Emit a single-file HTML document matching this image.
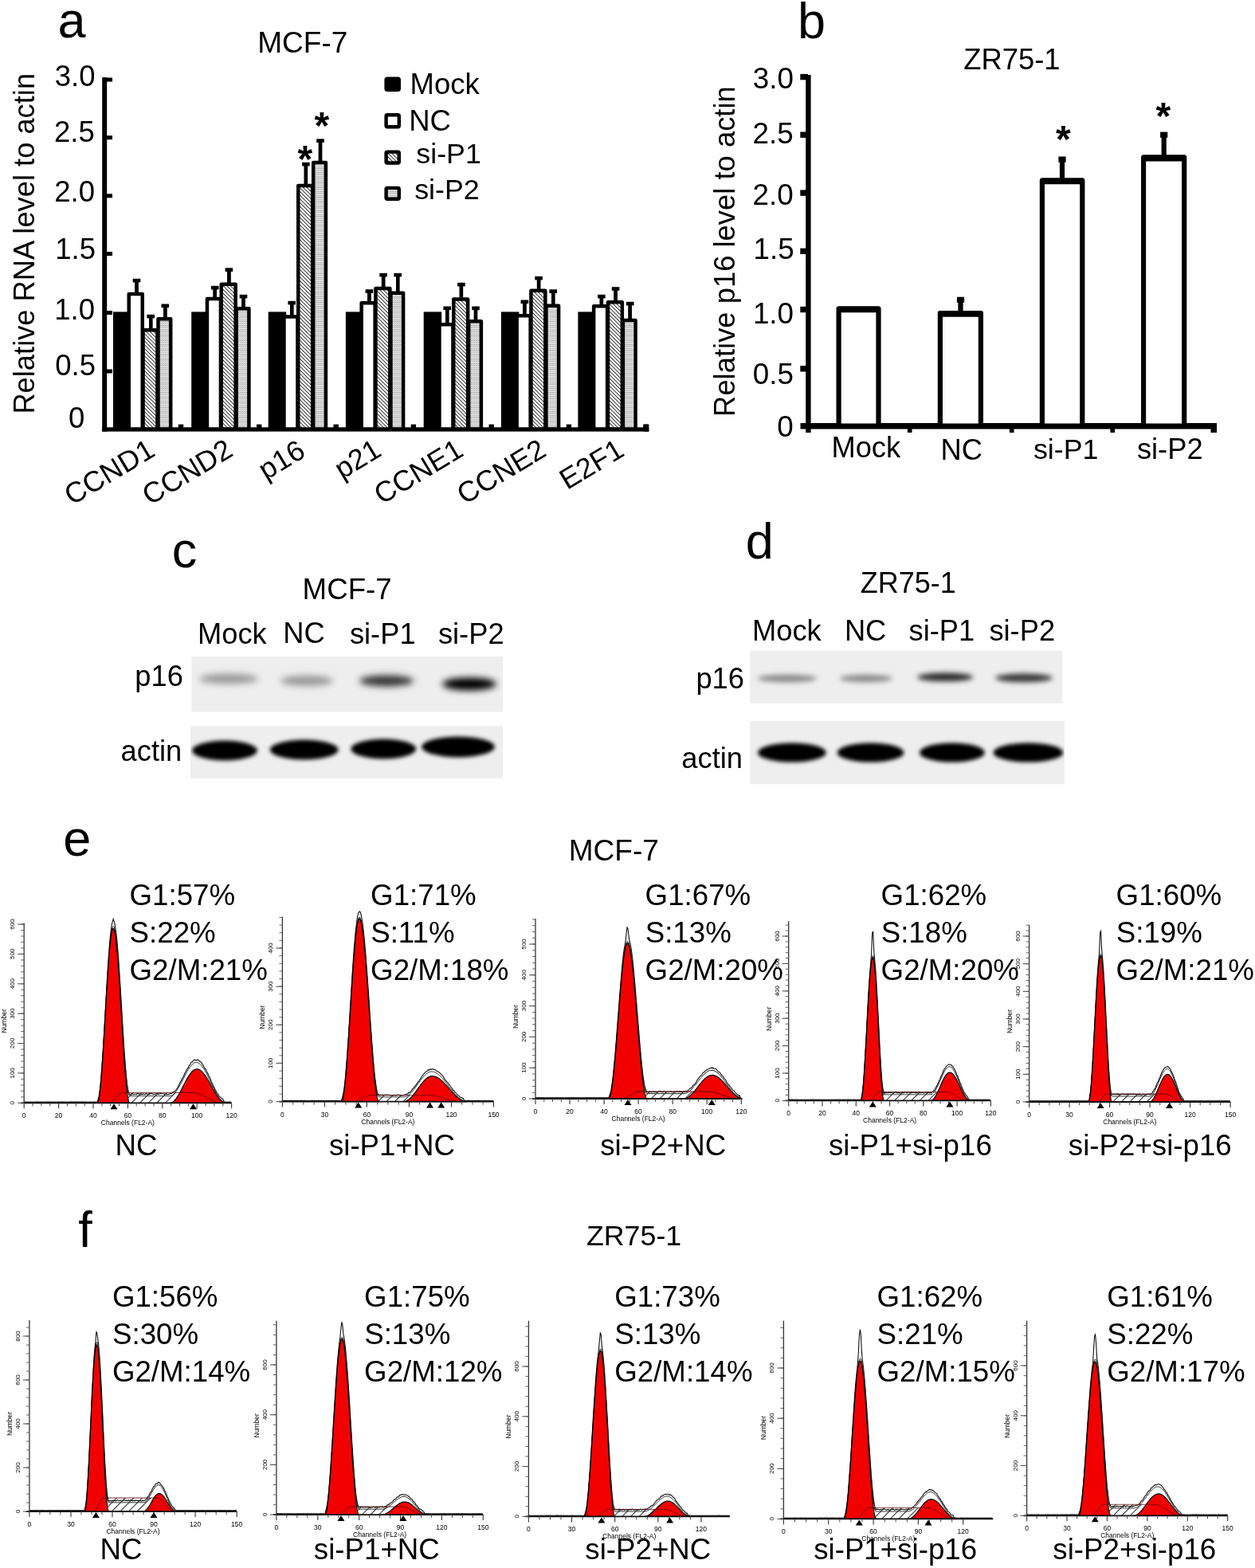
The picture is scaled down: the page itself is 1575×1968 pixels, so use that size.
<!DOCTYPE html>
<html><head><meta charset="utf-8"><title>Figure</title>
<style>
html,body{margin:0;padding:0;background:#fff;}
svg{display:block;}
text{font-family:'Liberation Sans', Arial, sans-serif;fill:#000;}
</style></head>
<body>
<svg width="1575" height="1968" viewBox="0 0 1575 1968">
<rect width="1575" height="1968" fill="#fff"/>
<defs>
<pattern id="hatch" patternUnits="userSpaceOnUse" width="3.3" height="3.3" patternTransform="rotate(-45)"><rect width="3.3" height="3.3" fill="#fff"/><rect width="0.9" height="3.3" fill="#222"/></pattern>
<pattern id="dots" patternUnits="userSpaceOnUse" width="3" height="2.4"><rect width="3" height="2.4" fill="#ececec"/><rect width="2" height="0.9" fill="#9a9a9a"/><rect x="2" y="0.4" width="1" height="0.9" fill="#b4b4b4"/></pattern>
<pattern id="shatch" patternUnits="userSpaceOnUse" width="7.5" height="7.5" patternTransform="rotate(45)"><rect width="7.5" height="7.5" fill="#fff"/><rect width="1.0" height="7.5" fill="#222"/></pattern>
<pattern id="rhatch" patternUnits="userSpaceOnUse" width="7" height="7" patternTransform="rotate(-45)"><rect width="7" height="7" fill="#f00"/><rect width="1.1" height="7" fill="#a00"/></pattern>
<filter id="bl0" x="-30%" y="-80%" width="160%" height="260%"><feGaussianBlur stdDeviation="3.2"/></filter>
<filter id="bl1" x="-30%" y="-80%" width="160%" height="260%"><feGaussianBlur stdDeviation="4.5"/></filter>
<filter id="bl2" x="-30%" y="-80%" width="160%" height="260%"><feGaussianBlur stdDeviation="2.8"/></filter>
</defs>
<rect x="128.20" y="97.00" width="6.00" height="444.60" fill="#000"/>
<rect x="128.20" y="536.30" width="686.10" height="5.30" fill="#000"/>
<rect x="133.00" y="97.50" width="8.00" height="5.00" fill="#000"/>
<rect x="133.00" y="170.20" width="8.00" height="5.00" fill="#000"/>
<rect x="133.00" y="243.30" width="8.00" height="5.00" fill="#000"/>
<rect x="133.00" y="316.00" width="8.00" height="5.00" fill="#000"/>
<rect x="133.00" y="390.00" width="8.00" height="5.00" fill="#000"/>
<rect x="133.00" y="463.50" width="8.00" height="5.00" fill="#000"/>
<text x="68.7" y="107.6" font-size="36.5">3.0</text>
<text x="68.0" y="178.0" font-size="36.5">2.5</text>
<text x="68.2" y="253.4" font-size="36.5">2.0</text>
<text x="69.2" y="324.6" font-size="36.5">1.5</text>
<text x="68.2" y="400.7" font-size="36.5">1.0</text>
<text x="69.2" y="470.6" font-size="36.5">0.5</text>
<text x="86.1" y="537.2" font-size="36.5">0</text>
<text transform="translate(42.8,519.6) rotate(-90)" font-size="36.3">Relative RNA level to actin</text>
<text x="323.3" y="66.2" font-size="37">MCF-7</text>
<rect x="169.30" y="352.00" width="4.40" height="17.70" fill="#000"/>
<rect x="166.70" y="349.80" width="9.60" height="4.60" fill="#000"/>
<rect x="187.00" y="397.00" width="4.40" height="18.00" fill="#000"/>
<rect x="184.40" y="394.80" width="9.60" height="4.60" fill="#000"/>
<rect x="205.10" y="383.70" width="4.40" height="17.30" fill="#000"/>
<rect x="202.50" y="381.50" width="9.60" height="4.60" fill="#000"/>
<rect x="142.00" y="391.40" width="22.50" height="147.10" fill="#000"/>
<rect x="161.75" y="368.95" width="17" height="169.55" fill="#fff" stroke="#000" stroke-width="4.5" stroke-linejoin="round"/>
<rect x="179.55" y="414.25" width="17.9" height="124.25" fill="url(#hatch)" stroke="#000" stroke-width="4.5" stroke-linejoin="round"/>
<rect x="198.50" y="400.25" width="15.7" height="138.25" fill="url(#dots)" stroke="#000" stroke-width="4.5" stroke-linejoin="round"/>
<rect x="169.30" y="352.00" width="4.40" height="16.70" fill="#000"/>
<rect x="187.00" y="397.00" width="4.40" height="17.00" fill="#000"/>
<rect x="205.10" y="383.70" width="4.40" height="16.30" fill="#000"/>
<rect x="223.80" y="532.60" width="6.40" height="4.40" fill="#000"/>
<rect x="267.50" y="361.00" width="4.40" height="14.80" fill="#000"/>
<rect x="264.90" y="358.80" width="9.60" height="4.60" fill="#000"/>
<rect x="285.20" y="338.50" width="4.40" height="19.10" fill="#000"/>
<rect x="282.60" y="336.30" width="9.60" height="4.60" fill="#000"/>
<rect x="303.30" y="372.00" width="4.40" height="16.00" fill="#000"/>
<rect x="300.70" y="369.80" width="9.60" height="4.60" fill="#000"/>
<rect x="240.20" y="391.40" width="22.50" height="147.10" fill="#000"/>
<rect x="259.95" y="375.05" width="17" height="163.45" fill="#fff" stroke="#000" stroke-width="4.5" stroke-linejoin="round"/>
<rect x="277.75" y="356.85" width="17.9" height="181.65" fill="url(#hatch)" stroke="#000" stroke-width="4.5" stroke-linejoin="round"/>
<rect x="296.70" y="387.25" width="15.7" height="151.25" fill="url(#dots)" stroke="#000" stroke-width="4.5" stroke-linejoin="round"/>
<rect x="267.50" y="361.00" width="4.40" height="13.80" fill="#000"/>
<rect x="285.20" y="338.50" width="4.40" height="18.10" fill="#000"/>
<rect x="303.30" y="372.00" width="4.40" height="15.00" fill="#000"/>
<rect x="322.00" y="532.60" width="6.40" height="4.40" fill="#000"/>
<rect x="364.00" y="380.00" width="4.40" height="18.20" fill="#000"/>
<rect x="361.40" y="377.80" width="9.60" height="4.60" fill="#000"/>
<rect x="381.70" y="206.00" width="4.40" height="27.80" fill="#000"/>
<rect x="379.10" y="203.80" width="9.60" height="4.60" fill="#000"/>
<rect x="399.80" y="176.50" width="4.40" height="28.30" fill="#000"/>
<rect x="397.20" y="174.30" width="9.60" height="4.60" fill="#000"/>
<rect x="336.70" y="391.40" width="22.50" height="147.10" fill="#000"/>
<rect x="356.45" y="397.45" width="17" height="141.05" fill="#fff" stroke="#000" stroke-width="4.5" stroke-linejoin="round"/>
<rect x="374.25" y="233.05" width="17.9" height="305.45" fill="url(#hatch)" stroke="#000" stroke-width="4.5" stroke-linejoin="round"/>
<rect x="393.20" y="204.05" width="15.7" height="334.45" fill="url(#dots)" stroke="#000" stroke-width="4.5" stroke-linejoin="round"/>
<rect x="364.00" y="380.00" width="4.40" height="17.20" fill="#000"/>
<rect x="381.70" y="206.00" width="4.40" height="26.80" fill="#000"/>
<rect x="399.80" y="176.50" width="4.40" height="27.30" fill="#000"/>
<rect x="418.50" y="532.60" width="6.40" height="4.40" fill="#000"/>
<rect x="461.20" y="365.40" width="4.40" height="15.60" fill="#000"/>
<rect x="458.60" y="363.20" width="9.60" height="4.60" fill="#000"/>
<rect x="478.90" y="345.00" width="4.40" height="17.80" fill="#000"/>
<rect x="476.30" y="342.80" width="9.60" height="4.60" fill="#000"/>
<rect x="497.00" y="345.00" width="4.40" height="23.60" fill="#000"/>
<rect x="494.40" y="342.80" width="9.60" height="4.60" fill="#000"/>
<rect x="433.90" y="391.40" width="22.50" height="147.10" fill="#000"/>
<rect x="453.65" y="380.25" width="17" height="158.25" fill="#fff" stroke="#000" stroke-width="4.5" stroke-linejoin="round"/>
<rect x="471.45" y="362.05" width="17.9" height="176.45" fill="url(#hatch)" stroke="#000" stroke-width="4.5" stroke-linejoin="round"/>
<rect x="490.40" y="367.85" width="15.7" height="170.65" fill="url(#dots)" stroke="#000" stroke-width="4.5" stroke-linejoin="round"/>
<rect x="461.20" y="365.40" width="4.40" height="14.60" fill="#000"/>
<rect x="478.90" y="345.00" width="4.40" height="16.80" fill="#000"/>
<rect x="497.00" y="345.00" width="4.40" height="22.60" fill="#000"/>
<rect x="515.70" y="532.60" width="6.40" height="4.40" fill="#000"/>
<rect x="559.00" y="386.70" width="4.40" height="21.20" fill="#000"/>
<rect x="556.40" y="384.50" width="9.60" height="4.60" fill="#000"/>
<rect x="576.70" y="357.00" width="4.40" height="19.20" fill="#000"/>
<rect x="574.10" y="354.80" width="9.60" height="4.60" fill="#000"/>
<rect x="594.80" y="386.70" width="4.40" height="17.30" fill="#000"/>
<rect x="592.20" y="384.50" width="9.60" height="4.60" fill="#000"/>
<rect x="531.70" y="391.40" width="22.50" height="147.10" fill="#000"/>
<rect x="551.45" y="407.15" width="17" height="131.35" fill="#fff" stroke="#000" stroke-width="4.5" stroke-linejoin="round"/>
<rect x="569.25" y="375.45" width="17.9" height="163.05" fill="url(#hatch)" stroke="#000" stroke-width="4.5" stroke-linejoin="round"/>
<rect x="588.20" y="403.25" width="15.7" height="135.25" fill="url(#dots)" stroke="#000" stroke-width="4.5" stroke-linejoin="round"/>
<rect x="559.00" y="386.70" width="4.40" height="20.20" fill="#000"/>
<rect x="576.70" y="357.00" width="4.40" height="18.20" fill="#000"/>
<rect x="594.80" y="386.70" width="4.40" height="16.30" fill="#000"/>
<rect x="613.50" y="532.60" width="6.40" height="4.40" fill="#000"/>
<rect x="656.20" y="378.70" width="4.40" height="18.40" fill="#000"/>
<rect x="653.60" y="376.50" width="9.60" height="4.60" fill="#000"/>
<rect x="673.90" y="349.00" width="4.40" height="16.40" fill="#000"/>
<rect x="671.30" y="346.80" width="9.60" height="4.60" fill="#000"/>
<rect x="692.00" y="365.50" width="4.40" height="18.90" fill="#000"/>
<rect x="689.40" y="363.30" width="9.60" height="4.60" fill="#000"/>
<rect x="628.90" y="391.40" width="22.50" height="147.10" fill="#000"/>
<rect x="648.65" y="396.35" width="17" height="142.15" fill="#fff" stroke="#000" stroke-width="4.5" stroke-linejoin="round"/>
<rect x="666.45" y="364.65" width="17.9" height="173.85" fill="url(#hatch)" stroke="#000" stroke-width="4.5" stroke-linejoin="round"/>
<rect x="685.40" y="383.65" width="15.7" height="154.85" fill="url(#dots)" stroke="#000" stroke-width="4.5" stroke-linejoin="round"/>
<rect x="656.20" y="378.70" width="4.40" height="17.40" fill="#000"/>
<rect x="673.90" y="349.00" width="4.40" height="15.40" fill="#000"/>
<rect x="692.00" y="365.50" width="4.40" height="17.90" fill="#000"/>
<rect x="710.70" y="532.60" width="6.40" height="4.40" fill="#000"/>
<rect x="752.70" y="372.00" width="4.40" height="13.00" fill="#000"/>
<rect x="750.10" y="369.80" width="9.60" height="4.60" fill="#000"/>
<rect x="770.40" y="362.40" width="4.40" height="17.60" fill="#000"/>
<rect x="767.80" y="360.20" width="9.60" height="4.60" fill="#000"/>
<rect x="788.50" y="381.00" width="4.40" height="21.80" fill="#000"/>
<rect x="785.90" y="378.80" width="9.60" height="4.60" fill="#000"/>
<rect x="725.40" y="391.40" width="22.50" height="147.10" fill="#000"/>
<rect x="745.15" y="384.25" width="17" height="154.25" fill="#fff" stroke="#000" stroke-width="4.5" stroke-linejoin="round"/>
<rect x="762.95" y="379.25" width="17.9" height="159.25" fill="url(#hatch)" stroke="#000" stroke-width="4.5" stroke-linejoin="round"/>
<rect x="781.90" y="402.05" width="15.7" height="136.45" fill="url(#dots)" stroke="#000" stroke-width="4.5" stroke-linejoin="round"/>
<rect x="752.70" y="372.00" width="4.40" height="12.00" fill="#000"/>
<rect x="770.40" y="362.40" width="4.40" height="16.60" fill="#000"/>
<rect x="788.50" y="381.00" width="4.40" height="20.80" fill="#000"/>
<rect x="807.20" y="532.60" width="6.40" height="4.40" fill="#000"/>
<rect x="808.00" y="532.60" width="6.30" height="9.00" fill="#000"/>
<text x="394.5" y="174.3" font-size="48" font-weight="bold">*</text>
<text x="373.6" y="216.3" font-size="48" font-weight="bold">*</text>
<rect x="484.6" y="98.8" width="16.2" height="14.0" rx="1.5" fill="#000" stroke="#000" stroke-width="4.4"/>
<rect x="484.6" y="144.2" width="16.2" height="15.0" rx="1.5" fill="#fff" stroke="#000" stroke-width="4.4"/>
<rect x="484.6" y="190.6" width="16.2" height="13.9" rx="1.5" fill="url(#hatch)" stroke="#000" stroke-width="4.4"/>
<rect x="484.6" y="235.9" width="16.2" height="13.9" rx="1.5" fill="url(#dots)" stroke="#000" stroke-width="4.4"/>
<text x="514.5" y="117.7" font-size="36.5">Mock</text>
<text x="513.2" y="163.5" font-size="36.5">NC</text>
<text x="522.3" y="205.2" font-size="35.8">si-P1</text>
<text x="520.2" y="249.5" font-size="35.8">si-P2</text>
<text transform="translate(196.6,571.0) rotate(-31)" font-size="36" text-anchor="end">CCND1</text>
<text transform="translate(294.4,571.0) rotate(-31)" font-size="36" text-anchor="end">CCND2</text>
<text transform="translate(385.3,572.0) rotate(-31)" font-size="36" text-anchor="end">p16</text>
<text transform="translate(480.7,571.0) rotate(-31)" font-size="36" text-anchor="end">p21</text>
<text transform="translate(583.6,571.0) rotate(-31)" font-size="36" text-anchor="end">CCNE1</text>
<text transform="translate(687.7,571.0) rotate(-31)" font-size="36" text-anchor="end">CCNE2</text>
<text transform="translate(785.5,571.0) rotate(-31)" font-size="36" text-anchor="end">E2F1</text>
<text x="72.6" y="46.5" font-size="63">a</text>
<rect x="1011.20" y="94.00" width="6.40" height="449.00" fill="#000"/>
<rect x="1004.50" y="531.00" width="522.50" height="7.50" fill="#000"/>
<rect x="1004.30" y="92.90" width="9.70" height="7.40" fill="#000"/>
<rect x="1004.30" y="165.50" width="9.70" height="7.40" fill="#000"/>
<rect x="1004.30" y="238.40" width="9.70" height="7.40" fill="#000"/>
<rect x="1004.30" y="311.60" width="9.70" height="7.40" fill="#000"/>
<rect x="1004.30" y="384.80" width="9.70" height="7.40" fill="#000"/>
<rect x="1004.30" y="459.10" width="9.70" height="7.40" fill="#000"/>
<rect x="1138.90" y="536.00" width="5.60" height="7.00" fill="#000"/>
<rect x="1266.90" y="536.00" width="5.60" height="7.00" fill="#000"/>
<rect x="1393.40" y="536.00" width="5.60" height="7.00" fill="#000"/>
<rect x="1519.50" y="531.00" width="7.50" height="12.00" fill="#000"/>
<text x="944.8" y="111.1" font-size="36.8">3.0</text>
<text x="944.5" y="179.5" font-size="36.8">2.5</text>
<text x="944.6" y="256.6" font-size="36.8">2.0</text>
<text x="945.5" y="324.8" font-size="36.8">1.5</text>
<text x="944.9" y="406.2" font-size="36.8">1.0</text>
<text x="944.7" y="482.0" font-size="36.8">0.5</text>
<text x="975.2" y="547.8" font-size="36.8">0</text>
<text transform="translate(921.9,522.9) rotate(-90)" font-size="36.4">Relative p16 level to actin</text>
<text x="1209.2" y="86.8" font-size="36.4">ZR75-1</text>
<text x="1000.9" y="48.4" font-size="63">b</text>
<rect x="1052.60" y="387.60" width="49.90" height="147.10" fill="#fff" stroke="#000" stroke-width="6.2" stroke-linejoin="round"/>
<rect x="1050.50" y="384.50" width="54.10" height="7.8" rx="1.5" fill="#000"/>
<rect x="1202.40" y="375.70" width="6.20" height="17.30" fill="#000"/>
<rect x="1200.90" y="372.70" width="9.20" height="7.20" fill="#000"/>
<rect x="1179.90" y="393.10" width="51.00" height="141.60" fill="#fff" stroke="#000" stroke-width="6.2" stroke-linejoin="round"/>
<rect x="1177.80" y="390.00" width="55.20" height="7.8" rx="1.5" fill="#000"/>
<rect x="1329.90" y="199.50" width="6.20" height="27.00" fill="#000"/>
<rect x="1328.40" y="196.50" width="9.20" height="7.20" fill="#000"/>
<rect x="1307.90" y="226.60" width="50.40" height="308.10" fill="#fff" stroke="#000" stroke-width="6.2" stroke-linejoin="round"/>
<rect x="1305.80" y="223.50" width="54.60" height="7.8" rx="1.5" fill="#000"/>
<rect x="1457.60" y="168.60" width="6.20" height="29.00" fill="#000"/>
<rect x="1456.10" y="165.60" width="9.20" height="7.20" fill="#000"/>
<rect x="1435.10" y="197.70" width="51.10" height="337.00" fill="#fff" stroke="#000" stroke-width="6.2" stroke-linejoin="round"/>
<rect x="1433.00" y="194.60" width="55.30" height="7.8" rx="1.5" fill="#000"/>
<text x="1325.0" y="191.2" font-size="48" font-weight="bold">*</text>
<text x="1450.4" y="162.2" font-size="48" font-weight="bold">*</text>
<text x="1043.4" y="574.0" font-size="36.3">Mock</text>
<text x="1180.6" y="576.5" font-size="36.3">NC</text>
<text x="1296.9" y="576.3" font-size="35.8">si-P1</text>
<text x="1426.9" y="576.3" font-size="36.3">si-P2</text>
<text x="215.7" y="711.5" font-size="63">c</text>
<text x="379.6" y="751.7" font-size="36.7">MCF-7</text>
<text x="248.0" y="807.7" font-size="36.3">Mock</text>
<text x="355.2" y="807.3" font-size="36.3">NC</text>
<text x="438.9" y="807.5" font-size="36.3">si-P1</text>
<text x="549.9" y="807.5" font-size="36.3">si-P2</text>
<text x="169.3" y="860.6" font-size="36.3">p16</text>
<text x="151.6" y="955.2" font-size="36.3">actin</text>
<rect x="240.4" y="824.1" width="390.6" height="69.5" fill="#eeeeee"/>
<svg x="240.4" y="824.1" width="390.6" height="69.5" overflow="hidden">
<ellipse cx="46.8" cy="27.9" rx="37" ry="6.5" fill="#999" filter="url(#bl1)"/>
<ellipse cx="144.6" cy="30.4" rx="33" ry="6.5" fill="#979797" filter="url(#bl1)"/>
<ellipse cx="244.6" cy="30.4" rx="34" ry="7" fill="#353535" filter="url(#bl1)"/>
<ellipse cx="348.6" cy="34.4" rx="34" ry="8" fill="#000" filter="url(#bl1)"/>
</svg>
<rect x="239.0" y="911.3" width="392.0" height="65.70000000000005" fill="#eeeeee"/>
<svg x="239.0" y="911.3" width="392.0" height="65.70000000000005" overflow="hidden">
<ellipse cx="43.0" cy="30.7" rx="41" ry="12.5" fill="#000" filter="url(#bl2)"/>
<ellipse cx="142.7" cy="29.7" rx="43" ry="12.5" fill="#000" filter="url(#bl2)"/>
<ellipse cx="242.3" cy="28.7" rx="41" ry="12.5" fill="#000" filter="url(#bl2)"/>
<ellipse cx="336.0" cy="26.1" rx="46" ry="13" fill="#000" filter="url(#bl2)"/>
</svg>
<text x="935.8" y="701.3" font-size="63">d</text>
<text x="1079.8" y="743.7" font-size="36">ZR75-1</text>
<text x="944.0" y="804.1" font-size="36.3">Mock</text>
<text x="1059.9" y="803.6" font-size="36.3">NC</text>
<text x="1140.5" y="803.8" font-size="36.3">si-P1</text>
<text x="1241.4" y="803.8" font-size="36.3">si-P2</text>
<text x="873.4" y="864.1" font-size="36.3">p16</text>
<text x="855.3" y="964.3" font-size="36.3">actin</text>
<rect x="941.0" y="816.9" width="392.20000000000005" height="65.80000000000007" fill="#eeeeee"/>
<svg x="941.0" y="816.9" width="392.20000000000005" height="65.80000000000007" overflow="hidden">
<ellipse cx="47.0" cy="34.6" rx="37" ry="5.0" fill="#8c8c8c" filter="url(#bl0)"/>
<ellipse cx="145.8" cy="34.6" rx="33" ry="5.0" fill="#8e8e8e" filter="url(#bl0)"/>
<ellipse cx="245.3" cy="32.9" rx="35" ry="5.5" fill="#2e2e2e" filter="url(#bl0)"/>
<ellipse cx="344.0" cy="33.9" rx="36" ry="5.5" fill="#3a3a3a" filter="url(#bl0)"/>
</svg>
<rect x="941.0" y="905.0" width="394.79999999999995" height="79.20000000000005" fill="#eeeeee"/>
<svg x="941.0" y="905.0" width="394.79999999999995" height="79.20000000000005" overflow="hidden">
<ellipse cx="52.9" cy="39.6" rx="43" ry="12" fill="#000" filter="url(#bl2)"/>
<ellipse cx="151.6" cy="39.6" rx="42" ry="12" fill="#000" filter="url(#bl2)"/>
<ellipse cx="253.9" cy="39.6" rx="41" ry="12" fill="#000" filter="url(#bl2)"/>
<ellipse cx="349.4" cy="39.6" rx="44" ry="12" fill="#000" filter="url(#bl2)"/>
</svg>
<text x="79.2" y="1074.0" font-size="63">e</text>
<text x="713.8" y="1079.9" font-size="37">MCF-7</text>
<text x="98.3" y="1565.0" font-size="63">f</text>
<text x="735.9" y="1563.0" font-size="35.8">ZR75-1</text>
<polygon points="137.1,1384.3 137.2,1384.3 138.2,1384.1 139.2,1383.7 140.2,1383.0 141.2,1382.2 142.2,1381.3 143.2,1380.2 144.2,1379.0 145.2,1377.8 146.2,1376.7 147.2,1375.5 148.2,1374.4 149.2,1373.5 150.2,1372.6 151.2,1372.0 152.2,1371.5 153.2,1371.3 154.2,1371.3 155.2,1371.3 156.2,1371.3 157.2,1371.3 158.2,1371.3 159.2,1371.3 160.2,1371.3 161.2,1371.3 162.2,1371.3 163.2,1371.3 164.2,1371.3 165.2,1371.3 166.2,1371.3 167.2,1371.3 168.2,1371.3 169.2,1371.3 170.2,1371.3 171.2,1371.3 172.2,1371.3 173.2,1371.3 174.2,1371.3 175.2,1371.3 176.2,1371.3 177.2,1371.3 178.2,1371.3 179.2,1371.3 180.2,1371.3 181.2,1371.3 182.2,1371.3 183.2,1371.3 184.2,1371.3 185.2,1371.3 186.2,1371.3 187.2,1371.3 188.2,1371.3 189.2,1371.3 190.2,1371.3 191.2,1371.3 192.2,1371.3 193.2,1371.3 194.2,1371.3 195.2,1371.3 196.2,1371.3 197.2,1371.3 198.2,1371.3 199.2,1371.3 200.2,1371.3 201.2,1371.3 202.2,1371.3 203.2,1371.3 204.2,1371.3 205.2,1371.3 206.2,1371.3 207.2,1371.3 208.2,1371.3 209.2,1371.3 210.2,1371.3 211.2,1371.3 212.2,1371.3 213.2,1371.3 214.2,1371.3 215.2,1371.3 216.2,1371.3 217.2,1371.3 218.2,1371.3 219.2,1371.3 220.2,1371.3 221.2,1371.3 222.2,1371.3 223.2,1371.3 224.2,1371.3 225.2,1371.3 226.2,1371.3 227.2,1371.3 228.2,1371.3 229.2,1371.3 230.2,1371.3 231.2,1371.3 232.2,1371.3 233.2,1371.3 234.2,1371.3 235.2,1371.3 236.2,1371.3 237.2,1371.3 238.2,1371.3 239.2,1371.3 240.2,1371.3 241.2,1371.3 242.2,1371.3 243.2,1371.3 244.2,1371.5 245.2,1371.6 246.2,1371.8 247.2,1372.1 248.2,1372.4 249.2,1372.7 250.2,1373.1 251.2,1373.5 252.2,1373.9 253.2,1374.3 254.2,1374.8 255.2,1375.3 256.2,1375.8 257.2,1376.4 258.2,1376.9 259.2,1377.4 260.2,1378.0 261.2,1378.5 262.2,1379.0 263.2,1379.6 264.2,1380.1 265.2,1380.6 266.2,1381.1 267.2,1381.5 268.2,1382.0 269.2,1382.4 270.2,1382.8 271.2,1383.1 272.2,1383.4 273.2,1383.7 274.2,1383.9 275.2,1384.1 276.2,1384.2 277.2,1384.3 277.9,1384.3" fill="url(#shatch)"/>
<polyline points="30.2,1383.2 31.2,1383.2 32.2,1383.1 33.2,1383.3 34.2,1383.1 35.2,1383.2 36.2,1383.3 37.2,1383.1 38.2,1383.3 39.2,1383.2 40.2,1383.3 41.2,1383.3 42.2,1383.2 43.2,1383.1 44.2,1383.2 45.2,1383.2 46.2,1383.1 47.2,1383.0 48.2,1383.1 49.2,1383.2 50.2,1383.0 51.2,1383.3 52.2,1383.1 53.2,1383.2 54.2,1383.2 55.2,1383.2 56.2,1383.2 57.2,1383.1 58.2,1383.2 59.2,1383.1 60.2,1383.1 61.2,1383.2 62.2,1383.1 63.2,1383.3 64.2,1383.3 65.2,1383.2 66.2,1383.1 67.2,1383.2 68.2,1383.2 69.2,1383.1 70.2,1383.2 71.2,1383.2 72.2,1383.1 73.2,1383.1 74.2,1383.2 75.2,1383.1 76.2,1383.1 77.2,1383.1 78.2,1383.1 79.2,1383.2 80.2,1383.0 81.2,1383.2 82.2,1383.2 83.2,1383.1 84.2,1383.2 85.2,1383.2 86.2,1383.3 87.2,1383.1 88.2,1383.1 89.2,1383.1 90.2,1383.1 91.2,1383.2 92.2,1383.1 93.2,1383.1 94.2,1383.1 95.2,1383.2 96.2,1383.1 97.2,1383.0 98.2,1383.2 99.2,1383.1 100.2,1383.3 101.2,1383.1 102.2,1383.1 103.2,1383.0 104.2,1383.1 105.2,1383.2 106.2,1383.2 107.2,1383.1 108.2,1383.3 109.2,1383.2 110.2,1383.2 111.2,1383.2 112.2,1383.3 113.2,1383.1 114.2,1383.2 115.2,1383.2 116.2,1383.2 117.2,1383.1 118.2,1383.3 119.2,1383.2 120.2,1383.1 121.2,1383.1 122.2,1383.1 123.2,1379.2 124.2,1375.8 125.2,1368.7 126.2,1359.5 127.2,1347.2 128.2,1333.6 129.2,1319.4 130.2,1302.9 131.2,1285.6 132.2,1267.9 133.2,1249.9 134.2,1232.7 135.2,1216.8 136.2,1202.3 137.2,1188.5 138.2,1177.3 139.2,1167.9 140.2,1160.7 141.2,1156.9 142.2,1153.5 143.2,1156.7 144.2,1160.2 145.2,1167.0 146.2,1174.1 147.2,1184.6 148.2,1196.6 149.2,1210.5 150.2,1226.0 151.2,1241.9 152.2,1258.8 153.2,1274.8 154.2,1292.1 155.2,1308.0 156.2,1322.6 157.2,1336.1 158.2,1347.6 159.2,1357.7 160.2,1365.4 161.2,1370.4 162.2,1373.2 163.2,1373.3 164.2,1373.7 165.2,1372.6 166.2,1372.9 167.2,1373.5 168.2,1373.4 169.2,1373.3 170.2,1373.3 171.2,1373.6 172.2,1372.6 173.2,1372.4 174.2,1373.1 175.2,1373.1 176.2,1373.6 177.2,1373.6 178.2,1373.3 179.2,1373.4 180.2,1372.6 181.2,1373.5 182.2,1373.7 183.2,1372.5 184.2,1373.0 185.2,1373.5 186.2,1373.0 187.2,1373.7 188.2,1373.0 189.2,1372.5 190.2,1372.6 191.2,1372.8 192.2,1373.4 193.2,1373.2 194.2,1373.5 195.2,1372.7 196.2,1373.0 197.2,1372.7 198.2,1373.3 199.2,1373.4 200.2,1372.7 201.2,1372.4 202.2,1372.6 203.2,1372.7 204.2,1372.7 205.2,1372.8 206.2,1373.4 207.2,1373.1 208.2,1373.3 209.2,1373.7 210.2,1373.7 211.2,1373.4 212.2,1373.4 213.2,1372.8 214.2,1372.3 215.2,1372.7 216.2,1371.6 217.2,1370.8 218.2,1370.0 219.2,1369.8 220.2,1368.8 221.2,1367.5 222.2,1366.1 223.2,1364.5 224.2,1362.3 225.2,1360.2 226.2,1358.4 227.2,1356.9 228.2,1354.8 229.2,1352.6 230.2,1351.5 231.2,1348.8 232.2,1346.5 233.2,1344.7 234.2,1342.9 235.2,1341.4 236.2,1340.1 237.2,1337.6 238.2,1336.7 239.2,1334.7 240.2,1333.2 241.2,1332.9 242.2,1331.9 243.2,1330.5 244.2,1330.2 245.2,1330.6 246.2,1330.6 247.2,1330.6 248.2,1330.0 249.2,1330.6 250.2,1332.1 251.2,1332.0 252.2,1332.8 253.2,1334.4 254.2,1336.1 255.2,1337.3 256.2,1339.5 257.2,1341.3 258.2,1341.9 259.2,1344.3 260.2,1346.4 261.2,1348.0 262.2,1350.7 263.2,1352.3 264.2,1354.5 265.2,1357.5 266.2,1359.6 267.2,1361.7 268.2,1363.9 269.2,1365.5 270.2,1367.9 271.2,1369.5 272.2,1371.7 273.2,1372.3 274.2,1374.6 275.2,1375.8 276.2,1376.9 277.2,1377.5 278.2,1379.0 279.2,1379.1 280.2,1380.2 281.2,1382.8 282.2,1383.0 283.2,1383.3 284.2,1383.2 285.2,1383.2 286.2,1383.3 287.2,1383.1 288.2,1383.2 289.2,1383.2 290.2,1383.1" fill="none" stroke="#111" stroke-width="1.1"/>
<polyline points="30.2,1383.3 31.2,1383.3 32.2,1383.3 33.2,1383.3 34.2,1383.3 35.2,1383.3 36.2,1383.3 37.2,1383.3 38.2,1383.3 39.2,1383.3 40.2,1383.3 41.2,1383.3 42.2,1383.3 43.2,1383.3 44.2,1383.3 45.2,1383.3 46.2,1383.3 47.2,1383.3 48.2,1383.3 49.2,1383.3 50.2,1383.3 51.2,1383.3 52.2,1383.3 53.2,1383.3 54.2,1383.3 55.2,1383.3 56.2,1383.3 57.2,1383.3 58.2,1383.3 59.2,1383.3 60.2,1383.3 61.2,1383.3 62.2,1383.3 63.2,1383.3 64.2,1383.3 65.2,1383.3 66.2,1383.3 67.2,1383.3 68.2,1383.3 69.2,1383.3 70.2,1383.3 71.2,1383.3 72.2,1383.3 73.2,1383.3 74.2,1383.3 75.2,1383.3 76.2,1383.3 77.2,1383.3 78.2,1383.3 79.2,1383.3 80.2,1383.3 81.2,1383.3 82.2,1383.3 83.2,1383.3 84.2,1383.3 85.2,1383.3 86.2,1383.3 87.2,1383.3 88.2,1383.3 89.2,1383.3 90.2,1383.3 91.2,1383.3 92.2,1383.3 93.2,1383.3 94.2,1383.3 95.2,1383.3 96.2,1383.3 97.2,1383.3 98.2,1383.3 99.2,1383.3 100.2,1383.3 101.2,1383.3 102.2,1383.3 103.2,1383.3 104.2,1383.3 105.2,1383.3 106.2,1383.3 107.2,1383.3 108.2,1383.3 109.2,1383.3 110.2,1383.3 111.2,1383.3 112.2,1383.3 113.2,1383.3 114.2,1383.3 115.2,1383.3 116.2,1383.3 117.2,1383.3 118.2,1383.3 119.2,1383.3 120.2,1383.3 121.2,1383.3 122.2,1383.3 123.2,1381.9 124.2,1377.8 125.2,1371.1 126.2,1362.0 127.2,1350.6 128.2,1337.3 129.2,1322.4 130.2,1306.3 131.2,1289.4 132.2,1272.0 133.2,1254.8 134.2,1237.9 135.2,1222.0 136.2,1207.4 137.2,1194.5 138.2,1183.4 139.2,1174.5 140.2,1167.9 141.2,1163.8 142.2,1162.4 143.2,1163.5 144.2,1167.0 145.2,1172.9 146.2,1181.0 147.2,1191.1 148.2,1203.0 149.2,1216.5 150.2,1231.2 151.2,1246.8 152.2,1263.0 153.2,1279.4 154.2,1295.6 155.2,1311.1 156.2,1325.7 157.2,1338.8 158.2,1350.3 159.2,1359.9 160.2,1367.3 161.2,1372.4 162.2,1375.1 163.2,1375.5 164.2,1375.5 165.2,1375.5 166.2,1375.5 167.2,1375.5 168.2,1375.5 169.2,1375.5 170.2,1375.5 171.2,1375.5 172.2,1375.5 173.2,1375.5 174.2,1375.5 175.2,1375.5 176.2,1375.5 177.2,1375.5 178.2,1375.5 179.2,1375.5 180.2,1375.5 181.2,1375.5 182.2,1375.5 183.2,1375.5 184.2,1375.5 185.2,1375.5 186.2,1375.5 187.2,1375.5 188.2,1375.5 189.2,1375.5 190.2,1375.5 191.2,1375.5 192.2,1375.5 193.2,1375.5 194.2,1375.5 195.2,1375.5 196.2,1375.5 197.2,1375.5 198.2,1375.5 199.2,1375.5 200.2,1375.5 201.2,1375.5 202.2,1375.5 203.2,1375.5 204.2,1375.5 205.2,1375.5 206.2,1375.5 207.2,1375.5 208.2,1375.5 209.2,1375.5 210.2,1375.5 211.2,1375.5 212.2,1375.5 213.2,1375.5 214.2,1375.4 215.2,1375.1 216.2,1374.6 217.2,1373.9 218.2,1373.1 219.2,1372.1 220.2,1370.9 221.2,1369.7 222.2,1368.3 223.2,1366.7 224.2,1365.1 225.2,1363.3 226.2,1361.5 227.2,1359.7 228.2,1357.7 229.2,1355.8 230.2,1353.8 231.2,1351.9 232.2,1349.9 233.2,1348.0 234.2,1346.2 235.2,1344.4 236.2,1342.7 237.2,1341.1 238.2,1339.6 239.2,1338.3 240.2,1337.1 241.2,1336.0 242.2,1335.1 243.2,1334.3 244.2,1333.8 245.2,1333.5 246.2,1333.4 247.2,1333.5 248.2,1333.7 249.2,1334.2 250.2,1334.9 251.2,1335.7 252.2,1336.7 253.2,1337.8 254.2,1339.1 255.2,1340.5 256.2,1342.1 257.2,1343.8 258.2,1345.6 259.2,1347.4 260.2,1349.4 261.2,1351.4 262.2,1353.5 263.2,1355.6 264.2,1357.8 265.2,1359.9 266.2,1362.0 267.2,1364.1 268.2,1366.2 269.2,1368.2 270.2,1370.1 271.2,1371.9 272.2,1373.7 273.2,1375.3 274.2,1376.8 275.2,1378.1 276.2,1379.3 277.2,1380.4 278.2,1381.2 279.2,1382.0 280.2,1382.5 281.2,1382.9 282.2,1383.2 283.2,1383.3 284.2,1383.3 285.2,1383.3 286.2,1383.3 287.2,1383.3 288.2,1383.3 289.2,1383.3 290.2,1383.3" fill="none" stroke="#222" stroke-width="1.0"/>
<polygon points="122.2,1384.3 122.7,1384.0 123.2,1382.9 123.7,1381.2 124.2,1378.8 124.7,1375.8 125.2,1372.1 125.7,1367.8 126.2,1363.0 126.7,1357.5 127.2,1351.6 127.7,1345.2 128.2,1338.3 128.7,1331.0 129.2,1323.4 129.7,1315.4 130.2,1307.3 130.7,1298.9 131.2,1290.3 131.7,1281.7 132.2,1273.0 132.7,1264.3 133.2,1255.7 133.7,1247.2 134.2,1238.9 134.7,1230.8 135.2,1223.0 135.7,1215.5 136.2,1208.4 136.7,1201.7 137.2,1195.4 137.7,1189.7 138.2,1184.5 138.7,1179.8 139.2,1175.8 139.7,1172.4 140.2,1169.6 140.7,1167.5 141.2,1166.1 141.7,1165.3 142.2,1165.3 142.7,1165.8 143.2,1167.0 143.7,1168.8 144.2,1171.2 144.7,1174.2 145.2,1177.8 145.7,1181.9 146.2,1186.6 146.7,1191.8 147.2,1197.4 147.7,1203.5 148.2,1210.0 148.7,1216.8 149.2,1224.0 149.7,1231.5 150.2,1239.2 150.7,1247.2 151.2,1255.2 151.7,1263.4 152.2,1271.7 152.7,1280.0 153.2,1288.2 153.7,1296.4 154.2,1304.5 154.7,1312.3 155.2,1320.0 155.7,1327.4 156.2,1334.5 156.7,1341.3 157.2,1347.7 157.7,1353.6 158.2,1359.1 158.7,1364.2 159.2,1368.7 159.7,1372.7 160.2,1376.1 160.7,1379.0 161.2,1381.2 161.7,1382.9 162.2,1383.9 162.7,1384.3 162.7,1384.3 122.2,1384.3" fill="#f20000" stroke="#000" stroke-width="1.2" stroke-linejoin="round"/>
<polygon points="213.0,1384.3 214.0,1384.2 215.0,1383.9 216.0,1383.5 217.0,1382.9 218.0,1382.1 219.0,1381.1 220.0,1380.0 221.0,1378.8 222.0,1377.4 223.0,1375.9 224.0,1374.2 225.0,1372.5 226.0,1370.7 227.0,1368.9 228.0,1367.0 229.0,1365.0 230.0,1363.1 231.0,1361.1 232.0,1359.2 233.0,1357.3 234.0,1355.4 235.0,1353.6 236.0,1351.9 237.0,1350.3 238.0,1348.8 239.0,1347.4 240.0,1346.1 241.0,1345.0 242.0,1344.0 243.0,1343.2 244.0,1342.6 245.0,1342.2 246.0,1341.9 247.0,1341.8 248.0,1341.9 249.0,1342.1 250.0,1342.5 251.0,1343.0 252.0,1343.7 253.0,1344.6 254.0,1345.6 255.0,1346.7 256.0,1347.9 257.0,1349.2 258.0,1350.7 259.0,1352.2 260.0,1353.8 261.0,1355.5 262.0,1357.3 263.0,1359.1 264.0,1360.9 265.0,1362.7 266.0,1364.5 267.0,1366.4 268.0,1368.2 269.0,1369.9 270.0,1371.6 271.0,1373.3 272.0,1374.9 273.0,1376.3 274.0,1377.7 275.0,1379.0 276.0,1380.2 277.0,1381.2 278.0,1382.1 279.0,1382.8 280.0,1383.4 281.0,1383.9 282.0,1384.2 283.0,1384.3 283.0,1384.3 213.0,1384.3" fill="#f20000" stroke="#000" stroke-width="1.2" stroke-linejoin="round"/>
<polyline points="137.2,1384.3 138.2,1384.1 139.2,1383.7 140.2,1383.0 141.2,1382.2 142.2,1381.3 143.2,1380.2 144.2,1379.0 145.2,1377.8 146.2,1376.7 147.2,1375.5 148.2,1374.4 149.2,1373.5 150.2,1372.6 151.2,1372.0 152.2,1371.5 153.2,1371.3 154.2,1371.3 155.2,1371.3 156.2,1371.3 157.2,1371.3 158.2,1371.3 159.2,1371.3 160.2,1371.3 161.2,1371.3 162.2,1371.3 163.2,1371.3 164.2,1371.3 165.2,1371.3 166.2,1371.3 167.2,1371.3 168.2,1371.3 169.2,1371.3 170.2,1371.3 171.2,1371.3 172.2,1371.3 173.2,1371.3 174.2,1371.3 175.2,1371.3 176.2,1371.3 177.2,1371.3 178.2,1371.3 179.2,1371.3 180.2,1371.3 181.2,1371.3 182.2,1371.3 183.2,1371.3 184.2,1371.3 185.2,1371.3 186.2,1371.3 187.2,1371.3 188.2,1371.3 189.2,1371.3 190.2,1371.3 191.2,1371.3 192.2,1371.3 193.2,1371.3 194.2,1371.3 195.2,1371.3 196.2,1371.3 197.2,1371.3 198.2,1371.3 199.2,1371.3 200.2,1371.3 201.2,1371.3 202.2,1371.3 203.2,1371.3 204.2,1371.3 205.2,1371.3 206.2,1371.3 207.2,1371.3 208.2,1371.3 209.2,1371.3 210.2,1371.3 211.2,1371.3 212.2,1371.3 213.2,1371.3 214.2,1371.3 215.2,1371.3 216.2,1371.3 217.2,1371.3 218.2,1371.3 219.2,1371.3 220.2,1371.3 221.2,1371.3 222.2,1371.3 223.2,1371.3 224.2,1371.3 225.2,1371.3 226.2,1371.3 227.2,1371.3 228.2,1371.3 229.2,1371.3 230.2,1371.3 231.2,1371.3 232.2,1371.3 233.2,1371.3 234.2,1371.3 235.2,1371.3 236.2,1371.3 237.2,1371.3 238.2,1371.3 239.2,1371.3 240.2,1371.3 241.2,1371.3 242.2,1371.3 243.2,1371.3 244.2,1371.5 245.2,1371.6 246.2,1371.8 247.2,1372.1 248.2,1372.4 249.2,1372.7 250.2,1373.1 251.2,1373.5 252.2,1373.9 253.2,1374.3 254.2,1374.8 255.2,1375.3 256.2,1375.8 257.2,1376.4 258.2,1376.9 259.2,1377.4 260.2,1378.0 261.2,1378.5 262.2,1379.0 263.2,1379.6 264.2,1380.1 265.2,1380.6 266.2,1381.1 267.2,1381.5 268.2,1382.0 269.2,1382.4 270.2,1382.8 271.2,1383.1 272.2,1383.4 273.2,1383.7 274.2,1383.9 275.2,1384.1 276.2,1384.2 277.2,1384.3" fill="none" stroke="#500" stroke-width="1.0" opacity="0.85"/>
<line x1="30.2" y1="1158.5" x2="30.2" y2="1384.3" stroke="#333" stroke-width="1.3"/>
<line x1="26.2" y1="1384.3" x2="290.6" y2="1384.3" stroke="#111" stroke-width="1.8"/>
<line x1="30.2" y1="1384.3" x2="30.2" y2="1391.3" stroke="#333" stroke-width="1.1"/>
<text x="30.2" y="1403.3" font-size="8.5" fill="#999" text-anchor="middle">0</text>
<line x1="41.0" y1="1384.3" x2="41.0" y2="1388.3" stroke="#444" stroke-width="1"/>
<line x1="51.9" y1="1384.3" x2="51.9" y2="1388.3" stroke="#444" stroke-width="1"/>
<line x1="62.8" y1="1384.3" x2="62.8" y2="1388.3" stroke="#444" stroke-width="1"/>
<line x1="73.6" y1="1384.3" x2="73.6" y2="1391.3" stroke="#333" stroke-width="1.1"/>
<text x="73.6" y="1403.3" font-size="8.5" fill="#999" text-anchor="middle">20</text>
<line x1="84.5" y1="1384.3" x2="84.5" y2="1388.3" stroke="#444" stroke-width="1"/>
<line x1="95.3" y1="1384.3" x2="95.3" y2="1388.3" stroke="#444" stroke-width="1"/>
<line x1="106.2" y1="1384.3" x2="106.2" y2="1388.3" stroke="#444" stroke-width="1"/>
<line x1="117.0" y1="1384.3" x2="117.0" y2="1391.3" stroke="#333" stroke-width="1.1"/>
<text x="117.0" y="1403.3" font-size="8.5" fill="#999" text-anchor="middle">40</text>
<line x1="127.9" y1="1384.3" x2="127.9" y2="1388.3" stroke="#444" stroke-width="1"/>
<line x1="138.7" y1="1384.3" x2="138.7" y2="1388.3" stroke="#444" stroke-width="1"/>
<line x1="149.6" y1="1384.3" x2="149.6" y2="1388.3" stroke="#444" stroke-width="1"/>
<line x1="160.4" y1="1384.3" x2="160.4" y2="1391.3" stroke="#333" stroke-width="1.1"/>
<text x="160.4" y="1403.3" font-size="8.5" fill="#999" text-anchor="middle">60</text>
<line x1="171.2" y1="1384.3" x2="171.2" y2="1388.3" stroke="#444" stroke-width="1"/>
<line x1="182.1" y1="1384.3" x2="182.1" y2="1388.3" stroke="#444" stroke-width="1"/>
<line x1="193.0" y1="1384.3" x2="193.0" y2="1388.3" stroke="#444" stroke-width="1"/>
<line x1="203.8" y1="1384.3" x2="203.8" y2="1391.3" stroke="#333" stroke-width="1.1"/>
<text x="203.8" y="1403.3" font-size="8.5" fill="#999" text-anchor="middle">80</text>
<line x1="214.7" y1="1384.3" x2="214.7" y2="1388.3" stroke="#444" stroke-width="1"/>
<line x1="225.5" y1="1384.3" x2="225.5" y2="1388.3" stroke="#444" stroke-width="1"/>
<line x1="236.4" y1="1384.3" x2="236.4" y2="1388.3" stroke="#444" stroke-width="1"/>
<line x1="247.2" y1="1384.3" x2="247.2" y2="1391.3" stroke="#333" stroke-width="1.1"/>
<text x="247.2" y="1403.3" font-size="8.5" fill="#999" text-anchor="middle">100</text>
<line x1="258.1" y1="1384.3" x2="258.1" y2="1388.3" stroke="#444" stroke-width="1"/>
<line x1="268.9" y1="1384.3" x2="268.9" y2="1388.3" stroke="#444" stroke-width="1"/>
<line x1="279.8" y1="1384.3" x2="279.8" y2="1388.3" stroke="#444" stroke-width="1"/>
<line x1="290.6" y1="1384.3" x2="290.6" y2="1391.3" stroke="#333" stroke-width="1.1"/>
<text x="290.6" y="1403.3" font-size="8.5" fill="#999" text-anchor="middle">120</text>
<text x="160.4" y="1412.3" font-size="8.5" fill="#999" text-anchor="middle">Channels (FL2-A)</text>
<line x1="22.2" y1="1384.3" x2="30.2" y2="1384.3" stroke="#444" stroke-width="1"/>
<text transform="translate(18.2,1384.3) rotate(-90)" font-size="8" fill="#999" text-anchor="middle">0</text>
<line x1="22.2" y1="1346.9" x2="30.2" y2="1346.9" stroke="#444" stroke-width="1"/>
<text transform="translate(18.2,1346.9) rotate(-90)" font-size="8" fill="#999" text-anchor="middle">100</text>
<line x1="22.2" y1="1309.5" x2="30.2" y2="1309.5" stroke="#444" stroke-width="1"/>
<text transform="translate(18.2,1309.5) rotate(-90)" font-size="8" fill="#999" text-anchor="middle">200</text>
<line x1="22.2" y1="1272.2" x2="30.2" y2="1272.2" stroke="#444" stroke-width="1"/>
<text transform="translate(18.2,1272.2) rotate(-90)" font-size="8" fill="#999" text-anchor="middle">300</text>
<line x1="22.2" y1="1234.8" x2="30.2" y2="1234.8" stroke="#444" stroke-width="1"/>
<text transform="translate(18.2,1234.8) rotate(-90)" font-size="8" fill="#999" text-anchor="middle">400</text>
<line x1="22.2" y1="1197.4" x2="30.2" y2="1197.4" stroke="#444" stroke-width="1"/>
<text transform="translate(18.2,1197.4) rotate(-90)" font-size="8" fill="#999" text-anchor="middle">500</text>
<line x1="22.2" y1="1160.0" x2="30.2" y2="1160.0" stroke="#444" stroke-width="1"/>
<text transform="translate(18.2,1160.0) rotate(-90)" font-size="8" fill="#999" text-anchor="middle">600</text>
<line x1="26.2" y1="1384.3" x2="30.2" y2="1384.3" stroke="#555" stroke-width="0.9"/>
<line x1="26.2" y1="1376.8" x2="30.2" y2="1376.8" stroke="#555" stroke-width="0.9"/>
<line x1="26.2" y1="1369.3" x2="30.2" y2="1369.3" stroke="#555" stroke-width="0.9"/>
<line x1="26.2" y1="1361.9" x2="30.2" y2="1361.9" stroke="#555" stroke-width="0.9"/>
<line x1="26.2" y1="1354.4" x2="30.2" y2="1354.4" stroke="#555" stroke-width="0.9"/>
<line x1="26.2" y1="1346.9" x2="30.2" y2="1346.9" stroke="#555" stroke-width="0.9"/>
<line x1="26.2" y1="1339.4" x2="30.2" y2="1339.4" stroke="#555" stroke-width="0.9"/>
<line x1="26.2" y1="1332.0" x2="30.2" y2="1332.0" stroke="#555" stroke-width="0.9"/>
<line x1="26.2" y1="1324.5" x2="30.2" y2="1324.5" stroke="#555" stroke-width="0.9"/>
<line x1="26.2" y1="1317.0" x2="30.2" y2="1317.0" stroke="#555" stroke-width="0.9"/>
<line x1="26.2" y1="1309.5" x2="30.2" y2="1309.5" stroke="#555" stroke-width="0.9"/>
<line x1="26.2" y1="1302.1" x2="30.2" y2="1302.1" stroke="#555" stroke-width="0.9"/>
<line x1="26.2" y1="1294.6" x2="30.2" y2="1294.6" stroke="#555" stroke-width="0.9"/>
<line x1="26.2" y1="1287.1" x2="30.2" y2="1287.1" stroke="#555" stroke-width="0.9"/>
<line x1="26.2" y1="1279.6" x2="30.2" y2="1279.6" stroke="#555" stroke-width="0.9"/>
<line x1="26.2" y1="1272.1" x2="30.2" y2="1272.1" stroke="#555" stroke-width="0.9"/>
<line x1="26.2" y1="1264.7" x2="30.2" y2="1264.7" stroke="#555" stroke-width="0.9"/>
<line x1="26.2" y1="1257.2" x2="30.2" y2="1257.2" stroke="#555" stroke-width="0.9"/>
<line x1="26.2" y1="1249.7" x2="30.2" y2="1249.7" stroke="#555" stroke-width="0.9"/>
<line x1="26.2" y1="1242.2" x2="30.2" y2="1242.2" stroke="#555" stroke-width="0.9"/>
<line x1="26.2" y1="1234.8" x2="30.2" y2="1234.8" stroke="#555" stroke-width="0.9"/>
<line x1="26.2" y1="1227.3" x2="30.2" y2="1227.3" stroke="#555" stroke-width="0.9"/>
<line x1="26.2" y1="1219.8" x2="30.2" y2="1219.8" stroke="#555" stroke-width="0.9"/>
<line x1="26.2" y1="1212.3" x2="30.2" y2="1212.3" stroke="#555" stroke-width="0.9"/>
<line x1="26.2" y1="1204.9" x2="30.2" y2="1204.9" stroke="#555" stroke-width="0.9"/>
<line x1="26.2" y1="1197.4" x2="30.2" y2="1197.4" stroke="#555" stroke-width="0.9"/>
<line x1="26.2" y1="1189.9" x2="30.2" y2="1189.9" stroke="#555" stroke-width="0.9"/>
<line x1="26.2" y1="1182.4" x2="30.2" y2="1182.4" stroke="#555" stroke-width="0.9"/>
<line x1="26.2" y1="1175.0" x2="30.2" y2="1175.0" stroke="#555" stroke-width="0.9"/>
<line x1="26.2" y1="1167.5" x2="30.2" y2="1167.5" stroke="#555" stroke-width="0.9"/>
<line x1="26.2" y1="1160.0" x2="30.2" y2="1160.0" stroke="#555" stroke-width="0.9"/>
<text transform="translate(8.2,1281.4) rotate(-90)" font-size="8.5" fill="#888" text-anchor="middle">Number</text>
<polygon points="138.5,1392.3 147.5,1392.3 143.0,1385.3" fill="#000"/>
<polygon points="238.0,1392.3 247.0,1392.3 242.5,1385.3" fill="#000"/>
<polygon points="445.3,1382.6 445.4,1382.6 446.4,1382.5 447.4,1382.3 448.4,1382.0 449.4,1381.7 450.4,1381.2 451.4,1380.7 452.4,1380.1 453.4,1379.5 454.4,1378.9 455.4,1378.3 456.4,1377.6 457.4,1377.0 458.4,1376.5 459.4,1376.0 460.4,1375.5 461.4,1375.1 462.4,1374.9 463.4,1374.7 464.4,1374.6 465.4,1374.6 466.4,1374.6 467.4,1374.6 468.4,1374.6 469.4,1374.6 470.4,1374.6 471.4,1374.6 472.4,1374.6 473.4,1374.6 474.4,1374.6 475.4,1374.6 476.4,1374.6 477.4,1374.6 478.4,1374.6 479.4,1374.6 480.4,1374.6 481.4,1374.6 482.4,1374.6 483.4,1374.6 484.4,1374.6 485.4,1374.6 486.4,1374.6 487.4,1374.6 488.4,1374.6 489.4,1374.6 490.4,1374.6 491.4,1374.6 492.4,1374.6 493.4,1374.6 494.4,1374.6 495.4,1374.6 496.4,1374.6 497.4,1374.6 498.4,1374.6 499.4,1374.6 500.4,1374.6 501.4,1374.6 502.4,1374.6 503.4,1374.6 504.4,1374.6 505.4,1374.6 506.4,1374.6 507.4,1374.6 508.4,1374.6 509.4,1374.6 510.4,1374.6 511.4,1374.6 512.4,1374.6 513.4,1374.6 514.4,1374.6 515.4,1374.6 516.4,1374.6 517.4,1374.6 518.4,1374.6 519.4,1374.6 520.4,1374.6 521.4,1374.6 522.4,1374.6 523.4,1374.6 524.4,1374.6 525.4,1374.6 526.4,1374.6 527.4,1374.6 528.4,1374.6 529.4,1374.6 530.4,1374.6 531.4,1374.6 532.4,1374.6 533.4,1374.6 534.4,1374.6 535.4,1374.6 536.4,1374.6 537.4,1374.6 538.4,1374.6 539.4,1374.7 540.4,1374.8 541.4,1374.9 542.4,1375.0 543.4,1375.1 544.4,1375.3 545.4,1375.4 546.4,1375.6 547.4,1375.8 548.4,1376.1 549.4,1376.3 550.4,1376.5 551.4,1376.8 552.4,1377.1 553.4,1377.3 554.4,1377.6 555.4,1377.9 556.4,1378.2 557.4,1378.4 558.4,1378.7 559.4,1379.0 560.4,1379.3 561.4,1379.6 562.4,1379.9 563.4,1380.1 564.4,1380.4 565.4,1380.6 566.4,1380.9 567.4,1381.1 568.4,1381.3 569.4,1381.5 570.4,1381.7 571.4,1381.9 572.4,1382.1 573.4,1382.2 574.4,1382.3 575.4,1382.4 576.4,1382.5 577.4,1382.6 578.4,1382.6 579.0,1382.6" fill="url(#shatch)"/>
<polyline points="354.4,1381.4 355.4,1381.5 356.4,1381.4 357.4,1381.4 358.4,1381.4 359.4,1381.6 360.4,1381.4 361.4,1381.5 362.4,1381.5 363.4,1381.4 364.4,1381.4 365.4,1381.4 366.4,1381.4 367.4,1381.3 368.4,1381.5 369.4,1381.4 370.4,1381.4 371.4,1381.4 372.4,1381.4 373.4,1381.5 374.4,1381.4 375.4,1381.5 376.4,1381.3 377.4,1381.4 378.4,1381.4 379.4,1381.3 380.4,1381.5 381.4,1381.4 382.4,1381.3 383.4,1381.4 384.4,1381.5 385.4,1381.5 386.4,1381.5 387.4,1381.6 388.4,1381.5 389.4,1381.6 390.4,1381.4 391.4,1381.4 392.4,1381.3 393.4,1381.5 394.4,1381.4 395.4,1381.4 396.4,1381.5 397.4,1381.4 398.4,1381.3 399.4,1381.5 400.4,1381.3 401.4,1381.5 402.4,1381.5 403.4,1381.3 404.4,1381.4 405.4,1381.5 406.4,1381.5 407.4,1381.4 408.4,1381.5 409.4,1381.5 410.4,1381.5 411.4,1381.4 412.4,1381.6 413.4,1381.4 414.4,1381.5 415.4,1381.6 416.4,1381.5 417.4,1381.4 418.4,1381.4 419.4,1381.6 420.4,1381.3 421.4,1381.4 422.4,1381.3 423.4,1381.6 424.4,1381.5 425.4,1381.6 426.4,1381.4 427.4,1381.5 428.4,1381.5 429.4,1378.4 430.4,1374.5 431.4,1369.1 432.4,1362.3 433.4,1352.9 434.4,1340.5 435.4,1328.1 436.4,1313.8 437.4,1299.5 438.4,1283.6 439.4,1266.5 440.4,1250.5 441.4,1234.8 442.4,1218.1 443.4,1203.7 444.4,1189.9 445.4,1178.6 446.4,1167.0 447.4,1159.2 448.4,1151.3 449.4,1147.1 450.4,1144.7 451.4,1144.0 452.4,1145.1 453.4,1149.4 454.4,1154.8 455.4,1161.2 456.4,1170.1 457.4,1180.2 458.4,1191.5 459.4,1204.1 460.4,1217.2 461.4,1231.2 462.4,1245.8 463.4,1260.0 464.4,1275.5 465.4,1289.8 466.4,1304.3 467.4,1317.4 468.4,1330.1 469.4,1341.0 470.4,1351.1 471.4,1358.4 472.4,1365.3 473.4,1370.7 474.4,1373.3 475.4,1373.9 476.4,1374.9 477.4,1374.0 478.4,1374.5 479.4,1374.4 480.4,1374.0 481.4,1374.6 482.4,1374.4 483.4,1374.2 484.4,1373.8 485.4,1374.6 486.4,1374.0 487.4,1374.2 488.4,1374.3 489.4,1374.6 490.4,1374.6 491.4,1375.0 492.4,1374.9 493.4,1375.0 494.4,1374.1 495.4,1374.8 496.4,1374.9 497.4,1375.0 498.4,1374.0 499.4,1374.0 500.4,1374.2 501.4,1374.7 502.4,1374.8 503.4,1374.7 504.4,1374.5 505.4,1374.9 506.4,1374.5 507.4,1374.7 508.4,1373.6 509.4,1373.2 510.4,1373.3 511.4,1373.2 512.4,1371.6 513.4,1371.6 514.4,1370.7 515.4,1370.2 516.4,1368.6 517.4,1367.4 518.4,1366.1 519.4,1365.3 520.4,1363.5 521.4,1362.8 522.4,1361.1 523.4,1359.9 524.4,1358.1 525.4,1357.1 526.4,1355.8 527.4,1354.0 528.4,1352.7 529.4,1351.0 530.4,1349.8 531.4,1348.3 532.4,1347.3 533.4,1346.2 534.4,1345.0 535.4,1344.8 536.4,1344.1 537.4,1342.6 538.4,1343.2 539.4,1342.1 540.4,1341.9 541.4,1342.6 542.4,1341.6 543.4,1341.7 544.4,1342.2 545.4,1342.4 546.4,1342.7 547.4,1344.1 548.4,1344.2 549.4,1345.0 550.4,1345.3 551.4,1346.2 552.4,1347.1 553.4,1348.4 554.4,1349.1 555.4,1350.4 556.4,1351.6 557.4,1353.4 558.4,1354.9 559.4,1356.1 560.4,1357.1 561.4,1358.7 562.4,1359.1 563.4,1360.9 564.4,1362.1 565.4,1363.5 566.4,1364.7 567.4,1366.3 568.4,1368.2 569.4,1368.4 570.4,1369.6 571.4,1371.1 572.4,1372.1 573.4,1373.0 574.4,1374.7 575.4,1374.7 576.4,1376.2 577.4,1377.1 578.4,1377.5 579.4,1377.5 580.4,1378.6 581.4,1378.3 582.4,1380.9 583.4,1381.3 584.4,1381.4 585.4,1381.5 586.4,1381.4 587.4,1381.4 588.4,1381.4 589.4,1381.4 590.4,1381.6 591.4,1381.5 592.4,1381.5 593.4,1381.4 594.4,1381.5 595.4,1381.4 596.4,1381.6 597.4,1381.6 598.4,1381.5 599.4,1381.4 600.4,1381.4 601.4,1381.4 602.4,1381.5 603.4,1381.4 604.4,1381.5 605.4,1381.5 606.4,1381.5 607.4,1381.3 608.4,1381.5 609.4,1381.3 610.4,1381.3 611.4,1381.6 612.4,1381.5 613.4,1381.4 614.4,1381.3 615.4,1381.5 616.4,1381.5 617.4,1381.5 618.4,1381.3 619.4,1381.5" fill="none" stroke="#111" stroke-width="1.1"/>
<polyline points="354.4,1381.6 355.4,1381.6 356.4,1381.6 357.4,1381.6 358.4,1381.6 359.4,1381.6 360.4,1381.6 361.4,1381.6 362.4,1381.6 363.4,1381.6 364.4,1381.6 365.4,1381.6 366.4,1381.6 367.4,1381.6 368.4,1381.6 369.4,1381.6 370.4,1381.6 371.4,1381.6 372.4,1381.6 373.4,1381.6 374.4,1381.6 375.4,1381.6 376.4,1381.6 377.4,1381.6 378.4,1381.6 379.4,1381.6 380.4,1381.6 381.4,1381.6 382.4,1381.6 383.4,1381.6 384.4,1381.6 385.4,1381.6 386.4,1381.6 387.4,1381.6 388.4,1381.6 389.4,1381.6 390.4,1381.6 391.4,1381.6 392.4,1381.6 393.4,1381.6 394.4,1381.6 395.4,1381.6 396.4,1381.6 397.4,1381.6 398.4,1381.6 399.4,1381.6 400.4,1381.6 401.4,1381.6 402.4,1381.6 403.4,1381.6 404.4,1381.6 405.4,1381.6 406.4,1381.6 407.4,1381.6 408.4,1381.6 409.4,1381.6 410.4,1381.6 411.4,1381.6 412.4,1381.6 413.4,1381.6 414.4,1381.6 415.4,1381.6 416.4,1381.6 417.4,1381.6 418.4,1381.6 419.4,1381.6 420.4,1381.6 421.4,1381.6 422.4,1381.6 423.4,1381.6 424.4,1381.6 425.4,1381.6 426.4,1381.6 427.4,1381.6 428.4,1381.6 429.4,1380.6 430.4,1377.4 431.4,1372.0 432.4,1364.6 433.4,1355.2 434.4,1344.1 435.4,1331.5 436.4,1317.6 437.4,1302.8 438.4,1287.2 439.4,1271.2 440.4,1255.2 441.4,1239.3 442.4,1224.1 443.4,1209.6 444.4,1196.3 445.4,1184.3 446.4,1173.9 447.4,1165.2 448.4,1158.5 449.4,1153.9 450.4,1151.3 451.4,1151.0 452.4,1152.5 453.4,1155.8 454.4,1161.0 455.4,1167.7 456.4,1176.1 457.4,1185.9 458.4,1197.0 459.4,1209.2 460.4,1222.3 461.4,1236.1 462.4,1250.4 463.4,1264.9 464.4,1279.5 465.4,1293.8 466.4,1307.6 467.4,1320.7 468.4,1332.8 469.4,1343.7 470.4,1353.3 471.4,1361.4 472.4,1367.9 473.4,1372.7 474.4,1375.7 475.4,1376.8 476.4,1376.8 477.4,1376.8 478.4,1376.8 479.4,1376.8 480.4,1376.8 481.4,1376.8 482.4,1376.8 483.4,1376.8 484.4,1376.8 485.4,1376.8 486.4,1376.8 487.4,1376.8 488.4,1376.8 489.4,1376.8 490.4,1376.8 491.4,1376.8 492.4,1376.8 493.4,1376.8 494.4,1376.8 495.4,1376.8 496.4,1376.8 497.4,1376.8 498.4,1376.8 499.4,1376.8 500.4,1376.8 501.4,1376.8 502.4,1376.8 503.4,1376.8 504.4,1376.8 505.4,1376.8 506.4,1376.8 507.4,1376.7 508.4,1376.5 509.4,1376.2 510.4,1375.8 511.4,1375.2 512.4,1374.6 513.4,1373.8 514.4,1373.0 515.4,1372.0 516.4,1371.0 517.4,1369.9 518.4,1368.7 519.4,1367.4 520.4,1366.1 521.4,1364.8 522.4,1363.4 523.4,1362.0 524.4,1360.6 525.4,1359.3 526.4,1357.9 527.4,1356.5 528.4,1355.2 529.4,1353.9 530.4,1352.7 531.4,1351.5 532.4,1350.4 533.4,1349.4 534.4,1348.5 535.4,1347.6 536.4,1346.9 537.4,1346.2 538.4,1345.7 539.4,1345.4 540.4,1345.1 541.4,1345.0 542.4,1345.0 543.4,1345.2 544.4,1345.4 545.4,1345.7 546.4,1346.1 547.4,1346.6 548.4,1347.2 549.4,1347.9 550.4,1348.7 551.4,1349.5 552.4,1350.4 553.4,1351.4 554.4,1352.4 555.4,1353.5 556.4,1354.7 557.4,1355.8 558.4,1357.1 559.4,1358.3 560.4,1359.6 561.4,1360.9 562.4,1362.2 563.4,1363.6 564.4,1364.9 565.4,1366.2 566.4,1367.5 567.4,1368.8 568.4,1370.0 569.4,1371.2 570.4,1372.4 571.4,1373.5 572.4,1374.6 573.4,1375.6 574.4,1376.5 575.4,1377.4 576.4,1378.2 577.4,1378.9 578.4,1379.5 579.4,1380.1 580.4,1380.5 581.4,1380.9 582.4,1381.2 583.4,1381.4 584.4,1381.6 585.4,1381.6 586.4,1381.6 587.4,1381.6 588.4,1381.6 589.4,1381.6 590.4,1381.6 591.4,1381.6 592.4,1381.6 593.4,1381.6 594.4,1381.6 595.4,1381.6 596.4,1381.6 597.4,1381.6 598.4,1381.6 599.4,1381.6 600.4,1381.6 601.4,1381.6 602.4,1381.6 603.4,1381.6 604.4,1381.6 605.4,1381.6 606.4,1381.6 607.4,1381.6 608.4,1381.6 609.4,1381.6 610.4,1381.6 611.4,1381.6 612.4,1381.6 613.4,1381.6 614.4,1381.6 615.4,1381.6 616.4,1381.6 617.4,1381.6 618.4,1381.6 619.4,1381.6" fill="none" stroke="#222" stroke-width="1.0"/>
<polygon points="428.5,1382.6 429.0,1382.3 429.5,1381.5 430.0,1380.1 430.5,1378.1 431.0,1375.6 431.5,1372.6 432.0,1369.1 432.5,1365.1 433.0,1360.6 433.5,1355.6 434.0,1350.2 434.5,1344.4 435.0,1338.2 435.5,1331.7 436.0,1324.9 436.5,1317.8 437.0,1310.4 437.5,1302.9 438.0,1295.2 438.5,1287.3 439.0,1279.3 439.5,1271.3 440.0,1263.3 440.5,1255.3 441.0,1247.3 441.5,1239.4 442.0,1231.7 442.5,1224.2 443.0,1216.9 443.5,1209.8 444.0,1203.0 444.5,1196.5 445.0,1190.4 445.5,1184.6 446.0,1179.3 446.5,1174.4 447.0,1169.9 447.5,1166.0 448.0,1162.5 448.5,1159.5 449.0,1157.1 449.5,1155.2 450.0,1153.9 450.5,1153.1 451.0,1152.9 451.5,1153.2 452.0,1153.9 452.5,1155.2 453.0,1156.8 453.5,1159.0 454.0,1161.5 454.5,1164.6 455.0,1168.0 455.5,1171.8 456.0,1176.0 456.5,1180.6 457.0,1185.6 457.5,1190.9 458.0,1196.5 458.5,1202.4 459.0,1208.5 459.5,1214.9 460.0,1221.6 460.5,1228.4 461.0,1235.3 461.5,1242.4 462.0,1249.6 462.5,1256.9 463.0,1264.2 463.5,1271.5 464.0,1278.9 464.5,1286.1 465.0,1293.3 465.5,1300.4 466.0,1307.4 466.5,1314.2 467.0,1320.8 467.5,1327.2 468.0,1333.3 468.5,1339.2 469.0,1344.8 469.5,1350.1 470.0,1355.0 470.5,1359.6 471.0,1363.8 471.5,1367.6 472.0,1371.1 472.5,1374.1 473.0,1376.6 473.5,1378.7 474.0,1380.4 474.5,1381.6 475.0,1382.3 475.5,1382.6 475.5,1382.6 428.5,1382.6" fill="#f20000" stroke="#000" stroke-width="1.2" stroke-linejoin="round"/>
<polygon points="506.3,1382.6 507.3,1382.5 508.3,1382.4 509.3,1382.1 510.3,1381.6 511.3,1381.1 512.3,1380.5 513.3,1379.7 514.3,1378.9 515.3,1377.9 516.3,1376.9 517.3,1375.8 518.3,1374.6 519.3,1373.4 520.3,1372.1 521.3,1370.7 522.3,1369.4 523.3,1368.0 524.3,1366.6 525.3,1365.2 526.3,1363.8 527.3,1362.5 528.3,1361.1 529.3,1359.9 530.3,1358.6 531.3,1357.4 532.3,1356.3 533.3,1355.3 534.3,1354.4 535.3,1353.5 536.3,1352.8 537.3,1352.1 538.3,1351.6 539.3,1351.2 540.3,1350.8 541.3,1350.7 542.3,1350.6 543.3,1350.6 544.3,1350.8 545.3,1351.0 546.3,1351.3 547.3,1351.6 548.3,1352.1 549.3,1352.6 550.3,1353.2 551.3,1353.9 552.3,1354.6 553.3,1355.4 554.3,1356.3 555.3,1357.2 556.3,1358.2 557.3,1359.2 558.3,1360.3 559.3,1361.3 560.3,1362.5 561.3,1363.6 562.3,1364.7 563.3,1365.9 564.3,1367.1 565.3,1368.2 566.3,1369.4 567.3,1370.5 568.3,1371.6 569.3,1372.7 570.3,1373.8 571.3,1374.8 572.3,1375.8 573.3,1376.7 574.3,1377.6 575.3,1378.4 576.3,1379.2 577.3,1379.9 578.3,1380.5 579.3,1381.0 580.3,1381.5 581.3,1381.9 582.3,1382.2 583.3,1382.4 584.3,1382.5 585.3,1382.6 585.3,1382.6 506.3,1382.6" fill="#f20000" stroke="#000" stroke-width="1.2" stroke-linejoin="round"/>
<polyline points="445.4,1382.6 446.4,1382.5 447.4,1382.3 448.4,1382.0 449.4,1381.7 450.4,1381.2 451.4,1380.7 452.4,1380.1 453.4,1379.5 454.4,1378.9 455.4,1378.3 456.4,1377.6 457.4,1377.0 458.4,1376.5 459.4,1376.0 460.4,1375.5 461.4,1375.1 462.4,1374.9 463.4,1374.7 464.4,1374.6 465.4,1374.6 466.4,1374.6 467.4,1374.6 468.4,1374.6 469.4,1374.6 470.4,1374.6 471.4,1374.6 472.4,1374.6 473.4,1374.6 474.4,1374.6 475.4,1374.6 476.4,1374.6 477.4,1374.6 478.4,1374.6 479.4,1374.6 480.4,1374.6 481.4,1374.6 482.4,1374.6 483.4,1374.6 484.4,1374.6 485.4,1374.6 486.4,1374.6 487.4,1374.6 488.4,1374.6 489.4,1374.6 490.4,1374.6 491.4,1374.6 492.4,1374.6 493.4,1374.6 494.4,1374.6 495.4,1374.6 496.4,1374.6 497.4,1374.6 498.4,1374.6 499.4,1374.6 500.4,1374.6 501.4,1374.6 502.4,1374.6 503.4,1374.6 504.4,1374.6 505.4,1374.6 506.4,1374.6 507.4,1374.6 508.4,1374.6 509.4,1374.6 510.4,1374.6 511.4,1374.6 512.4,1374.6 513.4,1374.6 514.4,1374.6 515.4,1374.6 516.4,1374.6 517.4,1374.6 518.4,1374.6 519.4,1374.6 520.4,1374.6 521.4,1374.6 522.4,1374.6 523.4,1374.6 524.4,1374.6 525.4,1374.6 526.4,1374.6 527.4,1374.6 528.4,1374.6 529.4,1374.6 530.4,1374.6 531.4,1374.6 532.4,1374.6 533.4,1374.6 534.4,1374.6 535.4,1374.6 536.4,1374.6 537.4,1374.6 538.4,1374.6 539.4,1374.7 540.4,1374.8 541.4,1374.9 542.4,1375.0 543.4,1375.1 544.4,1375.3 545.4,1375.4 546.4,1375.6 547.4,1375.8 548.4,1376.1 549.4,1376.3 550.4,1376.5 551.4,1376.8 552.4,1377.1 553.4,1377.3 554.4,1377.6 555.4,1377.9 556.4,1378.2 557.4,1378.4 558.4,1378.7 559.4,1379.0 560.4,1379.3 561.4,1379.6 562.4,1379.9 563.4,1380.1 564.4,1380.4 565.4,1380.6 566.4,1380.9 567.4,1381.1 568.4,1381.3 569.4,1381.5 570.4,1381.7 571.4,1381.9 572.4,1382.1 573.4,1382.2 574.4,1382.3 575.4,1382.4 576.4,1382.5 577.4,1382.6 578.4,1382.6" fill="none" stroke="#500" stroke-width="1.0" opacity="0.85"/>
<line x1="354.4" y1="1150.6" x2="354.4" y2="1382.6" stroke="#333" stroke-width="1.3"/>
<line x1="350.4" y1="1382.6" x2="619.5" y2="1382.6" stroke="#111" stroke-width="1.8"/>
<line x1="354.4" y1="1382.6" x2="354.4" y2="1389.6" stroke="#333" stroke-width="1.1"/>
<text x="354.4" y="1401.6" font-size="8.5" fill="#999" text-anchor="middle">0</text>
<line x1="367.7" y1="1382.6" x2="367.7" y2="1386.6" stroke="#444" stroke-width="1"/>
<line x1="380.9" y1="1382.6" x2="380.9" y2="1386.6" stroke="#444" stroke-width="1"/>
<line x1="394.2" y1="1382.6" x2="394.2" y2="1386.6" stroke="#444" stroke-width="1"/>
<line x1="407.4" y1="1382.6" x2="407.4" y2="1389.6" stroke="#333" stroke-width="1.1"/>
<text x="407.4" y="1401.6" font-size="8.5" fill="#999" text-anchor="middle">30</text>
<line x1="420.7" y1="1382.6" x2="420.7" y2="1386.6" stroke="#444" stroke-width="1"/>
<line x1="433.9" y1="1382.6" x2="433.9" y2="1386.6" stroke="#444" stroke-width="1"/>
<line x1="447.2" y1="1382.6" x2="447.2" y2="1386.6" stroke="#444" stroke-width="1"/>
<line x1="460.4" y1="1382.6" x2="460.4" y2="1389.6" stroke="#333" stroke-width="1.1"/>
<text x="460.4" y="1401.6" font-size="8.5" fill="#999" text-anchor="middle">60</text>
<line x1="473.7" y1="1382.6" x2="473.7" y2="1386.6" stroke="#444" stroke-width="1"/>
<line x1="486.9" y1="1382.6" x2="486.9" y2="1386.6" stroke="#444" stroke-width="1"/>
<line x1="500.2" y1="1382.6" x2="500.2" y2="1386.6" stroke="#444" stroke-width="1"/>
<line x1="513.5" y1="1382.6" x2="513.5" y2="1389.6" stroke="#333" stroke-width="1.1"/>
<text x="513.5" y="1401.6" font-size="8.5" fill="#999" text-anchor="middle">90</text>
<line x1="526.7" y1="1382.6" x2="526.7" y2="1386.6" stroke="#444" stroke-width="1"/>
<line x1="540.0" y1="1382.6" x2="540.0" y2="1386.6" stroke="#444" stroke-width="1"/>
<line x1="553.2" y1="1382.6" x2="553.2" y2="1386.6" stroke="#444" stroke-width="1"/>
<line x1="566.5" y1="1382.6" x2="566.5" y2="1389.6" stroke="#333" stroke-width="1.1"/>
<text x="566.5" y="1401.6" font-size="8.5" fill="#999" text-anchor="middle">120</text>
<line x1="579.7" y1="1382.6" x2="579.7" y2="1386.6" stroke="#444" stroke-width="1"/>
<line x1="593.0" y1="1382.6" x2="593.0" y2="1386.6" stroke="#444" stroke-width="1"/>
<line x1="606.2" y1="1382.6" x2="606.2" y2="1386.6" stroke="#444" stroke-width="1"/>
<line x1="619.5" y1="1382.6" x2="619.5" y2="1389.6" stroke="#333" stroke-width="1.1"/>
<text x="619.5" y="1401.6" font-size="8.5" fill="#999" text-anchor="middle">150</text>
<text x="486.9" y="1410.6" font-size="8.5" fill="#999" text-anchor="middle">Channels (FL2-A)</text>
<line x1="346.4" y1="1382.6" x2="354.4" y2="1382.6" stroke="#444" stroke-width="1"/>
<text transform="translate(342.4,1382.6) rotate(-90)" font-size="8" fill="#999" text-anchor="middle">0</text>
<line x1="346.4" y1="1334.4" x2="354.4" y2="1334.4" stroke="#444" stroke-width="1"/>
<text transform="translate(342.4,1334.4) rotate(-90)" font-size="8" fill="#999" text-anchor="middle">100</text>
<line x1="346.4" y1="1286.3" x2="354.4" y2="1286.3" stroke="#444" stroke-width="1"/>
<text transform="translate(342.4,1286.3) rotate(-90)" font-size="8" fill="#999" text-anchor="middle">200</text>
<line x1="346.4" y1="1238.2" x2="354.4" y2="1238.2" stroke="#444" stroke-width="1"/>
<text transform="translate(342.4,1238.2) rotate(-90)" font-size="8" fill="#999" text-anchor="middle">300</text>
<line x1="346.4" y1="1190.0" x2="354.4" y2="1190.0" stroke="#444" stroke-width="1"/>
<text transform="translate(342.4,1190.0) rotate(-90)" font-size="8" fill="#999" text-anchor="middle">400</text>
<line x1="350.4" y1="1382.6" x2="354.4" y2="1382.6" stroke="#555" stroke-width="0.9"/>
<line x1="350.4" y1="1373.0" x2="354.4" y2="1373.0" stroke="#555" stroke-width="0.9"/>
<line x1="350.4" y1="1363.3" x2="354.4" y2="1363.3" stroke="#555" stroke-width="0.9"/>
<line x1="350.4" y1="1353.7" x2="354.4" y2="1353.7" stroke="#555" stroke-width="0.9"/>
<line x1="350.4" y1="1344.1" x2="354.4" y2="1344.1" stroke="#555" stroke-width="0.9"/>
<line x1="350.4" y1="1334.4" x2="354.4" y2="1334.4" stroke="#555" stroke-width="0.9"/>
<line x1="350.4" y1="1324.8" x2="354.4" y2="1324.8" stroke="#555" stroke-width="0.9"/>
<line x1="350.4" y1="1315.2" x2="354.4" y2="1315.2" stroke="#555" stroke-width="0.9"/>
<line x1="350.4" y1="1305.6" x2="354.4" y2="1305.6" stroke="#555" stroke-width="0.9"/>
<line x1="350.4" y1="1295.9" x2="354.4" y2="1295.9" stroke="#555" stroke-width="0.9"/>
<line x1="350.4" y1="1286.3" x2="354.4" y2="1286.3" stroke="#555" stroke-width="0.9"/>
<line x1="350.4" y1="1276.7" x2="354.4" y2="1276.7" stroke="#555" stroke-width="0.9"/>
<line x1="350.4" y1="1267.0" x2="354.4" y2="1267.0" stroke="#555" stroke-width="0.9"/>
<line x1="350.4" y1="1257.4" x2="354.4" y2="1257.4" stroke="#555" stroke-width="0.9"/>
<line x1="350.4" y1="1247.8" x2="354.4" y2="1247.8" stroke="#555" stroke-width="0.9"/>
<line x1="350.4" y1="1238.1" x2="354.4" y2="1238.1" stroke="#555" stroke-width="0.9"/>
<line x1="350.4" y1="1228.5" x2="354.4" y2="1228.5" stroke="#555" stroke-width="0.9"/>
<line x1="350.4" y1="1218.9" x2="354.4" y2="1218.9" stroke="#555" stroke-width="0.9"/>
<line x1="350.4" y1="1209.3" x2="354.4" y2="1209.3" stroke="#555" stroke-width="0.9"/>
<line x1="350.4" y1="1199.6" x2="354.4" y2="1199.6" stroke="#555" stroke-width="0.9"/>
<line x1="350.4" y1="1190.0" x2="354.4" y2="1190.0" stroke="#555" stroke-width="0.9"/>
<line x1="350.4" y1="1180.4" x2="354.4" y2="1180.4" stroke="#555" stroke-width="0.9"/>
<line x1="350.4" y1="1170.7" x2="354.4" y2="1170.7" stroke="#555" stroke-width="0.9"/>
<line x1="350.4" y1="1161.1" x2="354.4" y2="1161.1" stroke="#555" stroke-width="0.9"/>
<line x1="350.4" y1="1151.5" x2="354.4" y2="1151.5" stroke="#555" stroke-width="0.9"/>
<text transform="translate(332.4,1276.6) rotate(-90)" font-size="8.5" fill="#888" text-anchor="middle">Number</text>
<polygon points="445.2,1390.6 454.2,1390.6 449.7,1383.6" fill="#000"/>
<polygon points="535.0,1390.6 544.0,1390.6 539.5,1383.6" fill="#000"/>
<polygon points="549.2,1390.6 558.2,1390.6 553.7,1383.6" fill="#000"/>
<polygon points="781.5,1379.0 782.0,1379.0 783.0,1378.9 784.0,1378.6 785.0,1378.2 786.0,1377.8 787.0,1377.3 788.0,1376.7 789.0,1376.0 790.0,1375.4 791.0,1374.7 792.0,1374.0 793.0,1373.3 794.0,1372.6 795.0,1372.0 796.0,1371.5 797.0,1371.0 798.0,1370.6 799.0,1370.3 800.0,1370.1 801.0,1370.0 802.0,1370.0 803.0,1370.0 804.0,1370.0 805.0,1370.0 806.0,1370.0 807.0,1370.0 808.0,1370.0 809.0,1370.0 810.0,1370.0 811.0,1370.0 812.0,1370.0 813.0,1370.0 814.0,1370.0 815.0,1370.0 816.0,1370.0 817.0,1370.0 818.0,1370.0 819.0,1370.0 820.0,1370.0 821.0,1370.0 822.0,1370.0 823.0,1370.0 824.0,1370.0 825.0,1370.0 826.0,1370.0 827.0,1370.0 828.0,1370.0 829.0,1370.0 830.0,1370.0 831.0,1370.0 832.0,1370.0 833.0,1370.0 834.0,1370.0 835.0,1370.0 836.0,1370.0 837.0,1370.0 838.0,1370.0 839.0,1370.0 840.0,1370.0 841.0,1370.0 842.0,1370.0 843.0,1370.0 844.0,1370.0 845.0,1370.0 846.0,1370.0 847.0,1370.0 848.0,1370.0 849.0,1370.0 850.0,1370.0 851.0,1370.0 852.0,1370.0 853.0,1370.0 854.0,1370.0 855.0,1370.0 856.0,1370.0 857.0,1370.0 858.0,1370.0 859.0,1370.0 860.0,1370.0 861.0,1370.0 862.0,1370.0 863.0,1370.0 864.0,1370.0 865.0,1370.0 866.0,1370.0 867.0,1370.0 868.0,1370.0 869.0,1370.0 870.0,1370.0 871.0,1370.0 872.0,1370.0 873.0,1370.0 874.0,1370.0 875.0,1370.0 876.0,1370.0 877.0,1370.0 878.0,1370.0 879.0,1370.0 880.0,1370.0 881.0,1370.0 882.0,1370.0 883.0,1370.0 884.0,1370.0 885.0,1370.0 886.0,1370.0 887.0,1370.0 888.0,1370.0 889.0,1370.0 890.0,1370.1 891.0,1370.1 892.0,1370.2 893.0,1370.4 894.0,1370.5 895.0,1370.7 896.0,1371.0 897.0,1371.2 898.0,1371.5 899.0,1371.7 900.0,1372.0 901.0,1372.3 902.0,1372.7 903.0,1373.0 904.0,1373.3 905.0,1373.7 906.0,1374.0 907.0,1374.4 908.0,1374.7 909.0,1375.1 910.0,1375.4 911.0,1375.8 912.0,1376.1 913.0,1376.5 914.0,1376.8 915.0,1377.1 916.0,1377.4 917.0,1377.6 918.0,1377.9 919.0,1378.1 920.0,1378.3 921.0,1378.5 922.0,1378.7 923.0,1378.8 924.0,1378.9 925.0,1379.0 926.0,1379.0 926.4,1379.0" fill="url(#shatch)"/>
<polyline points="672.0,1377.8 673.0,1377.9 674.0,1377.8 675.0,1377.7 676.0,1377.9 677.0,1377.8 678.0,1377.8 679.0,1377.7 680.0,1377.8 681.0,1377.9 682.0,1377.7 683.0,1377.9 684.0,1378.0 685.0,1378.0 686.0,1377.9 687.0,1377.9 688.0,1377.9 689.0,1377.9 690.0,1377.9 691.0,1377.9 692.0,1377.8 693.0,1378.0 694.0,1377.8 695.0,1377.8 696.0,1377.9 697.0,1377.7 698.0,1377.8 699.0,1377.7 700.0,1377.9 701.0,1377.9 702.0,1377.9 703.0,1377.7 704.0,1377.8 705.0,1377.9 706.0,1377.9 707.0,1377.9 708.0,1378.0 709.0,1378.0 710.0,1377.8 711.0,1377.9 712.0,1377.7 713.0,1377.9 714.0,1377.9 715.0,1377.8 716.0,1377.9 717.0,1377.9 718.0,1377.7 719.0,1377.8 720.0,1377.8 721.0,1377.8 722.0,1377.7 723.0,1377.7 724.0,1377.8 725.0,1377.8 726.0,1378.0 727.0,1377.8 728.0,1377.9 729.0,1377.8 730.0,1377.8 731.0,1377.9 732.0,1378.0 733.0,1377.7 734.0,1377.9 735.0,1377.9 736.0,1377.9 737.0,1377.9 738.0,1377.8 739.0,1377.7 740.0,1377.9 741.0,1377.8 742.0,1377.9 743.0,1377.8 744.0,1377.9 745.0,1377.9 746.0,1377.9 747.0,1377.9 748.0,1377.7 749.0,1377.9 750.0,1377.9 751.0,1377.7 752.0,1377.7 753.0,1377.9 754.0,1377.9 755.0,1377.9 756.0,1378.0 757.0,1377.9 758.0,1378.0 759.0,1377.9 760.0,1377.9 761.0,1377.8 762.0,1377.7 763.0,1377.8 764.0,1377.9 765.0,1374.7 766.0,1371.7 767.0,1367.4 768.0,1361.2 769.0,1353.9 770.0,1344.6 771.0,1333.4 772.0,1323.2 773.0,1310.5 774.0,1297.6 775.0,1284.2 776.0,1271.7 777.0,1258.4 778.0,1245.6 779.0,1233.0 780.0,1221.4 781.0,1210.2 782.0,1200.9 783.0,1192.7 784.0,1187.0 785.0,1181.7 786.0,1172.4 787.0,1163.8 788.0,1165.1 789.0,1174.2 790.0,1180.3 791.0,1184.3 792.0,1189.5 793.0,1196.8 794.0,1205.3 795.0,1214.7 796.0,1226.1 797.0,1237.6 798.0,1249.5 799.0,1261.3 800.0,1273.6 801.0,1285.8 802.0,1298.5 803.0,1310.5 804.0,1321.6 805.0,1332.4 806.0,1341.7 807.0,1350.6 808.0,1356.6 809.0,1362.9 810.0,1366.2 811.0,1369.1 812.0,1370.5 813.0,1370.7 814.0,1370.5 815.0,1370.0 816.0,1370.0 817.0,1370.7 818.0,1370.8 819.0,1370.2 820.0,1370.1 821.0,1370.4 822.0,1370.6 823.0,1370.1 824.0,1370.9 825.0,1370.5 826.0,1370.3 827.0,1369.6 828.0,1370.0 829.0,1369.7 830.0,1370.3 831.0,1370.6 832.0,1370.6 833.0,1369.6 834.0,1370.0 835.0,1370.5 836.0,1370.8 837.0,1370.2 838.0,1370.0 839.0,1370.3 840.0,1370.5 841.0,1370.0 842.0,1369.7 843.0,1370.6 844.0,1370.8 845.0,1370.4 846.0,1370.3 847.0,1370.0 848.0,1370.6 849.0,1369.8 850.0,1369.9 851.0,1370.2 852.0,1370.6 853.0,1369.6 854.0,1370.5 855.0,1369.8 856.0,1370.6 857.0,1370.6 858.0,1369.9 859.0,1370.4 860.0,1369.3 861.0,1369.6 862.0,1369.6 863.0,1369.0 864.0,1368.1 865.0,1367.0 866.0,1365.8 867.0,1366.0 868.0,1364.7 869.0,1363.8 870.0,1361.7 871.0,1361.6 872.0,1360.5 873.0,1359.2 874.0,1357.5 875.0,1355.5 876.0,1354.2 877.0,1353.1 878.0,1351.5 879.0,1350.3 880.0,1349.8 881.0,1348.8 882.0,1346.7 883.0,1345.8 884.0,1345.7 885.0,1344.0 886.0,1343.5 887.0,1342.7 888.0,1342.1 889.0,1341.7 890.0,1341.5 891.0,1340.8 892.0,1340.5 893.0,1339.7 894.0,1340.9 895.0,1340.0 896.0,1341.3 897.0,1341.5 898.0,1341.4 899.0,1342.1 900.0,1343.3 901.0,1344.7 902.0,1345.0 903.0,1346.2 904.0,1346.6 905.0,1348.7 906.0,1349.7 907.0,1350.3 908.0,1352.7 909.0,1353.6 910.0,1354.5 911.0,1356.0 912.0,1358.3 913.0,1359.8 914.0,1361.2 915.0,1361.5 916.0,1363.7 917.0,1364.4 918.0,1365.5 919.0,1367.5 920.0,1368.8 921.0,1369.0 922.0,1370.5 923.0,1371.9 924.0,1372.2 925.0,1373.5 926.0,1374.2 927.0,1375.1 928.0,1374.5 929.0,1377.3 930.0,1377.6" fill="none" stroke="#111" stroke-width="1.1"/>
<polyline points="672.0,1378.0 673.0,1378.0 674.0,1378.0 675.0,1378.0 676.0,1378.0 677.0,1378.0 678.0,1378.0 679.0,1378.0 680.0,1378.0 681.0,1378.0 682.0,1378.0 683.0,1378.0 684.0,1378.0 685.0,1378.0 686.0,1378.0 687.0,1378.0 688.0,1378.0 689.0,1378.0 690.0,1378.0 691.0,1378.0 692.0,1378.0 693.0,1378.0 694.0,1378.0 695.0,1378.0 696.0,1378.0 697.0,1378.0 698.0,1378.0 699.0,1378.0 700.0,1378.0 701.0,1378.0 702.0,1378.0 703.0,1378.0 704.0,1378.0 705.0,1378.0 706.0,1378.0 707.0,1378.0 708.0,1378.0 709.0,1378.0 710.0,1378.0 711.0,1378.0 712.0,1378.0 713.0,1378.0 714.0,1378.0 715.0,1378.0 716.0,1378.0 717.0,1378.0 718.0,1378.0 719.0,1378.0 720.0,1378.0 721.0,1378.0 722.0,1378.0 723.0,1378.0 724.0,1378.0 725.0,1378.0 726.0,1378.0 727.0,1378.0 728.0,1378.0 729.0,1378.0 730.0,1378.0 731.0,1378.0 732.0,1378.0 733.0,1378.0 734.0,1378.0 735.0,1378.0 736.0,1378.0 737.0,1378.0 738.0,1378.0 739.0,1378.0 740.0,1378.0 741.0,1378.0 742.0,1378.0 743.0,1378.0 744.0,1378.0 745.0,1378.0 746.0,1378.0 747.0,1378.0 748.0,1378.0 749.0,1378.0 750.0,1378.0 751.0,1378.0 752.0,1378.0 753.0,1378.0 754.0,1378.0 755.0,1378.0 756.0,1378.0 757.0,1378.0 758.0,1378.0 759.0,1378.0 760.0,1378.0 761.0,1378.0 762.0,1378.0 763.0,1378.0 764.0,1378.0 765.0,1376.9 766.0,1374.1 767.0,1369.6 768.0,1363.6 769.0,1356.0 770.0,1347.2 771.0,1337.1 772.0,1326.0 773.0,1314.1 774.0,1301.6 775.0,1288.7 776.0,1275.7 777.0,1262.7 778.0,1250.1 779.0,1238.0 780.0,1226.6 781.0,1216.3 782.0,1207.0 783.0,1199.0 784.0,1192.4 785.0,1187.2 786.0,1183.7 787.0,1181.8 788.0,1181.6 789.0,1182.9 790.0,1185.8 791.0,1190.2 792.0,1195.9 793.0,1203.0 794.0,1211.3 795.0,1220.7 796.0,1231.0 797.0,1242.1 798.0,1253.8 799.0,1265.8 800.0,1278.1 801.0,1290.4 802.0,1302.5 803.0,1314.2 804.0,1325.2 805.0,1335.4 806.0,1344.7 807.0,1352.8 808.0,1359.6 809.0,1365.1 810.0,1369.1 811.0,1371.7 812.0,1372.6 813.0,1372.6 814.0,1372.6 815.0,1372.6 816.0,1372.6 817.0,1372.6 818.0,1372.6 819.0,1372.6 820.0,1372.6 821.0,1372.6 822.0,1372.6 823.0,1372.6 824.0,1372.6 825.0,1372.6 826.0,1372.6 827.0,1372.6 828.0,1372.6 829.0,1372.6 830.0,1372.6 831.0,1372.6 832.0,1372.6 833.0,1372.6 834.0,1372.6 835.0,1372.6 836.0,1372.6 837.0,1372.6 838.0,1372.6 839.0,1372.6 840.0,1372.6 841.0,1372.6 842.0,1372.6 843.0,1372.6 844.0,1372.6 845.0,1372.6 846.0,1372.6 847.0,1372.6 848.0,1372.6 849.0,1372.6 850.0,1372.6 851.0,1372.6 852.0,1372.6 853.0,1372.6 854.0,1372.6 855.0,1372.6 856.0,1372.6 857.0,1372.6 858.0,1372.6 859.0,1372.5 860.0,1372.3 861.0,1372.0 862.0,1371.6 863.0,1371.0 864.0,1370.4 865.0,1369.7 866.0,1368.9 867.0,1368.0 868.0,1367.0 869.0,1366.0 870.0,1364.9 871.0,1363.7 872.0,1362.5 873.0,1361.2 874.0,1360.0 875.0,1358.7 876.0,1357.4 877.0,1356.1 878.0,1354.8 879.0,1353.6 880.0,1352.4 881.0,1351.2 882.0,1350.1 883.0,1349.0 884.0,1348.0 885.0,1347.1 886.0,1346.2 887.0,1345.5 888.0,1344.8 889.0,1344.2 890.0,1343.8 891.0,1343.5 892.0,1343.3 893.0,1343.3 894.0,1343.3 895.0,1343.5 896.0,1343.8 897.0,1344.3 898.0,1344.8 899.0,1345.4 900.0,1346.1 901.0,1347.0 902.0,1347.9 903.0,1348.9 904.0,1349.9 905.0,1351.1 906.0,1352.3 907.0,1353.5 908.0,1354.9 909.0,1356.2 910.0,1357.6 911.0,1359.0 912.0,1360.4 913.0,1361.8 914.0,1363.2 915.0,1364.6 916.0,1365.9 917.0,1367.2 918.0,1368.5 919.0,1369.7 920.0,1370.9 921.0,1372.0 922.0,1373.0 923.0,1373.9 924.0,1374.8 925.0,1375.5 926.0,1376.2 927.0,1376.7 928.0,1377.2 929.0,1377.5 930.0,1377.8" fill="none" stroke="#222" stroke-width="1.0"/>
<polygon points="763.9,1379.0 764.4,1378.8 764.9,1378.1 765.4,1377.0 765.9,1375.5 766.4,1373.6 766.9,1371.3 767.4,1368.5 767.9,1365.4 768.4,1361.9 768.9,1358.0 769.4,1353.8 769.9,1349.3 770.4,1344.5 770.9,1339.3 771.4,1334.0 771.9,1328.4 772.4,1322.5 772.9,1316.5 773.4,1310.4 773.9,1304.1 774.4,1297.7 774.9,1291.2 775.4,1284.7 775.9,1278.2 776.4,1271.7 776.9,1265.3 777.4,1258.9 777.9,1252.6 778.4,1246.4 778.9,1240.4 779.4,1234.6 779.9,1229.0 780.4,1223.6 780.9,1218.4 781.4,1213.6 781.9,1209.1 782.4,1204.8 782.9,1201.0 783.4,1197.4 783.9,1194.3 784.4,1191.5 784.9,1189.2 785.4,1187.2 785.9,1185.7 786.4,1184.6 786.9,1183.9 787.4,1183.7 787.9,1183.9 788.4,1184.5 788.9,1185.4 789.4,1186.8 789.9,1188.5 790.4,1190.6 790.9,1193.1 791.4,1196.0 791.9,1199.1 792.4,1202.6 792.9,1206.5 793.4,1210.6 793.9,1215.0 794.4,1219.7 794.9,1224.7 795.4,1229.8 795.9,1235.2 796.4,1240.8 796.9,1246.5 797.4,1252.4 797.9,1258.4 798.4,1264.4 798.9,1270.6 799.4,1276.8 799.9,1283.0 800.4,1289.2 800.9,1295.4 801.4,1301.5 801.9,1307.5 802.4,1313.4 802.9,1319.2 803.4,1324.9 803.9,1330.3 804.4,1335.6 804.9,1340.7 805.4,1345.5 805.9,1350.0 806.4,1354.3 806.9,1358.3 807.4,1361.9 807.9,1365.3 808.4,1368.3 808.9,1370.9 809.4,1373.2 809.9,1375.1 810.4,1376.7 810.9,1377.8 811.4,1378.6 811.9,1379.0 811.9,1379.0 763.9,1379.0" fill="#f20000" stroke="#000" stroke-width="1.2" stroke-linejoin="round"/>
<polygon points="857.7,1379.0 858.7,1378.9 859.7,1378.8 860.7,1378.5 861.7,1378.1 862.7,1377.6 863.7,1377.0 864.7,1376.3 865.7,1375.5 866.7,1374.7 867.7,1373.7 868.7,1372.7 869.7,1371.6 870.7,1370.5 871.7,1369.3 872.7,1368.0 873.7,1366.8 874.7,1365.5 875.7,1364.2 876.7,1362.9 877.7,1361.6 878.7,1360.4 879.7,1359.1 880.7,1358.0 881.7,1356.8 882.7,1355.7 883.7,1354.7 884.7,1353.7 885.7,1352.9 886.7,1352.1 887.7,1351.4 888.7,1350.8 889.7,1350.3 890.7,1349.9 891.7,1349.6 892.7,1349.5 893.7,1349.4 894.7,1349.4 895.7,1349.6 896.7,1349.8 897.7,1350.2 898.7,1350.6 899.7,1351.1 900.7,1351.7 901.7,1352.4 902.7,1353.2 903.7,1354.1 904.7,1355.0 905.7,1356.0 906.7,1357.0 907.7,1358.1 908.7,1359.2 909.7,1360.3 910.7,1361.5 911.7,1362.7 912.7,1363.9 913.7,1365.1 914.7,1366.3 915.7,1367.5 916.7,1368.7 917.7,1369.8 918.7,1370.9 919.7,1372.0 920.7,1373.0 921.7,1373.9 922.7,1374.8 923.7,1375.6 924.7,1376.3 925.7,1377.0 926.7,1377.6 927.7,1378.0 928.7,1378.4 929.7,1378.7 930.7,1378.9 931.7,1379.0 931.7,1379.0 857.7,1379.0" fill="#f20000" stroke="#000" stroke-width="1.2" stroke-linejoin="round"/>
<polyline points="782.0,1379.0 783.0,1378.9 784.0,1378.6 785.0,1378.2 786.0,1377.8 787.0,1377.3 788.0,1376.7 789.0,1376.0 790.0,1375.4 791.0,1374.7 792.0,1374.0 793.0,1373.3 794.0,1372.6 795.0,1372.0 796.0,1371.5 797.0,1371.0 798.0,1370.6 799.0,1370.3 800.0,1370.1 801.0,1370.0 802.0,1370.0 803.0,1370.0 804.0,1370.0 805.0,1370.0 806.0,1370.0 807.0,1370.0 808.0,1370.0 809.0,1370.0 810.0,1370.0 811.0,1370.0 812.0,1370.0 813.0,1370.0 814.0,1370.0 815.0,1370.0 816.0,1370.0 817.0,1370.0 818.0,1370.0 819.0,1370.0 820.0,1370.0 821.0,1370.0 822.0,1370.0 823.0,1370.0 824.0,1370.0 825.0,1370.0 826.0,1370.0 827.0,1370.0 828.0,1370.0 829.0,1370.0 830.0,1370.0 831.0,1370.0 832.0,1370.0 833.0,1370.0 834.0,1370.0 835.0,1370.0 836.0,1370.0 837.0,1370.0 838.0,1370.0 839.0,1370.0 840.0,1370.0 841.0,1370.0 842.0,1370.0 843.0,1370.0 844.0,1370.0 845.0,1370.0 846.0,1370.0 847.0,1370.0 848.0,1370.0 849.0,1370.0 850.0,1370.0 851.0,1370.0 852.0,1370.0 853.0,1370.0 854.0,1370.0 855.0,1370.0 856.0,1370.0 857.0,1370.0 858.0,1370.0 859.0,1370.0 860.0,1370.0 861.0,1370.0 862.0,1370.0 863.0,1370.0 864.0,1370.0 865.0,1370.0 866.0,1370.0 867.0,1370.0 868.0,1370.0 869.0,1370.0 870.0,1370.0 871.0,1370.0 872.0,1370.0 873.0,1370.0 874.0,1370.0 875.0,1370.0 876.0,1370.0 877.0,1370.0 878.0,1370.0 879.0,1370.0 880.0,1370.0 881.0,1370.0 882.0,1370.0 883.0,1370.0 884.0,1370.0 885.0,1370.0 886.0,1370.0 887.0,1370.0 888.0,1370.0 889.0,1370.0 890.0,1370.1 891.0,1370.1 892.0,1370.2 893.0,1370.4 894.0,1370.5 895.0,1370.7 896.0,1371.0 897.0,1371.2 898.0,1371.5 899.0,1371.7 900.0,1372.0 901.0,1372.3 902.0,1372.7 903.0,1373.0 904.0,1373.3 905.0,1373.7 906.0,1374.0 907.0,1374.4 908.0,1374.7 909.0,1375.1 910.0,1375.4 911.0,1375.8 912.0,1376.1 913.0,1376.5 914.0,1376.8 915.0,1377.1 916.0,1377.4 917.0,1377.6 918.0,1377.9 919.0,1378.1 920.0,1378.3 921.0,1378.5 922.0,1378.7 923.0,1378.8 924.0,1378.9 925.0,1379.0 926.0,1379.0" fill="none" stroke="#500" stroke-width="1.0" opacity="0.85"/>
<line x1="672.0" y1="1152.9" x2="672.0" y2="1379.0" stroke="#333" stroke-width="1.3"/>
<line x1="668.0" y1="1379.0" x2="930.3" y2="1379.0" stroke="#111" stroke-width="1.8"/>
<line x1="672.0" y1="1379.0" x2="672.0" y2="1386.0" stroke="#333" stroke-width="1.1"/>
<text x="672.0" y="1398.0" font-size="8.5" fill="#999" text-anchor="middle">0</text>
<line x1="682.8" y1="1379.0" x2="682.8" y2="1383.0" stroke="#444" stroke-width="1"/>
<line x1="693.5" y1="1379.0" x2="693.5" y2="1383.0" stroke="#444" stroke-width="1"/>
<line x1="704.3" y1="1379.0" x2="704.3" y2="1383.0" stroke="#444" stroke-width="1"/>
<line x1="715.0" y1="1379.0" x2="715.0" y2="1386.0" stroke="#333" stroke-width="1.1"/>
<text x="715.0" y="1398.0" font-size="8.5" fill="#999" text-anchor="middle">20</text>
<line x1="725.8" y1="1379.0" x2="725.8" y2="1383.0" stroke="#444" stroke-width="1"/>
<line x1="736.6" y1="1379.0" x2="736.6" y2="1383.0" stroke="#444" stroke-width="1"/>
<line x1="747.3" y1="1379.0" x2="747.3" y2="1383.0" stroke="#444" stroke-width="1"/>
<line x1="758.1" y1="1379.0" x2="758.1" y2="1386.0" stroke="#333" stroke-width="1.1"/>
<text x="758.1" y="1398.0" font-size="8.5" fill="#999" text-anchor="middle">40</text>
<line x1="768.9" y1="1379.0" x2="768.9" y2="1383.0" stroke="#444" stroke-width="1"/>
<line x1="779.6" y1="1379.0" x2="779.6" y2="1383.0" stroke="#444" stroke-width="1"/>
<line x1="790.4" y1="1379.0" x2="790.4" y2="1383.0" stroke="#444" stroke-width="1"/>
<line x1="801.1" y1="1379.0" x2="801.1" y2="1386.0" stroke="#333" stroke-width="1.1"/>
<text x="801.1" y="1398.0" font-size="8.5" fill="#999" text-anchor="middle">60</text>
<line x1="811.9" y1="1379.0" x2="811.9" y2="1383.0" stroke="#444" stroke-width="1"/>
<line x1="822.7" y1="1379.0" x2="822.7" y2="1383.0" stroke="#444" stroke-width="1"/>
<line x1="833.4" y1="1379.0" x2="833.4" y2="1383.0" stroke="#444" stroke-width="1"/>
<line x1="844.2" y1="1379.0" x2="844.2" y2="1386.0" stroke="#333" stroke-width="1.1"/>
<text x="844.2" y="1398.0" font-size="8.5" fill="#999" text-anchor="middle">80</text>
<line x1="855.0" y1="1379.0" x2="855.0" y2="1383.0" stroke="#444" stroke-width="1"/>
<line x1="865.7" y1="1379.0" x2="865.7" y2="1383.0" stroke="#444" stroke-width="1"/>
<line x1="876.5" y1="1379.0" x2="876.5" y2="1383.0" stroke="#444" stroke-width="1"/>
<line x1="887.2" y1="1379.0" x2="887.2" y2="1386.0" stroke="#333" stroke-width="1.1"/>
<text x="887.2" y="1398.0" font-size="8.5" fill="#999" text-anchor="middle">100</text>
<line x1="898.0" y1="1379.0" x2="898.0" y2="1383.0" stroke="#444" stroke-width="1"/>
<line x1="908.8" y1="1379.0" x2="908.8" y2="1383.0" stroke="#444" stroke-width="1"/>
<line x1="919.5" y1="1379.0" x2="919.5" y2="1383.0" stroke="#444" stroke-width="1"/>
<line x1="930.3" y1="1379.0" x2="930.3" y2="1386.0" stroke="#333" stroke-width="1.1"/>
<text x="930.3" y="1398.0" font-size="8.5" fill="#999" text-anchor="middle">120</text>
<text x="801.1" y="1407.0" font-size="8.5" fill="#999" text-anchor="middle">Channels (FL2-A)</text>
<line x1="664.0" y1="1379.0" x2="672.0" y2="1379.0" stroke="#444" stroke-width="1"/>
<text transform="translate(660.0,1379.0) rotate(-90)" font-size="8" fill="#999" text-anchor="middle">0</text>
<line x1="664.0" y1="1340.2" x2="672.0" y2="1340.2" stroke="#444" stroke-width="1"/>
<text transform="translate(660.0,1340.2) rotate(-90)" font-size="8" fill="#999" text-anchor="middle">100</text>
<line x1="664.0" y1="1301.4" x2="672.0" y2="1301.4" stroke="#444" stroke-width="1"/>
<text transform="translate(660.0,1301.4) rotate(-90)" font-size="8" fill="#999" text-anchor="middle">200</text>
<line x1="664.0" y1="1262.6" x2="672.0" y2="1262.6" stroke="#444" stroke-width="1"/>
<text transform="translate(660.0,1262.6) rotate(-90)" font-size="8" fill="#999" text-anchor="middle">300</text>
<line x1="664.0" y1="1223.8" x2="672.0" y2="1223.8" stroke="#444" stroke-width="1"/>
<text transform="translate(660.0,1223.8) rotate(-90)" font-size="8" fill="#999" text-anchor="middle">400</text>
<line x1="664.0" y1="1185.0" x2="672.0" y2="1185.0" stroke="#444" stroke-width="1"/>
<text transform="translate(660.0,1185.0) rotate(-90)" font-size="8" fill="#999" text-anchor="middle">500</text>
<line x1="668.0" y1="1379.0" x2="672.0" y2="1379.0" stroke="#555" stroke-width="0.9"/>
<line x1="668.0" y1="1371.2" x2="672.0" y2="1371.2" stroke="#555" stroke-width="0.9"/>
<line x1="668.0" y1="1363.5" x2="672.0" y2="1363.5" stroke="#555" stroke-width="0.9"/>
<line x1="668.0" y1="1355.7" x2="672.0" y2="1355.7" stroke="#555" stroke-width="0.9"/>
<line x1="668.0" y1="1348.0" x2="672.0" y2="1348.0" stroke="#555" stroke-width="0.9"/>
<line x1="668.0" y1="1340.2" x2="672.0" y2="1340.2" stroke="#555" stroke-width="0.9"/>
<line x1="668.0" y1="1332.4" x2="672.0" y2="1332.4" stroke="#555" stroke-width="0.9"/>
<line x1="668.0" y1="1324.7" x2="672.0" y2="1324.7" stroke="#555" stroke-width="0.9"/>
<line x1="668.0" y1="1316.9" x2="672.0" y2="1316.9" stroke="#555" stroke-width="0.9"/>
<line x1="668.0" y1="1309.2" x2="672.0" y2="1309.2" stroke="#555" stroke-width="0.9"/>
<line x1="668.0" y1="1301.4" x2="672.0" y2="1301.4" stroke="#555" stroke-width="0.9"/>
<line x1="668.0" y1="1293.6" x2="672.0" y2="1293.6" stroke="#555" stroke-width="0.9"/>
<line x1="668.0" y1="1285.9" x2="672.0" y2="1285.9" stroke="#555" stroke-width="0.9"/>
<line x1="668.0" y1="1278.1" x2="672.0" y2="1278.1" stroke="#555" stroke-width="0.9"/>
<line x1="668.0" y1="1270.4" x2="672.0" y2="1270.4" stroke="#555" stroke-width="0.9"/>
<line x1="668.0" y1="1262.6" x2="672.0" y2="1262.6" stroke="#555" stroke-width="0.9"/>
<line x1="668.0" y1="1254.8" x2="672.0" y2="1254.8" stroke="#555" stroke-width="0.9"/>
<line x1="668.0" y1="1247.1" x2="672.0" y2="1247.1" stroke="#555" stroke-width="0.9"/>
<line x1="668.0" y1="1239.3" x2="672.0" y2="1239.3" stroke="#555" stroke-width="0.9"/>
<line x1="668.0" y1="1231.6" x2="672.0" y2="1231.6" stroke="#555" stroke-width="0.9"/>
<line x1="668.0" y1="1223.8" x2="672.0" y2="1223.8" stroke="#555" stroke-width="0.9"/>
<line x1="668.0" y1="1216.0" x2="672.0" y2="1216.0" stroke="#555" stroke-width="0.9"/>
<line x1="668.0" y1="1208.3" x2="672.0" y2="1208.3" stroke="#555" stroke-width="0.9"/>
<line x1="668.0" y1="1200.5" x2="672.0" y2="1200.5" stroke="#555" stroke-width="0.9"/>
<line x1="668.0" y1="1192.8" x2="672.0" y2="1192.8" stroke="#555" stroke-width="0.9"/>
<line x1="668.0" y1="1185.0" x2="672.0" y2="1185.0" stroke="#555" stroke-width="0.9"/>
<line x1="668.0" y1="1177.2" x2="672.0" y2="1177.2" stroke="#555" stroke-width="0.9"/>
<line x1="668.0" y1="1169.5" x2="672.0" y2="1169.5" stroke="#555" stroke-width="0.9"/>
<line x1="668.0" y1="1161.7" x2="672.0" y2="1161.7" stroke="#555" stroke-width="0.9"/>
<line x1="668.0" y1="1154.0" x2="672.0" y2="1154.0" stroke="#555" stroke-width="0.9"/>
<text transform="translate(650.0,1276.0) rotate(-90)" font-size="8.5" fill="#888" text-anchor="middle">Number</text>
<polygon points="783.5,1387.0 792.5,1387.0 788.0,1380.0" fill="#000"/>
<polygon points="888.8,1387.0 897.8,1387.0 893.3,1380.0" fill="#000"/>
<polygon points="1091.6,1381.4 1091.7,1381.4 1092.7,1381.1 1093.7,1380.4 1094.7,1379.4 1095.7,1378.1 1096.7,1376.8 1097.7,1375.3 1098.7,1373.9 1099.7,1372.7 1100.7,1371.6 1101.7,1370.8 1102.7,1370.4 1103.7,1370.4 1104.7,1370.4 1105.7,1370.4 1106.7,1370.4 1107.7,1370.4 1108.7,1370.4 1109.7,1370.4 1110.7,1370.4 1111.7,1370.4 1112.7,1370.4 1113.7,1370.4 1114.7,1370.4 1115.7,1370.4 1116.7,1370.4 1117.7,1370.4 1118.7,1370.4 1119.7,1370.4 1120.7,1370.4 1121.7,1370.4 1122.7,1370.4 1123.7,1370.4 1124.7,1370.4 1125.7,1370.4 1126.7,1370.4 1127.7,1370.4 1128.7,1370.4 1129.7,1370.4 1130.7,1370.4 1131.7,1370.4 1132.7,1370.4 1133.7,1370.4 1134.7,1370.4 1135.7,1370.4 1136.7,1370.4 1137.7,1370.4 1138.7,1370.4 1139.7,1370.4 1140.7,1370.4 1141.7,1370.4 1142.7,1370.4 1143.7,1370.4 1144.7,1370.4 1145.7,1370.4 1146.7,1370.4 1147.7,1370.4 1148.7,1370.4 1149.7,1370.4 1150.7,1370.4 1151.7,1370.4 1152.7,1370.4 1153.7,1370.4 1154.7,1370.4 1155.7,1370.4 1156.7,1370.4 1157.7,1370.4 1158.7,1370.4 1159.7,1370.4 1160.7,1370.4 1161.7,1370.4 1162.7,1370.4 1163.7,1370.4 1164.7,1370.4 1165.7,1370.4 1166.7,1370.4 1167.7,1370.4 1168.7,1370.4 1169.7,1370.4 1170.7,1370.4 1171.7,1370.4 1172.7,1370.4 1173.7,1370.4 1174.7,1370.4 1175.7,1370.4 1176.7,1370.4 1177.7,1370.4 1178.7,1370.4 1179.7,1370.4 1180.7,1370.4 1181.7,1370.4 1182.7,1370.4 1183.7,1370.4 1184.7,1370.4 1185.7,1370.4 1186.7,1370.4 1187.7,1370.4 1188.7,1370.4 1189.7,1370.5 1190.7,1370.7 1191.7,1370.9 1192.7,1371.3 1193.7,1371.7 1194.7,1372.1 1195.7,1372.7 1196.7,1373.2 1197.7,1373.8 1198.7,1374.5 1199.7,1375.1 1200.7,1375.8 1201.7,1376.4 1202.7,1377.1 1203.7,1377.7 1204.7,1378.3 1205.7,1378.9 1206.7,1379.4 1207.7,1379.9 1208.7,1380.4 1209.7,1380.7 1210.7,1381.0 1211.7,1381.3 1212.7,1381.4 1213.4,1381.4" fill="url(#shatch)"/>
<polyline points="989.7,1380.1 990.7,1380.4 991.7,1380.3 992.7,1380.3 993.7,1380.1 994.7,1380.1 995.7,1380.3 996.7,1380.3 997.7,1380.3 998.7,1380.3 999.7,1380.1 1000.7,1380.3 1001.7,1380.2 1002.7,1380.2 1003.7,1380.2 1004.7,1380.2 1005.7,1380.2 1006.7,1380.3 1007.7,1380.3 1008.7,1380.3 1009.7,1380.2 1010.7,1380.4 1011.7,1380.3 1012.7,1380.2 1013.7,1380.3 1014.7,1380.4 1015.7,1380.4 1016.7,1380.2 1017.7,1380.3 1018.7,1380.1 1019.7,1380.2 1020.7,1380.1 1021.7,1380.3 1022.7,1380.4 1023.7,1380.4 1024.7,1380.3 1025.7,1380.2 1026.7,1380.3 1027.7,1380.3 1028.7,1380.3 1029.7,1380.2 1030.7,1380.2 1031.7,1380.2 1032.7,1380.2 1033.7,1380.2 1034.7,1380.3 1035.7,1380.2 1036.7,1380.3 1037.7,1380.2 1038.7,1380.3 1039.7,1380.2 1040.7,1380.3 1041.7,1380.3 1042.7,1380.3 1043.7,1380.3 1044.7,1380.2 1045.7,1380.2 1046.7,1380.3 1047.7,1380.3 1048.7,1380.1 1049.7,1380.2 1050.7,1380.3 1051.7,1380.2 1052.7,1380.2 1053.7,1380.1 1054.7,1380.4 1055.7,1380.3 1056.7,1380.2 1057.7,1380.2 1058.7,1380.1 1059.7,1380.4 1060.7,1380.3 1061.7,1380.3 1062.7,1380.3 1063.7,1380.1 1064.7,1380.2 1065.7,1380.1 1066.7,1380.3 1067.7,1380.2 1068.7,1380.3 1069.7,1380.3 1070.7,1380.2 1071.7,1380.1 1072.7,1380.4 1073.7,1380.2 1074.7,1380.2 1075.7,1380.3 1076.7,1380.3 1077.7,1380.3 1078.7,1380.3 1079.7,1380.3 1080.7,1379.9 1081.7,1374.1 1082.7,1367.2 1083.7,1356.6 1084.7,1342.2 1085.7,1325.4 1086.7,1308.0 1087.7,1288.9 1088.7,1269.9 1089.7,1250.8 1090.7,1234.4 1091.7,1220.5 1092.7,1208.7 1093.7,1195.2 1094.7,1171.0 1095.7,1168.9 1096.7,1192.0 1097.7,1204.6 1098.7,1215.3 1099.7,1230.4 1100.7,1247.9 1101.7,1267.1 1102.7,1286.3 1103.7,1307.1 1104.7,1325.4 1105.7,1342.1 1106.7,1355.3 1107.7,1364.4 1108.7,1369.6 1109.7,1371.6 1110.7,1371.8 1111.7,1371.1 1112.7,1371.8 1113.7,1372.0 1114.7,1370.9 1115.7,1371.5 1116.7,1371.0 1117.7,1371.5 1118.7,1370.9 1119.7,1371.4 1120.7,1371.8 1121.7,1372.0 1122.7,1371.3 1123.7,1371.2 1124.7,1370.9 1125.7,1371.9 1126.7,1371.2 1127.7,1371.6 1128.7,1371.4 1129.7,1371.9 1130.7,1371.7 1131.7,1371.4 1132.7,1370.8 1133.7,1371.9 1134.7,1371.4 1135.7,1371.0 1136.7,1370.8 1137.7,1371.8 1138.7,1371.9 1139.7,1370.8 1140.7,1370.8 1141.7,1371.4 1142.7,1372.0 1143.7,1370.8 1144.7,1371.5 1145.7,1370.9 1146.7,1371.2 1147.7,1371.0 1148.7,1371.8 1149.7,1371.0 1150.7,1371.8 1151.7,1371.5 1152.7,1370.9 1153.7,1371.0 1154.7,1371.8 1155.7,1371.8 1156.7,1371.5 1157.7,1371.4 1158.7,1371.5 1159.7,1371.9 1160.7,1371.7 1161.7,1371.1 1162.7,1370.9 1163.7,1372.0 1164.7,1371.3 1165.7,1371.1 1166.7,1372.0 1167.7,1371.0 1168.7,1371.8 1169.7,1370.7 1170.7,1370.1 1171.7,1369.0 1172.7,1368.2 1173.7,1366.5 1174.7,1364.6 1175.7,1362.9 1176.7,1360.5 1177.7,1358.6 1178.7,1356.3 1179.7,1354.5 1180.7,1351.4 1181.7,1349.2 1182.7,1347.3 1183.7,1344.5 1184.7,1342.5 1185.7,1341.1 1186.7,1339.8 1187.7,1338.1 1188.7,1337.4 1189.7,1336.6 1190.7,1335.8 1191.7,1336.2 1192.7,1336.0 1193.7,1336.5 1194.7,1338.0 1195.7,1338.4 1196.7,1340.6 1197.7,1341.5 1198.7,1343.4 1199.7,1345.9 1200.7,1348.8 1201.7,1350.6 1202.7,1353.4 1203.7,1355.2 1204.7,1358.9 1205.7,1360.6 1206.7,1362.9 1207.7,1365.7 1208.7,1367.9 1209.7,1370.8 1210.7,1371.7 1211.7,1374.0 1212.7,1374.8 1213.7,1375.9 1214.7,1377.7 1215.7,1379.9 1216.7,1380.1 1217.7,1380.4 1218.7,1380.3 1219.7,1380.2 1220.7,1380.3 1221.7,1380.1 1222.7,1380.3 1223.7,1380.2 1224.7,1380.3 1225.7,1380.2 1226.7,1380.1 1227.7,1380.3 1228.7,1380.3 1229.7,1380.2 1230.7,1380.3 1231.7,1380.4 1232.7,1380.3 1233.7,1380.3 1234.7,1380.1 1235.7,1380.2 1236.7,1380.1 1237.7,1380.3 1238.7,1380.2 1239.7,1380.4 1240.7,1380.2 1241.7,1380.2 1242.7,1380.3" fill="none" stroke="#111" stroke-width="1.1"/>
<polyline points="989.7,1380.4 990.7,1380.4 991.7,1380.4 992.7,1380.4 993.7,1380.4 994.7,1380.4 995.7,1380.4 996.7,1380.4 997.7,1380.4 998.7,1380.4 999.7,1380.4 1000.7,1380.4 1001.7,1380.4 1002.7,1380.4 1003.7,1380.4 1004.7,1380.4 1005.7,1380.4 1006.7,1380.4 1007.7,1380.4 1008.7,1380.4 1009.7,1380.4 1010.7,1380.4 1011.7,1380.4 1012.7,1380.4 1013.7,1380.4 1014.7,1380.4 1015.7,1380.4 1016.7,1380.4 1017.7,1380.4 1018.7,1380.4 1019.7,1380.4 1020.7,1380.4 1021.7,1380.4 1022.7,1380.4 1023.7,1380.4 1024.7,1380.4 1025.7,1380.4 1026.7,1380.4 1027.7,1380.4 1028.7,1380.4 1029.7,1380.4 1030.7,1380.4 1031.7,1380.4 1032.7,1380.4 1033.7,1380.4 1034.7,1380.4 1035.7,1380.4 1036.7,1380.4 1037.7,1380.4 1038.7,1380.4 1039.7,1380.4 1040.7,1380.4 1041.7,1380.4 1042.7,1380.4 1043.7,1380.4 1044.7,1380.4 1045.7,1380.4 1046.7,1380.4 1047.7,1380.4 1048.7,1380.4 1049.7,1380.4 1050.7,1380.4 1051.7,1380.4 1052.7,1380.4 1053.7,1380.4 1054.7,1380.4 1055.7,1380.4 1056.7,1380.4 1057.7,1380.4 1058.7,1380.4 1059.7,1380.4 1060.7,1380.4 1061.7,1380.4 1062.7,1380.4 1063.7,1380.4 1064.7,1380.4 1065.7,1380.4 1066.7,1380.4 1067.7,1380.4 1068.7,1380.4 1069.7,1380.4 1070.7,1380.4 1071.7,1380.4 1072.7,1380.4 1073.7,1380.4 1074.7,1380.4 1075.7,1380.4 1076.7,1380.4 1077.7,1380.4 1078.7,1380.4 1079.7,1380.4 1080.7,1380.1 1081.7,1376.6 1082.7,1369.4 1083.7,1358.7 1084.7,1345.0 1085.7,1329.0 1086.7,1311.2 1087.7,1292.6 1088.7,1273.9 1089.7,1256.0 1090.7,1239.5 1091.7,1225.3 1092.7,1213.8 1093.7,1205.4 1094.7,1200.5 1095.7,1199.4 1096.7,1202.5 1097.7,1209.9 1098.7,1221.0 1099.7,1235.5 1100.7,1252.5 1101.7,1271.3 1102.7,1291.0 1103.7,1310.5 1104.7,1328.8 1105.7,1344.9 1106.7,1357.9 1107.7,1367.4 1108.7,1372.7 1109.7,1373.8 1110.7,1373.8 1111.7,1373.8 1112.7,1373.8 1113.7,1373.8 1114.7,1373.8 1115.7,1373.8 1116.7,1373.8 1117.7,1373.8 1118.7,1373.8 1119.7,1373.8 1120.7,1373.8 1121.7,1373.8 1122.7,1373.8 1123.7,1373.8 1124.7,1373.8 1125.7,1373.8 1126.7,1373.8 1127.7,1373.8 1128.7,1373.8 1129.7,1373.8 1130.7,1373.8 1131.7,1373.8 1132.7,1373.8 1133.7,1373.8 1134.7,1373.8 1135.7,1373.8 1136.7,1373.8 1137.7,1373.8 1138.7,1373.8 1139.7,1373.8 1140.7,1373.8 1141.7,1373.8 1142.7,1373.8 1143.7,1373.8 1144.7,1373.8 1145.7,1373.8 1146.7,1373.8 1147.7,1373.8 1148.7,1373.8 1149.7,1373.8 1150.7,1373.8 1151.7,1373.8 1152.7,1373.8 1153.7,1373.8 1154.7,1373.8 1155.7,1373.8 1156.7,1373.8 1157.7,1373.8 1158.7,1373.8 1159.7,1373.8 1160.7,1373.8 1161.7,1373.8 1162.7,1373.8 1163.7,1373.8 1164.7,1373.8 1165.7,1373.8 1166.7,1373.8 1167.7,1373.8 1168.7,1373.7 1169.7,1373.3 1170.7,1372.6 1171.7,1371.6 1172.7,1370.4 1173.7,1368.9 1174.7,1367.2 1175.7,1365.3 1176.7,1363.3 1177.7,1361.2 1178.7,1358.9 1179.7,1356.6 1180.7,1354.3 1181.7,1352.0 1182.7,1349.8 1183.7,1347.8 1184.7,1345.8 1185.7,1344.0 1186.7,1342.4 1187.7,1341.1 1188.7,1340.0 1189.7,1339.2 1190.7,1338.8 1191.7,1338.7 1192.7,1339.0 1193.7,1339.6 1194.7,1340.4 1195.7,1341.6 1196.7,1343.1 1197.7,1344.7 1198.7,1346.7 1199.7,1348.8 1200.7,1351.1 1201.7,1353.5 1202.7,1356.0 1203.7,1358.5 1204.7,1361.1 1205.7,1363.6 1206.7,1366.1 1207.7,1368.5 1208.7,1370.7 1209.7,1372.8 1210.7,1374.7 1211.7,1376.3 1212.7,1377.7 1213.7,1378.7 1214.7,1379.5 1215.7,1380.1 1216.7,1380.4 1217.7,1380.4 1218.7,1380.4 1219.7,1380.4 1220.7,1380.4 1221.7,1380.4 1222.7,1380.4 1223.7,1380.4 1224.7,1380.4 1225.7,1380.4 1226.7,1380.4 1227.7,1380.4 1228.7,1380.4 1229.7,1380.4 1230.7,1380.4 1231.7,1380.4 1232.7,1380.4 1233.7,1380.4 1234.7,1380.4 1235.7,1380.4 1236.7,1380.4 1237.7,1380.4 1238.7,1380.4 1239.7,1380.4 1240.7,1380.4 1241.7,1380.4 1242.7,1380.4" fill="none" stroke="#222" stroke-width="1.0"/>
<polygon points="1080.3,1381.4 1080.8,1380.9 1081.3,1379.4 1081.8,1377.0 1082.3,1373.6 1082.8,1369.4 1083.3,1364.3 1083.8,1358.3 1084.3,1351.7 1084.8,1344.4 1085.3,1336.5 1085.8,1328.1 1086.3,1319.4 1086.8,1310.3 1087.3,1301.0 1087.8,1291.6 1088.3,1282.3 1088.8,1273.0 1089.3,1263.9 1089.8,1255.2 1090.3,1246.8 1090.8,1238.9 1091.3,1231.6 1091.8,1225.0 1092.3,1219.1 1092.8,1214.0 1093.3,1209.7 1093.8,1206.4 1094.3,1203.9 1094.8,1202.5 1095.3,1202.0 1095.8,1202.6 1096.3,1204.2 1096.8,1207.0 1097.3,1210.8 1097.8,1215.6 1098.3,1221.3 1098.8,1228.0 1099.3,1235.4 1099.8,1243.5 1100.3,1252.2 1100.8,1261.4 1101.3,1270.9 1101.8,1280.7 1102.3,1290.7 1102.8,1300.7 1103.3,1310.5 1103.8,1320.2 1104.3,1329.4 1104.8,1338.2 1105.3,1346.5 1105.8,1354.0 1106.3,1360.8 1106.8,1366.7 1107.3,1371.7 1107.8,1375.7 1108.3,1378.7 1108.8,1380.6 1109.3,1381.4 1109.3,1381.4 1080.3,1381.4" fill="#f20000" stroke="#000" stroke-width="1.2" stroke-linejoin="round"/>
<polygon points="1167.8,1381.4 1168.8,1381.3 1169.8,1380.8 1170.8,1380.1 1171.8,1379.1 1172.8,1377.8 1173.8,1376.3 1174.8,1374.6 1175.8,1372.6 1176.8,1370.6 1177.8,1368.4 1178.8,1366.2 1179.8,1363.9 1180.8,1361.6 1181.8,1359.3 1182.8,1357.1 1183.8,1355.1 1184.8,1353.1 1185.8,1351.4 1186.8,1349.8 1187.8,1348.5 1188.8,1347.5 1189.8,1346.7 1190.8,1346.2 1191.8,1346.0 1192.8,1346.1 1193.8,1346.5 1194.8,1347.1 1195.8,1348.0 1196.8,1349.1 1197.8,1350.5 1198.8,1352.1 1199.8,1353.8 1200.8,1355.7 1201.8,1357.8 1202.8,1359.9 1203.8,1362.0 1204.8,1364.3 1205.8,1366.4 1206.8,1368.6 1207.8,1370.7 1208.8,1372.6 1209.8,1374.5 1210.8,1376.1 1211.8,1377.6 1212.8,1378.9 1213.8,1379.9 1214.8,1380.6 1215.8,1381.1 1216.8,1381.4 1216.8,1381.4 1167.8,1381.4" fill="#f20000" stroke="#000" stroke-width="1.2" stroke-linejoin="round"/>
<polyline points="1091.7,1381.4 1092.7,1381.1 1093.7,1380.4 1094.7,1379.4 1095.7,1378.1 1096.7,1376.8 1097.7,1375.3 1098.7,1373.9 1099.7,1372.7 1100.7,1371.6 1101.7,1370.8 1102.7,1370.4 1103.7,1370.4 1104.7,1370.4 1105.7,1370.4 1106.7,1370.4 1107.7,1370.4 1108.7,1370.4 1109.7,1370.4 1110.7,1370.4 1111.7,1370.4 1112.7,1370.4 1113.7,1370.4 1114.7,1370.4 1115.7,1370.4 1116.7,1370.4 1117.7,1370.4 1118.7,1370.4 1119.7,1370.4 1120.7,1370.4 1121.7,1370.4 1122.7,1370.4 1123.7,1370.4 1124.7,1370.4 1125.7,1370.4 1126.7,1370.4 1127.7,1370.4 1128.7,1370.4 1129.7,1370.4 1130.7,1370.4 1131.7,1370.4 1132.7,1370.4 1133.7,1370.4 1134.7,1370.4 1135.7,1370.4 1136.7,1370.4 1137.7,1370.4 1138.7,1370.4 1139.7,1370.4 1140.7,1370.4 1141.7,1370.4 1142.7,1370.4 1143.7,1370.4 1144.7,1370.4 1145.7,1370.4 1146.7,1370.4 1147.7,1370.4 1148.7,1370.4 1149.7,1370.4 1150.7,1370.4 1151.7,1370.4 1152.7,1370.4 1153.7,1370.4 1154.7,1370.4 1155.7,1370.4 1156.7,1370.4 1157.7,1370.4 1158.7,1370.4 1159.7,1370.4 1160.7,1370.4 1161.7,1370.4 1162.7,1370.4 1163.7,1370.4 1164.7,1370.4 1165.7,1370.4 1166.7,1370.4 1167.7,1370.4 1168.7,1370.4 1169.7,1370.4 1170.7,1370.4 1171.7,1370.4 1172.7,1370.4 1173.7,1370.4 1174.7,1370.4 1175.7,1370.4 1176.7,1370.4 1177.7,1370.4 1178.7,1370.4 1179.7,1370.4 1180.7,1370.4 1181.7,1370.4 1182.7,1370.4 1183.7,1370.4 1184.7,1370.4 1185.7,1370.4 1186.7,1370.4 1187.7,1370.4 1188.7,1370.4 1189.7,1370.5 1190.7,1370.7 1191.7,1370.9 1192.7,1371.3 1193.7,1371.7 1194.7,1372.1 1195.7,1372.7 1196.7,1373.2 1197.7,1373.8 1198.7,1374.5 1199.7,1375.1 1200.7,1375.8 1201.7,1376.4 1202.7,1377.1 1203.7,1377.7 1204.7,1378.3 1205.7,1378.9 1206.7,1379.4 1207.7,1379.9 1208.7,1380.4 1209.7,1380.7 1210.7,1381.0 1211.7,1381.3 1212.7,1381.4" fill="none" stroke="#500" stroke-width="1.0" opacity="0.85"/>
<line x1="989.7" y1="1156.3" x2="989.7" y2="1381.4" stroke="#333" stroke-width="1.3"/>
<line x1="985.7" y1="1381.4" x2="1243.4" y2="1381.4" stroke="#111" stroke-width="1.8"/>
<line x1="989.7" y1="1381.4" x2="989.7" y2="1388.4" stroke="#333" stroke-width="1.1"/>
<text x="989.7" y="1400.4" font-size="8.5" fill="#999" text-anchor="middle">0</text>
<line x1="1000.3" y1="1381.4" x2="1000.3" y2="1385.4" stroke="#444" stroke-width="1"/>
<line x1="1010.8" y1="1381.4" x2="1010.8" y2="1385.4" stroke="#444" stroke-width="1"/>
<line x1="1021.4" y1="1381.4" x2="1021.4" y2="1385.4" stroke="#444" stroke-width="1"/>
<line x1="1032.0" y1="1381.4" x2="1032.0" y2="1388.4" stroke="#333" stroke-width="1.1"/>
<text x="1032.0" y="1400.4" font-size="8.5" fill="#999" text-anchor="middle">20</text>
<line x1="1042.6" y1="1381.4" x2="1042.6" y2="1385.4" stroke="#444" stroke-width="1"/>
<line x1="1053.1" y1="1381.4" x2="1053.1" y2="1385.4" stroke="#444" stroke-width="1"/>
<line x1="1063.7" y1="1381.4" x2="1063.7" y2="1385.4" stroke="#444" stroke-width="1"/>
<line x1="1074.3" y1="1381.4" x2="1074.3" y2="1388.4" stroke="#333" stroke-width="1.1"/>
<text x="1074.3" y="1400.4" font-size="8.5" fill="#999" text-anchor="middle">40</text>
<line x1="1084.8" y1="1381.4" x2="1084.8" y2="1385.4" stroke="#444" stroke-width="1"/>
<line x1="1095.4" y1="1381.4" x2="1095.4" y2="1385.4" stroke="#444" stroke-width="1"/>
<line x1="1106.0" y1="1381.4" x2="1106.0" y2="1385.4" stroke="#444" stroke-width="1"/>
<line x1="1116.6" y1="1381.4" x2="1116.6" y2="1388.4" stroke="#333" stroke-width="1.1"/>
<text x="1116.6" y="1400.4" font-size="8.5" fill="#999" text-anchor="middle">60</text>
<line x1="1127.1" y1="1381.4" x2="1127.1" y2="1385.4" stroke="#444" stroke-width="1"/>
<line x1="1137.7" y1="1381.4" x2="1137.7" y2="1385.4" stroke="#444" stroke-width="1"/>
<line x1="1148.3" y1="1381.4" x2="1148.3" y2="1385.4" stroke="#444" stroke-width="1"/>
<line x1="1158.8" y1="1381.4" x2="1158.8" y2="1388.4" stroke="#333" stroke-width="1.1"/>
<text x="1158.8" y="1400.4" font-size="8.5" fill="#999" text-anchor="middle">80</text>
<line x1="1169.4" y1="1381.4" x2="1169.4" y2="1385.4" stroke="#444" stroke-width="1"/>
<line x1="1180.0" y1="1381.4" x2="1180.0" y2="1385.4" stroke="#444" stroke-width="1"/>
<line x1="1190.5" y1="1381.4" x2="1190.5" y2="1385.4" stroke="#444" stroke-width="1"/>
<line x1="1201.1" y1="1381.4" x2="1201.1" y2="1388.4" stroke="#333" stroke-width="1.1"/>
<text x="1201.1" y="1400.4" font-size="8.5" fill="#999" text-anchor="middle">100</text>
<line x1="1211.7" y1="1381.4" x2="1211.7" y2="1385.4" stroke="#444" stroke-width="1"/>
<line x1="1222.3" y1="1381.4" x2="1222.3" y2="1385.4" stroke="#444" stroke-width="1"/>
<line x1="1232.8" y1="1381.4" x2="1232.8" y2="1385.4" stroke="#444" stroke-width="1"/>
<line x1="1243.4" y1="1381.4" x2="1243.4" y2="1388.4" stroke="#333" stroke-width="1.1"/>
<text x="1243.4" y="1400.4" font-size="8.5" fill="#999" text-anchor="middle">120</text>
<text x="1116.6" y="1409.4" font-size="8.5" fill="#999" text-anchor="middle">Channels (FL2-A)</text>
<line x1="981.7" y1="1381.4" x2="989.7" y2="1381.4" stroke="#444" stroke-width="1"/>
<text transform="translate(977.7,1381.4) rotate(-90)" font-size="8" fill="#999" text-anchor="middle">0</text>
<line x1="981.7" y1="1347.0" x2="989.7" y2="1347.0" stroke="#444" stroke-width="1"/>
<text transform="translate(977.7,1347.0) rotate(-90)" font-size="8" fill="#999" text-anchor="middle">100</text>
<line x1="981.7" y1="1312.6" x2="989.7" y2="1312.6" stroke="#444" stroke-width="1"/>
<text transform="translate(977.7,1312.6) rotate(-90)" font-size="8" fill="#999" text-anchor="middle">200</text>
<line x1="981.7" y1="1278.2" x2="989.7" y2="1278.2" stroke="#444" stroke-width="1"/>
<text transform="translate(977.7,1278.2) rotate(-90)" font-size="8" fill="#999" text-anchor="middle">300</text>
<line x1="981.7" y1="1243.8" x2="989.7" y2="1243.8" stroke="#444" stroke-width="1"/>
<text transform="translate(977.7,1243.8) rotate(-90)" font-size="8" fill="#999" text-anchor="middle">400</text>
<line x1="981.7" y1="1209.4" x2="989.7" y2="1209.4" stroke="#444" stroke-width="1"/>
<text transform="translate(977.7,1209.4) rotate(-90)" font-size="8" fill="#999" text-anchor="middle">500</text>
<line x1="981.7" y1="1175.0" x2="989.7" y2="1175.0" stroke="#444" stroke-width="1"/>
<text transform="translate(977.7,1175.0) rotate(-90)" font-size="8" fill="#999" text-anchor="middle">600</text>
<line x1="985.7" y1="1381.4" x2="989.7" y2="1381.4" stroke="#555" stroke-width="0.9"/>
<line x1="985.7" y1="1374.5" x2="989.7" y2="1374.5" stroke="#555" stroke-width="0.9"/>
<line x1="985.7" y1="1367.6" x2="989.7" y2="1367.6" stroke="#555" stroke-width="0.9"/>
<line x1="985.7" y1="1360.8" x2="989.7" y2="1360.8" stroke="#555" stroke-width="0.9"/>
<line x1="985.7" y1="1353.9" x2="989.7" y2="1353.9" stroke="#555" stroke-width="0.9"/>
<line x1="985.7" y1="1347.0" x2="989.7" y2="1347.0" stroke="#555" stroke-width="0.9"/>
<line x1="985.7" y1="1340.1" x2="989.7" y2="1340.1" stroke="#555" stroke-width="0.9"/>
<line x1="985.7" y1="1333.2" x2="989.7" y2="1333.2" stroke="#555" stroke-width="0.9"/>
<line x1="985.7" y1="1326.4" x2="989.7" y2="1326.4" stroke="#555" stroke-width="0.9"/>
<line x1="985.7" y1="1319.5" x2="989.7" y2="1319.5" stroke="#555" stroke-width="0.9"/>
<line x1="985.7" y1="1312.6" x2="989.7" y2="1312.6" stroke="#555" stroke-width="0.9"/>
<line x1="985.7" y1="1305.7" x2="989.7" y2="1305.7" stroke="#555" stroke-width="0.9"/>
<line x1="985.7" y1="1298.8" x2="989.7" y2="1298.8" stroke="#555" stroke-width="0.9"/>
<line x1="985.7" y1="1292.0" x2="989.7" y2="1292.0" stroke="#555" stroke-width="0.9"/>
<line x1="985.7" y1="1285.1" x2="989.7" y2="1285.1" stroke="#555" stroke-width="0.9"/>
<line x1="985.7" y1="1278.2" x2="989.7" y2="1278.2" stroke="#555" stroke-width="0.9"/>
<line x1="985.7" y1="1271.3" x2="989.7" y2="1271.3" stroke="#555" stroke-width="0.9"/>
<line x1="985.7" y1="1264.4" x2="989.7" y2="1264.4" stroke="#555" stroke-width="0.9"/>
<line x1="985.7" y1="1257.6" x2="989.7" y2="1257.6" stroke="#555" stroke-width="0.9"/>
<line x1="985.7" y1="1250.7" x2="989.7" y2="1250.7" stroke="#555" stroke-width="0.9"/>
<line x1="985.7" y1="1243.8" x2="989.7" y2="1243.8" stroke="#555" stroke-width="0.9"/>
<line x1="985.7" y1="1236.9" x2="989.7" y2="1236.9" stroke="#555" stroke-width="0.9"/>
<line x1="985.7" y1="1230.0" x2="989.7" y2="1230.0" stroke="#555" stroke-width="0.9"/>
<line x1="985.7" y1="1223.2" x2="989.7" y2="1223.2" stroke="#555" stroke-width="0.9"/>
<line x1="985.7" y1="1216.3" x2="989.7" y2="1216.3" stroke="#555" stroke-width="0.9"/>
<line x1="985.7" y1="1209.4" x2="989.7" y2="1209.4" stroke="#555" stroke-width="0.9"/>
<line x1="985.7" y1="1202.5" x2="989.7" y2="1202.5" stroke="#555" stroke-width="0.9"/>
<line x1="985.7" y1="1195.6" x2="989.7" y2="1195.6" stroke="#555" stroke-width="0.9"/>
<line x1="985.7" y1="1188.8" x2="989.7" y2="1188.8" stroke="#555" stroke-width="0.9"/>
<line x1="985.7" y1="1181.9" x2="989.7" y2="1181.9" stroke="#555" stroke-width="0.9"/>
<line x1="985.7" y1="1175.0" x2="989.7" y2="1175.0" stroke="#555" stroke-width="0.9"/>
<line x1="985.7" y1="1168.1" x2="989.7" y2="1168.1" stroke="#555" stroke-width="0.9"/>
<line x1="985.7" y1="1161.2" x2="989.7" y2="1161.2" stroke="#555" stroke-width="0.9"/>
<text transform="translate(967.7,1278.8) rotate(-90)" font-size="8.5" fill="#888" text-anchor="middle">Number</text>
<polygon points="1090.8,1389.4 1099.8,1389.4 1095.3,1382.4" fill="#000"/>
<polygon points="1187.5,1389.4 1196.5,1389.4 1192.0,1382.4" fill="#000"/>
<polygon points="1377.5,1383.0 1377.6,1383.0 1378.6,1382.7 1379.6,1382.1 1380.6,1381.2 1381.6,1380.0 1382.6,1378.8 1383.6,1377.5 1384.6,1376.2 1385.6,1375.1 1386.6,1374.1 1387.6,1373.4 1388.6,1373.0 1389.6,1373.0 1390.6,1373.0 1391.6,1373.0 1392.6,1373.0 1393.6,1373.0 1394.6,1373.0 1395.6,1373.0 1396.6,1373.0 1397.6,1373.0 1398.6,1373.0 1399.6,1373.0 1400.6,1373.0 1401.6,1373.0 1402.6,1373.0 1403.6,1373.0 1404.6,1373.0 1405.6,1373.0 1406.6,1373.0 1407.6,1373.0 1408.6,1373.0 1409.6,1373.0 1410.6,1373.0 1411.6,1373.0 1412.6,1373.0 1413.6,1373.0 1414.6,1373.0 1415.6,1373.0 1416.6,1373.0 1417.6,1373.0 1418.6,1373.0 1419.6,1373.0 1420.6,1373.0 1421.6,1373.0 1422.6,1373.0 1423.6,1373.0 1424.6,1373.0 1425.6,1373.0 1426.6,1373.0 1427.6,1373.0 1428.6,1373.0 1429.6,1373.0 1430.6,1373.0 1431.6,1373.0 1432.6,1373.0 1433.6,1373.0 1434.6,1373.0 1435.6,1373.0 1436.6,1373.0 1437.6,1373.0 1438.6,1373.0 1439.6,1373.0 1440.6,1373.0 1441.6,1373.0 1442.6,1373.0 1443.6,1373.0 1444.6,1373.0 1445.6,1373.0 1446.6,1373.0 1447.6,1373.0 1448.6,1373.0 1449.6,1373.0 1450.6,1373.0 1451.6,1373.0 1452.6,1373.0 1453.6,1373.0 1454.6,1373.0 1455.6,1373.0 1456.6,1373.0 1457.6,1373.0 1458.6,1373.0 1459.6,1373.0 1460.6,1373.0 1461.6,1373.0 1462.6,1373.0 1463.6,1373.2 1464.6,1373.4 1465.6,1373.8 1466.6,1374.2 1467.6,1374.7 1468.6,1375.3 1469.6,1375.9 1470.6,1376.5 1471.6,1377.2 1472.6,1377.9 1473.6,1378.6 1474.6,1379.2 1475.6,1379.9 1476.6,1380.5 1477.6,1381.1 1478.6,1381.6 1479.6,1382.1 1480.6,1382.5 1481.6,1382.7 1482.6,1382.9 1483.6,1383.0 1483.7,1383.0" fill="url(#shatch)"/>
<polyline points="1291.6,1381.8 1292.6,1381.8 1293.6,1381.8 1294.6,1381.8 1295.6,1382.0 1296.6,1381.7 1297.6,1381.8 1298.6,1381.9 1299.6,1381.8 1300.6,1381.9 1301.6,1381.7 1302.6,1381.8 1303.6,1381.9 1304.6,1381.8 1305.6,1381.9 1306.6,1381.9 1307.6,1381.8 1308.6,1382.0 1309.6,1381.8 1310.6,1381.9 1311.6,1381.8 1312.6,1381.7 1313.6,1381.8 1314.6,1381.8 1315.6,1381.9 1316.6,1382.0 1317.6,1382.0 1318.6,1381.9 1319.6,1381.8 1320.6,1381.9 1321.6,1381.8 1322.6,1381.7 1323.6,1381.9 1324.6,1381.9 1325.6,1381.8 1326.6,1382.0 1327.6,1382.0 1328.6,1381.9 1329.6,1382.0 1330.6,1381.9 1331.6,1381.9 1332.6,1381.8 1333.6,1381.8 1334.6,1381.9 1335.6,1381.8 1336.6,1381.9 1337.6,1381.9 1338.6,1381.7 1339.6,1381.9 1340.6,1381.9 1341.6,1382.0 1342.6,1381.8 1343.6,1381.8 1344.6,1381.8 1345.6,1381.9 1346.6,1381.9 1347.6,1382.0 1348.6,1381.8 1349.6,1381.8 1350.6,1381.9 1351.6,1381.8 1352.6,1381.9 1353.6,1381.7 1354.6,1381.8 1355.6,1381.9 1356.6,1381.7 1357.6,1382.0 1358.6,1381.8 1359.6,1381.9 1360.6,1381.9 1361.6,1382.0 1362.6,1381.8 1363.6,1382.0 1364.6,1381.8 1365.6,1381.7 1366.6,1381.6 1367.6,1376.2 1368.6,1368.1 1369.6,1357.1 1370.6,1342.6 1371.6,1325.7 1372.6,1308.1 1373.6,1288.5 1374.6,1269.0 1375.6,1250.6 1376.6,1232.4 1377.6,1217.7 1378.6,1205.8 1379.6,1195.9 1380.6,1170.7 1381.6,1168.7 1382.6,1191.6 1383.6,1202.1 1384.6,1214.2 1385.6,1229.6 1386.6,1247.6 1387.6,1267.1 1388.6,1287.9 1389.6,1307.9 1390.6,1326.4 1391.6,1343.2 1392.6,1356.6 1393.6,1366.6 1394.6,1372.7 1395.6,1373.5 1396.6,1373.7 1397.6,1373.2 1398.6,1373.6 1399.6,1373.9 1400.6,1373.4 1401.6,1373.0 1402.6,1374.0 1403.6,1373.1 1404.6,1374.2 1405.6,1373.9 1406.6,1374.0 1407.6,1373.3 1408.6,1373.0 1409.6,1373.3 1410.6,1373.8 1411.6,1373.1 1412.6,1373.8 1413.6,1373.9 1414.6,1373.1 1415.6,1373.4 1416.6,1373.4 1417.6,1373.4 1418.6,1373.0 1419.6,1373.6 1420.6,1373.2 1421.6,1373.4 1422.6,1373.1 1423.6,1373.7 1424.6,1373.3 1425.6,1373.5 1426.6,1373.9 1427.6,1374.0 1428.6,1373.5 1429.6,1374.2 1430.6,1373.1 1431.6,1374.1 1432.6,1374.2 1433.6,1374.1 1434.6,1373.1 1435.6,1373.8 1436.6,1374.1 1437.6,1374.2 1438.6,1374.2 1439.6,1373.4 1440.6,1373.4 1441.6,1373.4 1442.6,1373.3 1443.6,1374.0 1444.6,1372.8 1445.6,1372.2 1446.6,1370.5 1447.6,1369.0 1448.6,1367.2 1449.6,1366.4 1450.6,1363.2 1451.6,1360.9 1452.6,1358.5 1453.6,1357.2 1454.6,1354.6 1455.6,1352.3 1456.6,1350.1 1457.6,1346.8 1458.6,1344.8 1459.6,1343.2 1460.6,1341.4 1461.6,1340.3 1462.6,1339.7 1463.6,1339.3 1464.6,1339.1 1465.6,1338.4 1466.6,1339.6 1467.6,1340.5 1468.6,1341.7 1469.6,1343.9 1470.6,1345.7 1471.6,1348.0 1472.6,1350.0 1473.6,1353.2 1474.6,1356.1 1475.6,1358.2 1476.6,1361.8 1477.6,1364.2 1478.6,1367.3 1479.6,1370.7 1480.6,1372.5 1481.6,1374.6 1482.6,1375.9 1483.6,1377.9 1484.6,1378.5 1485.6,1381.5 1486.6,1381.9 1487.6,1381.8 1488.6,1382.0 1489.6,1381.8 1490.6,1381.9 1491.6,1382.0 1492.6,1381.9 1493.6,1381.8 1494.6,1381.7 1495.6,1382.0 1496.6,1381.9 1497.6,1381.9 1498.6,1381.8 1499.6,1381.9 1500.6,1381.9 1501.6,1381.9 1502.6,1381.8 1503.6,1381.9 1504.6,1381.7 1505.6,1381.9 1506.6,1381.9 1507.6,1381.8 1508.6,1381.9 1509.6,1382.0 1510.6,1381.8 1511.6,1382.0 1512.6,1381.8 1513.6,1381.8 1514.6,1381.8 1515.6,1381.8 1516.6,1381.9 1517.6,1381.9 1518.6,1381.9 1519.6,1381.7 1520.6,1382.0 1521.6,1381.7 1522.6,1382.0 1523.6,1381.9 1524.6,1381.9 1525.6,1381.7 1526.6,1381.8 1527.6,1381.9 1528.6,1381.8 1529.6,1381.9 1530.6,1381.9 1531.6,1381.8 1532.6,1381.8 1533.6,1381.8 1534.6,1381.8 1535.6,1381.9 1536.6,1381.9 1537.6,1381.9 1538.6,1381.8 1539.6,1381.8 1540.6,1381.8 1541.6,1381.9 1542.6,1381.9 1543.6,1381.8" fill="none" stroke="#111" stroke-width="1.1"/>
<polyline points="1291.6,1382.0 1292.6,1382.0 1293.6,1382.0 1294.6,1382.0 1295.6,1382.0 1296.6,1382.0 1297.6,1382.0 1298.6,1382.0 1299.6,1382.0 1300.6,1382.0 1301.6,1382.0 1302.6,1382.0 1303.6,1382.0 1304.6,1382.0 1305.6,1382.0 1306.6,1382.0 1307.6,1382.0 1308.6,1382.0 1309.6,1382.0 1310.6,1382.0 1311.6,1382.0 1312.6,1382.0 1313.6,1382.0 1314.6,1382.0 1315.6,1382.0 1316.6,1382.0 1317.6,1382.0 1318.6,1382.0 1319.6,1382.0 1320.6,1382.0 1321.6,1382.0 1322.6,1382.0 1323.6,1382.0 1324.6,1382.0 1325.6,1382.0 1326.6,1382.0 1327.6,1382.0 1328.6,1382.0 1329.6,1382.0 1330.6,1382.0 1331.6,1382.0 1332.6,1382.0 1333.6,1382.0 1334.6,1382.0 1335.6,1382.0 1336.6,1382.0 1337.6,1382.0 1338.6,1382.0 1339.6,1382.0 1340.6,1382.0 1341.6,1382.0 1342.6,1382.0 1343.6,1382.0 1344.6,1382.0 1345.6,1382.0 1346.6,1382.0 1347.6,1382.0 1348.6,1382.0 1349.6,1382.0 1350.6,1382.0 1351.6,1382.0 1352.6,1382.0 1353.6,1382.0 1354.6,1382.0 1355.6,1382.0 1356.6,1382.0 1357.6,1382.0 1358.6,1382.0 1359.6,1382.0 1360.6,1382.0 1361.6,1382.0 1362.6,1382.0 1363.6,1382.0 1364.6,1382.0 1365.6,1382.0 1366.6,1381.7 1367.6,1378.1 1368.6,1370.7 1369.6,1359.8 1370.6,1345.8 1371.6,1329.4 1372.6,1311.3 1373.6,1292.3 1374.6,1273.2 1375.6,1254.9 1376.6,1238.1 1377.6,1223.6 1378.6,1211.8 1379.6,1203.3 1380.6,1198.3 1381.6,1197.3 1382.6,1200.6 1383.6,1208.2 1384.6,1219.7 1385.6,1234.5 1386.6,1252.0 1387.6,1271.2 1388.6,1291.4 1389.6,1311.4 1390.6,1330.0 1391.6,1346.4 1392.6,1359.8 1393.6,1369.4 1394.6,1374.9 1395.6,1376.0 1396.6,1376.0 1397.6,1376.0 1398.6,1376.0 1399.6,1376.0 1400.6,1376.0 1401.6,1376.0 1402.6,1376.0 1403.6,1376.0 1404.6,1376.0 1405.6,1376.0 1406.6,1376.0 1407.6,1376.0 1408.6,1376.0 1409.6,1376.0 1410.6,1376.0 1411.6,1376.0 1412.6,1376.0 1413.6,1376.0 1414.6,1376.0 1415.6,1376.0 1416.6,1376.0 1417.6,1376.0 1418.6,1376.0 1419.6,1376.0 1420.6,1376.0 1421.6,1376.0 1422.6,1376.0 1423.6,1376.0 1424.6,1376.0 1425.6,1376.0 1426.6,1376.0 1427.6,1376.0 1428.6,1376.0 1429.6,1376.0 1430.6,1376.0 1431.6,1376.0 1432.6,1376.0 1433.6,1376.0 1434.6,1376.0 1435.6,1376.0 1436.6,1376.0 1437.6,1376.0 1438.6,1376.0 1439.6,1376.0 1440.6,1376.0 1441.6,1376.0 1442.6,1376.0 1443.6,1375.8 1444.6,1375.3 1445.6,1374.5 1446.6,1373.3 1447.6,1371.9 1448.6,1370.2 1449.6,1368.4 1450.6,1366.3 1451.6,1364.1 1452.6,1361.8 1453.6,1359.4 1454.6,1357.0 1455.6,1354.6 1456.6,1352.4 1457.6,1350.2 1458.6,1348.2 1459.6,1346.4 1460.6,1344.8 1461.6,1343.5 1462.6,1342.5 1463.6,1341.9 1464.6,1341.6 1465.6,1341.8 1466.6,1342.3 1467.6,1343.3 1468.6,1344.6 1469.6,1346.3 1470.6,1348.3 1471.6,1350.6 1472.6,1353.1 1473.6,1355.8 1474.6,1358.6 1475.6,1361.5 1476.6,1364.4 1477.6,1367.2 1478.6,1370.0 1479.6,1372.5 1480.6,1374.8 1481.6,1376.9 1482.6,1378.6 1483.6,1380.0 1484.6,1381.0 1485.6,1381.7 1486.6,1382.0 1487.6,1382.0 1488.6,1382.0 1489.6,1382.0 1490.6,1382.0 1491.6,1382.0 1492.6,1382.0 1493.6,1382.0 1494.6,1382.0 1495.6,1382.0 1496.6,1382.0 1497.6,1382.0 1498.6,1382.0 1499.6,1382.0 1500.6,1382.0 1501.6,1382.0 1502.6,1382.0 1503.6,1382.0 1504.6,1382.0 1505.6,1382.0 1506.6,1382.0 1507.6,1382.0 1508.6,1382.0 1509.6,1382.0 1510.6,1382.0 1511.6,1382.0 1512.6,1382.0 1513.6,1382.0 1514.6,1382.0 1515.6,1382.0 1516.6,1382.0 1517.6,1382.0 1518.6,1382.0 1519.6,1382.0 1520.6,1382.0 1521.6,1382.0 1522.6,1382.0 1523.6,1382.0 1524.6,1382.0 1525.6,1382.0 1526.6,1382.0 1527.6,1382.0 1528.6,1382.0 1529.6,1382.0 1530.6,1382.0 1531.6,1382.0 1532.6,1382.0 1533.6,1382.0 1534.6,1382.0 1535.6,1382.0 1536.6,1382.0 1537.6,1382.0 1538.6,1382.0 1539.6,1382.0 1540.6,1382.0 1541.6,1382.0 1542.6,1382.0 1543.6,1382.0" fill="none" stroke="#222" stroke-width="1.0"/>
<polygon points="1366.2,1383.0 1366.7,1382.5 1367.2,1381.0 1367.7,1378.5 1368.2,1375.1 1368.7,1370.7 1369.2,1365.5 1369.7,1359.4 1370.2,1352.7 1370.7,1345.2 1371.2,1337.1 1371.7,1328.6 1372.2,1319.6 1372.7,1310.4 1373.2,1300.9 1373.7,1291.3 1374.2,1281.7 1374.7,1272.2 1375.2,1263.0 1375.7,1254.0 1376.2,1245.5 1376.7,1237.4 1377.2,1230.0 1377.7,1223.2 1378.2,1217.1 1378.7,1211.9 1379.2,1207.6 1379.7,1204.2 1380.2,1201.7 1380.7,1200.2 1381.2,1199.7 1381.7,1200.3 1382.2,1202.0 1382.7,1204.8 1383.2,1208.7 1383.7,1213.6 1384.2,1219.5 1384.7,1226.2 1385.2,1233.8 1385.7,1242.1 1386.2,1251.0 1386.7,1260.3 1387.2,1270.1 1387.7,1280.2 1388.2,1290.3 1388.7,1300.5 1389.2,1310.6 1389.7,1320.4 1390.2,1329.9 1390.7,1338.9 1391.2,1347.3 1391.7,1355.0 1392.2,1361.9 1392.7,1368.0 1393.2,1373.1 1393.7,1377.2 1394.2,1380.2 1394.7,1382.2 1395.2,1383.0 1395.2,1383.0 1366.2,1383.0" fill="#f20000" stroke="#000" stroke-width="1.2" stroke-linejoin="round"/>
<polygon points="1442.5,1383.0 1443.5,1382.8 1444.5,1382.3 1445.5,1381.5 1446.5,1380.4 1447.5,1379.0 1448.5,1377.4 1449.5,1375.5 1450.5,1373.5 1451.5,1371.3 1452.5,1369.0 1453.5,1366.6 1454.5,1364.2 1455.5,1361.8 1456.5,1359.5 1457.5,1357.4 1458.5,1355.4 1459.5,1353.5 1460.5,1351.9 1461.5,1350.6 1462.5,1349.6 1463.5,1348.8 1464.5,1348.4 1465.5,1348.3 1466.5,1348.6 1467.5,1349.2 1468.5,1350.2 1469.5,1351.5 1470.5,1353.0 1471.5,1354.9 1472.5,1357.0 1473.5,1359.3 1474.5,1361.7 1475.5,1364.1 1476.5,1366.7 1477.5,1369.2 1478.5,1371.6 1479.5,1373.9 1480.5,1376.0 1481.5,1377.9 1482.5,1379.6 1483.5,1380.9 1484.5,1381.9 1485.5,1382.6 1486.5,1383.0 1486.5,1383.0 1442.5,1383.0" fill="#f20000" stroke="#000" stroke-width="1.2" stroke-linejoin="round"/>
<polyline points="1377.6,1383.0 1378.6,1382.7 1379.6,1382.1 1380.6,1381.2 1381.6,1380.0 1382.6,1378.8 1383.6,1377.5 1384.6,1376.2 1385.6,1375.1 1386.6,1374.1 1387.6,1373.4 1388.6,1373.0 1389.6,1373.0 1390.6,1373.0 1391.6,1373.0 1392.6,1373.0 1393.6,1373.0 1394.6,1373.0 1395.6,1373.0 1396.6,1373.0 1397.6,1373.0 1398.6,1373.0 1399.6,1373.0 1400.6,1373.0 1401.6,1373.0 1402.6,1373.0 1403.6,1373.0 1404.6,1373.0 1405.6,1373.0 1406.6,1373.0 1407.6,1373.0 1408.6,1373.0 1409.6,1373.0 1410.6,1373.0 1411.6,1373.0 1412.6,1373.0 1413.6,1373.0 1414.6,1373.0 1415.6,1373.0 1416.6,1373.0 1417.6,1373.0 1418.6,1373.0 1419.6,1373.0 1420.6,1373.0 1421.6,1373.0 1422.6,1373.0 1423.6,1373.0 1424.6,1373.0 1425.6,1373.0 1426.6,1373.0 1427.6,1373.0 1428.6,1373.0 1429.6,1373.0 1430.6,1373.0 1431.6,1373.0 1432.6,1373.0 1433.6,1373.0 1434.6,1373.0 1435.6,1373.0 1436.6,1373.0 1437.6,1373.0 1438.6,1373.0 1439.6,1373.0 1440.6,1373.0 1441.6,1373.0 1442.6,1373.0 1443.6,1373.0 1444.6,1373.0 1445.6,1373.0 1446.6,1373.0 1447.6,1373.0 1448.6,1373.0 1449.6,1373.0 1450.6,1373.0 1451.6,1373.0 1452.6,1373.0 1453.6,1373.0 1454.6,1373.0 1455.6,1373.0 1456.6,1373.0 1457.6,1373.0 1458.6,1373.0 1459.6,1373.0 1460.6,1373.0 1461.6,1373.0 1462.6,1373.0 1463.6,1373.2 1464.6,1373.4 1465.6,1373.8 1466.6,1374.2 1467.6,1374.7 1468.6,1375.3 1469.6,1375.9 1470.6,1376.5 1471.6,1377.2 1472.6,1377.9 1473.6,1378.6 1474.6,1379.2 1475.6,1379.9 1476.6,1380.5 1477.6,1381.1 1478.6,1381.6 1479.6,1382.1 1480.6,1382.5 1481.6,1382.7 1482.6,1382.9 1483.6,1383.0" fill="none" stroke="#500" stroke-width="1.0" opacity="0.85"/>
<line x1="1291.6" y1="1160.9" x2="1291.6" y2="1383.0" stroke="#333" stroke-width="1.3"/>
<line x1="1287.6" y1="1383.0" x2="1544.1" y2="1383.0" stroke="#111" stroke-width="1.8"/>
<line x1="1291.6" y1="1383.0" x2="1291.6" y2="1390.0" stroke="#333" stroke-width="1.1"/>
<text x="1291.6" y="1402.0" font-size="8.5" fill="#999" text-anchor="middle">0</text>
<line x1="1304.2" y1="1383.0" x2="1304.2" y2="1387.0" stroke="#444" stroke-width="1"/>
<line x1="1316.8" y1="1383.0" x2="1316.8" y2="1387.0" stroke="#444" stroke-width="1"/>
<line x1="1329.5" y1="1383.0" x2="1329.5" y2="1387.0" stroke="#444" stroke-width="1"/>
<line x1="1342.1" y1="1383.0" x2="1342.1" y2="1390.0" stroke="#333" stroke-width="1.1"/>
<text x="1342.1" y="1402.0" font-size="8.5" fill="#999" text-anchor="middle">30</text>
<line x1="1354.7" y1="1383.0" x2="1354.7" y2="1387.0" stroke="#444" stroke-width="1"/>
<line x1="1367.3" y1="1383.0" x2="1367.3" y2="1387.0" stroke="#444" stroke-width="1"/>
<line x1="1380.0" y1="1383.0" x2="1380.0" y2="1387.0" stroke="#444" stroke-width="1"/>
<line x1="1392.6" y1="1383.0" x2="1392.6" y2="1390.0" stroke="#333" stroke-width="1.1"/>
<text x="1392.6" y="1402.0" font-size="8.5" fill="#999" text-anchor="middle">60</text>
<line x1="1405.2" y1="1383.0" x2="1405.2" y2="1387.0" stroke="#444" stroke-width="1"/>
<line x1="1417.8" y1="1383.0" x2="1417.8" y2="1387.0" stroke="#444" stroke-width="1"/>
<line x1="1430.5" y1="1383.0" x2="1430.5" y2="1387.0" stroke="#444" stroke-width="1"/>
<line x1="1443.1" y1="1383.0" x2="1443.1" y2="1390.0" stroke="#333" stroke-width="1.1"/>
<text x="1443.1" y="1402.0" font-size="8.5" fill="#999" text-anchor="middle">90</text>
<line x1="1455.7" y1="1383.0" x2="1455.7" y2="1387.0" stroke="#444" stroke-width="1"/>
<line x1="1468.3" y1="1383.0" x2="1468.3" y2="1387.0" stroke="#444" stroke-width="1"/>
<line x1="1481.0" y1="1383.0" x2="1481.0" y2="1387.0" stroke="#444" stroke-width="1"/>
<line x1="1493.6" y1="1383.0" x2="1493.6" y2="1390.0" stroke="#333" stroke-width="1.1"/>
<text x="1493.6" y="1402.0" font-size="8.5" fill="#999" text-anchor="middle">120</text>
<line x1="1506.2" y1="1383.0" x2="1506.2" y2="1387.0" stroke="#444" stroke-width="1"/>
<line x1="1518.8" y1="1383.0" x2="1518.8" y2="1387.0" stroke="#444" stroke-width="1"/>
<line x1="1531.5" y1="1383.0" x2="1531.5" y2="1387.0" stroke="#444" stroke-width="1"/>
<line x1="1544.1" y1="1383.0" x2="1544.1" y2="1390.0" stroke="#333" stroke-width="1.1"/>
<text x="1544.1" y="1402.0" font-size="8.5" fill="#999" text-anchor="middle">150</text>
<text x="1417.8" y="1411.0" font-size="8.5" fill="#999" text-anchor="middle">Channels (FL2-A)</text>
<line x1="1283.6" y1="1383.0" x2="1291.6" y2="1383.0" stroke="#444" stroke-width="1"/>
<text transform="translate(1279.6,1383.0) rotate(-90)" font-size="8" fill="#999" text-anchor="middle">0</text>
<line x1="1283.6" y1="1348.3" x2="1291.6" y2="1348.3" stroke="#444" stroke-width="1"/>
<text transform="translate(1279.6,1348.3) rotate(-90)" font-size="8" fill="#999" text-anchor="middle">100</text>
<line x1="1283.6" y1="1313.7" x2="1291.6" y2="1313.7" stroke="#444" stroke-width="1"/>
<text transform="translate(1279.6,1313.7) rotate(-90)" font-size="8" fill="#999" text-anchor="middle">200</text>
<line x1="1283.6" y1="1279.0" x2="1291.6" y2="1279.0" stroke="#444" stroke-width="1"/>
<text transform="translate(1279.6,1279.0) rotate(-90)" font-size="8" fill="#999" text-anchor="middle">300</text>
<line x1="1283.6" y1="1244.3" x2="1291.6" y2="1244.3" stroke="#444" stroke-width="1"/>
<text transform="translate(1279.6,1244.3) rotate(-90)" font-size="8" fill="#999" text-anchor="middle">400</text>
<line x1="1283.6" y1="1209.7" x2="1291.6" y2="1209.7" stroke="#444" stroke-width="1"/>
<text transform="translate(1279.6,1209.7) rotate(-90)" font-size="8" fill="#999" text-anchor="middle">500</text>
<line x1="1283.6" y1="1175.0" x2="1291.6" y2="1175.0" stroke="#444" stroke-width="1"/>
<text transform="translate(1279.6,1175.0) rotate(-90)" font-size="8" fill="#999" text-anchor="middle">600</text>
<line x1="1287.6" y1="1383.0" x2="1291.6" y2="1383.0" stroke="#555" stroke-width="0.9"/>
<line x1="1287.6" y1="1376.1" x2="1291.6" y2="1376.1" stroke="#555" stroke-width="0.9"/>
<line x1="1287.6" y1="1369.1" x2="1291.6" y2="1369.1" stroke="#555" stroke-width="0.9"/>
<line x1="1287.6" y1="1362.2" x2="1291.6" y2="1362.2" stroke="#555" stroke-width="0.9"/>
<line x1="1287.6" y1="1355.3" x2="1291.6" y2="1355.3" stroke="#555" stroke-width="0.9"/>
<line x1="1287.6" y1="1348.3" x2="1291.6" y2="1348.3" stroke="#555" stroke-width="0.9"/>
<line x1="1287.6" y1="1341.4" x2="1291.6" y2="1341.4" stroke="#555" stroke-width="0.9"/>
<line x1="1287.6" y1="1334.5" x2="1291.6" y2="1334.5" stroke="#555" stroke-width="0.9"/>
<line x1="1287.6" y1="1327.5" x2="1291.6" y2="1327.5" stroke="#555" stroke-width="0.9"/>
<line x1="1287.6" y1="1320.6" x2="1291.6" y2="1320.6" stroke="#555" stroke-width="0.9"/>
<line x1="1287.6" y1="1313.7" x2="1291.6" y2="1313.7" stroke="#555" stroke-width="0.9"/>
<line x1="1287.6" y1="1306.7" x2="1291.6" y2="1306.7" stroke="#555" stroke-width="0.9"/>
<line x1="1287.6" y1="1299.8" x2="1291.6" y2="1299.8" stroke="#555" stroke-width="0.9"/>
<line x1="1287.6" y1="1292.9" x2="1291.6" y2="1292.9" stroke="#555" stroke-width="0.9"/>
<line x1="1287.6" y1="1285.9" x2="1291.6" y2="1285.9" stroke="#555" stroke-width="0.9"/>
<line x1="1287.6" y1="1279.0" x2="1291.6" y2="1279.0" stroke="#555" stroke-width="0.9"/>
<line x1="1287.6" y1="1272.1" x2="1291.6" y2="1272.1" stroke="#555" stroke-width="0.9"/>
<line x1="1287.6" y1="1265.1" x2="1291.6" y2="1265.1" stroke="#555" stroke-width="0.9"/>
<line x1="1287.6" y1="1258.2" x2="1291.6" y2="1258.2" stroke="#555" stroke-width="0.9"/>
<line x1="1287.6" y1="1251.3" x2="1291.6" y2="1251.3" stroke="#555" stroke-width="0.9"/>
<line x1="1287.6" y1="1244.3" x2="1291.6" y2="1244.3" stroke="#555" stroke-width="0.9"/>
<line x1="1287.6" y1="1237.4" x2="1291.6" y2="1237.4" stroke="#555" stroke-width="0.9"/>
<line x1="1287.6" y1="1230.5" x2="1291.6" y2="1230.5" stroke="#555" stroke-width="0.9"/>
<line x1="1287.6" y1="1223.5" x2="1291.6" y2="1223.5" stroke="#555" stroke-width="0.9"/>
<line x1="1287.6" y1="1216.6" x2="1291.6" y2="1216.6" stroke="#555" stroke-width="0.9"/>
<line x1="1287.6" y1="1209.7" x2="1291.6" y2="1209.7" stroke="#555" stroke-width="0.9"/>
<line x1="1287.6" y1="1202.7" x2="1291.6" y2="1202.7" stroke="#555" stroke-width="0.9"/>
<line x1="1287.6" y1="1195.8" x2="1291.6" y2="1195.8" stroke="#555" stroke-width="0.9"/>
<line x1="1287.6" y1="1188.9" x2="1291.6" y2="1188.9" stroke="#555" stroke-width="0.9"/>
<line x1="1287.6" y1="1181.9" x2="1291.6" y2="1181.9" stroke="#555" stroke-width="0.9"/>
<line x1="1287.6" y1="1175.0" x2="1291.6" y2="1175.0" stroke="#555" stroke-width="0.9"/>
<line x1="1287.6" y1="1168.1" x2="1291.6" y2="1168.1" stroke="#555" stroke-width="0.9"/>
<line x1="1287.6" y1="1161.1" x2="1291.6" y2="1161.1" stroke="#555" stroke-width="0.9"/>
<text transform="translate(1269.6,1282.0) rotate(-90)" font-size="8.5" fill="#888" text-anchor="middle">Number</text>
<polygon points="1376.7,1391.0 1385.7,1391.0 1381.2,1384.0" fill="#000"/>
<polygon points="1463.1,1391.0 1472.1,1391.0 1467.6,1384.0" fill="#000"/>
<polygon points="117.5,1897.0 117.9,1896.9 118.9,1896.4 119.9,1895.3 120.9,1893.7 121.9,1891.9 122.9,1889.9 123.9,1887.8 124.9,1885.7 125.9,1883.8 126.9,1882.2 127.9,1880.9 128.9,1880.2 129.9,1880.0 130.9,1880.0 131.9,1880.0 132.9,1880.0 133.9,1880.0 134.9,1880.0 135.9,1880.0 136.9,1880.0 137.9,1880.0 138.9,1880.0 139.9,1880.0 140.9,1880.0 141.9,1880.0 142.9,1880.0 143.9,1880.0 144.9,1880.0 145.9,1880.0 146.9,1880.0 147.9,1880.0 148.9,1880.0 149.9,1880.0 150.9,1880.0 151.9,1880.0 152.9,1880.0 153.9,1880.0 154.9,1880.0 155.9,1880.0 156.9,1880.0 157.9,1880.0 158.9,1880.0 159.9,1880.0 160.9,1880.0 161.9,1880.0 162.9,1880.0 163.9,1880.0 164.9,1880.0 165.9,1880.0 166.9,1880.0 167.9,1880.0 168.9,1880.0 169.9,1880.0 170.9,1880.0 171.9,1880.0 172.9,1880.0 173.9,1880.0 174.9,1880.0 175.9,1880.0 176.9,1880.0 177.9,1880.0 178.9,1880.0 179.9,1880.0 180.9,1880.0 181.9,1880.0 182.9,1880.0 183.9,1880.0 184.9,1880.0 185.9,1880.0 186.9,1880.0 187.9,1880.0 188.9,1880.0 189.9,1880.0 190.9,1880.0 191.9,1880.0 192.9,1880.0 193.9,1880.0 194.9,1880.0 195.9,1880.0 196.9,1880.0 197.9,1880.2 198.9,1880.5 199.9,1881.0 200.9,1881.7 201.9,1882.6 202.9,1883.5 203.9,1884.6 204.9,1885.7 205.9,1886.9 206.9,1888.1 207.9,1889.3 208.9,1890.5 209.9,1891.6 210.9,1892.7 211.9,1893.7 212.9,1894.7 213.9,1895.5 214.9,1896.1 215.9,1896.6 216.9,1896.9 217.8,1897.0" fill="url(#shatch)"/>
<polyline points="36.9,1895.8 37.9,1895.9 38.9,1895.9 39.9,1895.7 40.9,1895.9 41.9,1895.9 42.9,1895.9 43.9,1895.8 44.9,1895.8 45.9,1895.9 46.9,1895.9 47.9,1895.9 48.9,1895.9 49.9,1895.8 50.9,1895.9 51.9,1895.9 52.9,1895.9 53.9,1895.7 54.9,1895.8 55.9,1896.0 56.9,1895.7 57.9,1896.0 58.9,1895.9 59.9,1895.7 60.9,1895.8 61.9,1895.8 62.9,1895.9 63.9,1895.9 64.9,1895.8 65.9,1896.0 66.9,1895.9 67.9,1895.9 68.9,1896.0 69.9,1895.9 70.9,1895.8 71.9,1895.8 72.9,1895.8 73.9,1895.8 74.9,1895.9 75.9,1895.9 76.9,1895.8 77.9,1895.9 78.9,1895.8 79.9,1895.7 80.9,1895.9 81.9,1895.8 82.9,1895.8 83.9,1895.9 84.9,1895.9 85.9,1895.8 86.9,1895.8 87.9,1895.8 88.9,1895.8 89.9,1895.8 90.9,1895.8 91.9,1895.8 92.9,1895.9 93.9,1895.9 94.9,1895.8 95.9,1896.0 96.9,1895.9 97.9,1895.8 98.9,1895.8 99.9,1895.8 100.9,1895.9 101.9,1895.9 102.9,1895.9 103.9,1895.8 104.9,1895.9 105.9,1895.8 106.9,1891.7 107.9,1886.9 108.9,1876.3 109.9,1862.2 110.9,1845.7 111.9,1826.0 112.9,1804.1 113.9,1783.3 114.9,1760.9 115.9,1740.7 116.9,1721.2 117.9,1705.0 118.9,1692.8 119.9,1684.2 120.9,1671.1 121.9,1673.6 122.9,1681.6 123.9,1689.9 124.9,1701.8 125.9,1717.1 126.9,1735.9 127.9,1756.4 128.9,1777.4 129.9,1800.2 130.9,1820.6 131.9,1840.1 132.9,1856.0 133.9,1869.8 134.9,1877.6 135.9,1883.0 136.9,1883.9 137.9,1883.6 138.9,1883.5 139.9,1884.0 140.9,1883.4 141.9,1883.4 142.9,1883.1 143.9,1883.5 144.9,1883.6 145.9,1883.7 146.9,1883.0 147.9,1882.8 148.9,1883.3 149.9,1883.7 150.9,1882.9 151.9,1883.5 152.9,1883.7 153.9,1883.8 154.9,1883.0 155.9,1882.9 156.9,1883.2 157.9,1883.4 158.9,1883.2 159.9,1883.7 160.9,1882.7 161.9,1883.5 162.9,1883.1 163.9,1882.9 164.9,1882.9 165.9,1883.4 166.9,1883.6 167.9,1883.3 168.9,1883.8 169.9,1882.9 170.9,1883.5 171.9,1882.9 172.9,1883.6 173.9,1883.5 174.9,1883.6 175.9,1883.4 176.9,1883.7 177.9,1884.0 178.9,1883.0 179.9,1883.6 180.9,1883.5 181.9,1882.9 182.9,1882.0 183.9,1881.1 184.9,1879.6 185.9,1878.1 186.9,1877.0 187.9,1874.5 188.9,1872.9 189.9,1872.1 190.9,1869.3 191.9,1867.5 192.9,1866.0 193.9,1865.3 194.9,1863.1 195.9,1862.2 196.9,1862.1 197.9,1861.6 198.9,1860.2 199.9,1860.8 200.9,1861.9 201.9,1863.1 202.9,1864.3 203.9,1865.7 204.9,1866.7 205.9,1869.2 206.9,1871.6 207.9,1872.9 208.9,1875.4 209.9,1878.6 210.9,1880.0 211.9,1882.7 212.9,1884.7 213.9,1886.8 214.9,1888.3 215.9,1890.0 216.9,1891.2 217.9,1892.9 218.9,1892.9 219.9,1895.7 220.9,1895.8 221.9,1895.9 222.9,1895.8 223.9,1895.8 224.9,1895.9 225.9,1895.9 226.9,1895.9 227.9,1895.9 228.9,1896.0 229.9,1895.9 230.9,1895.9 231.9,1895.9 232.9,1895.9 233.9,1895.8 234.9,1895.8 235.9,1896.0 236.9,1895.8 237.9,1895.9 238.9,1895.8 239.9,1895.8 240.9,1895.8 241.9,1895.9 242.9,1895.9 243.9,1895.7 244.9,1896.0 245.9,1895.8 246.9,1895.8 247.9,1896.0 248.9,1895.8 249.9,1895.8 250.9,1895.7 251.9,1895.9 252.9,1895.7 253.9,1895.8 254.9,1895.9 255.9,1895.7 256.9,1896.0 257.9,1895.8 258.9,1895.8 259.9,1895.9 260.9,1895.8 261.9,1895.9 262.9,1895.9 263.9,1895.8 264.9,1895.8 265.9,1895.9 266.9,1895.9 267.9,1895.9 268.9,1895.8 269.9,1895.8 270.9,1895.9 271.9,1895.8 272.9,1895.9 273.9,1895.8 274.9,1895.9 275.9,1895.8 276.9,1895.7 277.9,1895.8 278.9,1895.8 279.9,1895.9 280.9,1895.9 281.9,1895.9 282.9,1895.8 283.9,1895.8 284.9,1895.8 285.9,1896.0 286.9,1895.8 287.9,1895.7 288.9,1895.8 289.9,1896.0 290.9,1895.9 291.9,1896.0 292.9,1895.9 293.9,1895.7 294.9,1895.8 295.9,1895.8 296.9,1895.8" fill="none" stroke="#111" stroke-width="1.1"/>
<polyline points="36.9,1896.0 37.9,1896.0 38.9,1896.0 39.9,1896.0 40.9,1896.0 41.9,1896.0 42.9,1896.0 43.9,1896.0 44.9,1896.0 45.9,1896.0 46.9,1896.0 47.9,1896.0 48.9,1896.0 49.9,1896.0 50.9,1896.0 51.9,1896.0 52.9,1896.0 53.9,1896.0 54.9,1896.0 55.9,1896.0 56.9,1896.0 57.9,1896.0 58.9,1896.0 59.9,1896.0 60.9,1896.0 61.9,1896.0 62.9,1896.0 63.9,1896.0 64.9,1896.0 65.9,1896.0 66.9,1896.0 67.9,1896.0 68.9,1896.0 69.9,1896.0 70.9,1896.0 71.9,1896.0 72.9,1896.0 73.9,1896.0 74.9,1896.0 75.9,1896.0 76.9,1896.0 77.9,1896.0 78.9,1896.0 79.9,1896.0 80.9,1896.0 81.9,1896.0 82.9,1896.0 83.9,1896.0 84.9,1896.0 85.9,1896.0 86.9,1896.0 87.9,1896.0 88.9,1896.0 89.9,1896.0 90.9,1896.0 91.9,1896.0 92.9,1896.0 93.9,1896.0 94.9,1896.0 95.9,1896.0 96.9,1896.0 97.9,1896.0 98.9,1896.0 99.9,1896.0 100.9,1896.0 101.9,1896.0 102.9,1896.0 103.9,1896.0 104.9,1896.0 105.9,1896.0 106.9,1894.6 107.9,1888.9 108.9,1879.1 109.9,1865.5 110.9,1848.7 111.9,1829.5 112.9,1808.7 113.9,1787.2 114.9,1765.8 115.9,1745.5 116.9,1727.2 117.9,1711.6 118.9,1699.0 119.9,1690.1 120.9,1685.2 121.9,1684.6 122.9,1688.3 123.9,1696.2 124.9,1708.0 125.9,1723.3 126.9,1741.3 127.9,1761.3 128.9,1782.5 129.9,1804.0 130.9,1824.6 131.9,1843.3 132.9,1859.4 133.9,1872.0 134.9,1880.8 135.9,1885.3 136.9,1885.8 137.9,1885.8 138.9,1885.8 139.9,1885.8 140.9,1885.8 141.9,1885.8 142.9,1885.8 143.9,1885.8 144.9,1885.8 145.9,1885.8 146.9,1885.8 147.9,1885.8 148.9,1885.8 149.9,1885.8 150.9,1885.8 151.9,1885.8 152.9,1885.8 153.9,1885.8 154.9,1885.8 155.9,1885.8 156.9,1885.8 157.9,1885.8 158.9,1885.8 159.9,1885.8 160.9,1885.8 161.9,1885.8 162.9,1885.8 163.9,1885.8 164.9,1885.8 165.9,1885.8 166.9,1885.8 167.9,1885.8 168.9,1885.8 169.9,1885.8 170.9,1885.8 171.9,1885.8 172.9,1885.8 173.9,1885.8 174.9,1885.8 175.9,1885.8 176.9,1885.8 177.9,1885.8 178.9,1885.8 179.9,1885.8 180.9,1885.6 181.9,1885.2 182.9,1884.4 183.9,1883.5 184.9,1882.3 185.9,1880.9 186.9,1879.4 187.9,1877.7 188.9,1876.0 189.9,1874.2 190.9,1872.5 191.9,1870.8 192.9,1869.2 193.9,1867.7 194.9,1866.4 195.9,1865.3 196.9,1864.4 197.9,1863.8 198.9,1863.7 199.9,1863.9 200.9,1864.5 201.9,1865.4 202.9,1866.6 203.9,1868.1 204.9,1869.9 205.9,1871.8 206.9,1873.9 207.9,1876.1 208.9,1878.4 209.9,1880.8 210.9,1883.1 211.9,1885.3 212.9,1887.5 213.9,1889.4 214.9,1891.2 215.9,1892.7 216.9,1893.9 217.9,1894.8 218.9,1895.5 219.9,1895.8 220.9,1896.0 221.9,1896.0 222.9,1896.0 223.9,1896.0 224.9,1896.0 225.9,1896.0 226.9,1896.0 227.9,1896.0 228.9,1896.0 229.9,1896.0 230.9,1896.0 231.9,1896.0 232.9,1896.0 233.9,1896.0 234.9,1896.0 235.9,1896.0 236.9,1896.0 237.9,1896.0 238.9,1896.0 239.9,1896.0 240.9,1896.0 241.9,1896.0 242.9,1896.0 243.9,1896.0 244.9,1896.0 245.9,1896.0 246.9,1896.0 247.9,1896.0 248.9,1896.0 249.9,1896.0 250.9,1896.0 251.9,1896.0 252.9,1896.0 253.9,1896.0 254.9,1896.0 255.9,1896.0 256.9,1896.0 257.9,1896.0 258.9,1896.0 259.9,1896.0 260.9,1896.0 261.9,1896.0 262.9,1896.0 263.9,1896.0 264.9,1896.0 265.9,1896.0 266.9,1896.0 267.9,1896.0 268.9,1896.0 269.9,1896.0 270.9,1896.0 271.9,1896.0 272.9,1896.0 273.9,1896.0 274.9,1896.0 275.9,1896.0 276.9,1896.0 277.9,1896.0 278.9,1896.0 279.9,1896.0 280.9,1896.0 281.9,1896.0 282.9,1896.0 283.9,1896.0 284.9,1896.0 285.9,1896.0 286.9,1896.0 287.9,1896.0 288.9,1896.0 289.9,1896.0 290.9,1896.0 291.9,1896.0 292.9,1896.0 293.9,1896.0 294.9,1896.0 295.9,1896.0 296.9,1896.0" fill="none" stroke="#222" stroke-width="1.0"/>
<polygon points="106.1,1897.0 106.6,1896.4 107.1,1894.8 107.6,1892.0 108.1,1888.2 108.6,1883.3 109.1,1877.5 109.6,1870.8 110.1,1863.2 110.6,1854.9 111.1,1845.9 111.6,1836.3 112.1,1826.3 112.6,1815.9 113.1,1805.2 113.6,1794.5 114.1,1783.6 114.6,1772.9 115.1,1762.4 115.6,1752.2 116.1,1742.5 116.6,1733.3 117.1,1724.7 117.6,1716.8 118.1,1709.8 118.6,1703.6 119.1,1698.3 119.6,1694.1 120.1,1691.0 120.6,1688.9 121.1,1687.9 121.6,1688.0 122.1,1689.3 122.6,1691.7 123.1,1695.1 123.6,1699.7 124.1,1705.2 124.6,1711.7 125.1,1719.0 125.6,1727.1 126.1,1736.0 126.6,1745.5 127.1,1755.4 127.6,1765.8 128.1,1776.4 128.6,1787.3 129.1,1798.1 129.6,1809.0 130.1,1819.6 130.6,1830.0 131.1,1839.9 131.6,1849.3 132.1,1858.1 132.6,1866.2 133.1,1873.5 133.6,1879.9 134.1,1885.4 134.6,1889.9 135.1,1893.3 135.6,1895.6 136.1,1896.8 136.1,1897.0 106.1,1897.0" fill="#f20000" stroke="#000" stroke-width="1.2" stroke-linejoin="round"/>
<polygon points="179.8,1897.0 180.8,1896.9 181.8,1896.4 182.8,1895.8 183.8,1894.8 184.8,1893.7 185.8,1892.3 186.8,1890.8 187.8,1889.2 188.8,1887.5 189.8,1885.7 190.8,1883.9 191.8,1882.2 192.8,1880.6 193.8,1879.1 194.8,1877.7 195.8,1876.6 196.8,1875.7 197.8,1875.0 198.8,1874.6 199.8,1874.5 200.8,1874.6 201.8,1875.0 202.8,1875.6 203.8,1876.4 204.8,1877.5 205.8,1878.7 206.8,1880.0 207.8,1881.5 208.8,1883.1 209.8,1884.7 210.8,1886.4 211.8,1888.0 212.8,1889.6 213.8,1891.1 214.8,1892.5 215.8,1893.8 216.8,1894.8 217.8,1895.7 218.8,1896.4 219.8,1896.8 220.8,1897.0 220.8,1897.0 179.8,1897.0" fill="#f20000" stroke="#000" stroke-width="1.2" stroke-linejoin="round"/>
<polyline points="117.9,1896.9 118.9,1896.4 119.9,1895.3 120.9,1893.7 121.9,1891.9 122.9,1889.9 123.9,1887.8 124.9,1885.7 125.9,1883.8 126.9,1882.2 127.9,1880.9 128.9,1880.2 129.9,1880.0 130.9,1880.0 131.9,1880.0 132.9,1880.0 133.9,1880.0 134.9,1880.0 135.9,1880.0 136.9,1880.0 137.9,1880.0 138.9,1880.0 139.9,1880.0 140.9,1880.0 141.9,1880.0 142.9,1880.0 143.9,1880.0 144.9,1880.0 145.9,1880.0 146.9,1880.0 147.9,1880.0 148.9,1880.0 149.9,1880.0 150.9,1880.0 151.9,1880.0 152.9,1880.0 153.9,1880.0 154.9,1880.0 155.9,1880.0 156.9,1880.0 157.9,1880.0 158.9,1880.0 159.9,1880.0 160.9,1880.0 161.9,1880.0 162.9,1880.0 163.9,1880.0 164.9,1880.0 165.9,1880.0 166.9,1880.0 167.9,1880.0 168.9,1880.0 169.9,1880.0 170.9,1880.0 171.9,1880.0 172.9,1880.0 173.9,1880.0 174.9,1880.0 175.9,1880.0 176.9,1880.0 177.9,1880.0 178.9,1880.0 179.9,1880.0 180.9,1880.0 181.9,1880.0 182.9,1880.0 183.9,1880.0 184.9,1880.0 185.9,1880.0 186.9,1880.0 187.9,1880.0 188.9,1880.0 189.9,1880.0 190.9,1880.0 191.9,1880.0 192.9,1880.0 193.9,1880.0 194.9,1880.0 195.9,1880.0 196.9,1880.0 197.9,1880.2 198.9,1880.5 199.9,1881.0 200.9,1881.7 201.9,1882.6 202.9,1883.5 203.9,1884.6 204.9,1885.7 205.9,1886.9 206.9,1888.1 207.9,1889.3 208.9,1890.5 209.9,1891.6 210.9,1892.7 211.9,1893.7 212.9,1894.7 213.9,1895.5 214.9,1896.1 215.9,1896.6 216.9,1896.9" fill="none" stroke="#500" stroke-width="1.0" opacity="0.85"/>
<line x1="36.9" y1="1657.0" x2="36.9" y2="1897.0" stroke="#333" stroke-width="1.3"/>
<line x1="32.9" y1="1897.0" x2="297.2" y2="1897.0" stroke="#111" stroke-width="1.8"/>
<line x1="36.9" y1="1897.0" x2="36.9" y2="1904.0" stroke="#333" stroke-width="1.1"/>
<text x="36.9" y="1916.0" font-size="8.5" fill="#999" text-anchor="middle">0</text>
<line x1="49.9" y1="1897.0" x2="49.9" y2="1901.0" stroke="#444" stroke-width="1"/>
<line x1="62.9" y1="1897.0" x2="62.9" y2="1901.0" stroke="#444" stroke-width="1"/>
<line x1="75.9" y1="1897.0" x2="75.9" y2="1901.0" stroke="#444" stroke-width="1"/>
<line x1="89.0" y1="1897.0" x2="89.0" y2="1904.0" stroke="#333" stroke-width="1.1"/>
<text x="89.0" y="1916.0" font-size="8.5" fill="#999" text-anchor="middle">30</text>
<line x1="102.0" y1="1897.0" x2="102.0" y2="1901.0" stroke="#444" stroke-width="1"/>
<line x1="115.0" y1="1897.0" x2="115.0" y2="1901.0" stroke="#444" stroke-width="1"/>
<line x1="128.0" y1="1897.0" x2="128.0" y2="1901.0" stroke="#444" stroke-width="1"/>
<line x1="141.0" y1="1897.0" x2="141.0" y2="1904.0" stroke="#333" stroke-width="1.1"/>
<text x="141.0" y="1916.0" font-size="8.5" fill="#999" text-anchor="middle">60</text>
<line x1="154.0" y1="1897.0" x2="154.0" y2="1901.0" stroke="#444" stroke-width="1"/>
<line x1="167.1" y1="1897.0" x2="167.1" y2="1901.0" stroke="#444" stroke-width="1"/>
<line x1="180.1" y1="1897.0" x2="180.1" y2="1901.0" stroke="#444" stroke-width="1"/>
<line x1="193.1" y1="1897.0" x2="193.1" y2="1904.0" stroke="#333" stroke-width="1.1"/>
<text x="193.1" y="1916.0" font-size="8.5" fill="#999" text-anchor="middle">90</text>
<line x1="206.1" y1="1897.0" x2="206.1" y2="1901.0" stroke="#444" stroke-width="1"/>
<line x1="219.1" y1="1897.0" x2="219.1" y2="1901.0" stroke="#444" stroke-width="1"/>
<line x1="232.1" y1="1897.0" x2="232.1" y2="1901.0" stroke="#444" stroke-width="1"/>
<line x1="245.1" y1="1897.0" x2="245.1" y2="1904.0" stroke="#333" stroke-width="1.1"/>
<text x="245.1" y="1916.0" font-size="8.5" fill="#999" text-anchor="middle">120</text>
<line x1="258.2" y1="1897.0" x2="258.2" y2="1901.0" stroke="#444" stroke-width="1"/>
<line x1="271.2" y1="1897.0" x2="271.2" y2="1901.0" stroke="#444" stroke-width="1"/>
<line x1="284.2" y1="1897.0" x2="284.2" y2="1901.0" stroke="#444" stroke-width="1"/>
<line x1="297.2" y1="1897.0" x2="297.2" y2="1904.0" stroke="#333" stroke-width="1.1"/>
<text x="297.2" y="1916.0" font-size="8.5" fill="#999" text-anchor="middle">150</text>
<text x="167.0" y="1925.0" font-size="8.5" fill="#999" text-anchor="middle">Channels (FL2-A)</text>
<line x1="28.9" y1="1897.0" x2="36.9" y2="1897.0" stroke="#444" stroke-width="1"/>
<text transform="translate(24.9,1897.0) rotate(-90)" font-size="8" fill="#999" text-anchor="middle">0</text>
<line x1="28.9" y1="1842.0" x2="36.9" y2="1842.0" stroke="#444" stroke-width="1"/>
<text transform="translate(24.9,1842.0) rotate(-90)" font-size="8" fill="#999" text-anchor="middle">200</text>
<line x1="28.9" y1="1787.0" x2="36.9" y2="1787.0" stroke="#444" stroke-width="1"/>
<text transform="translate(24.9,1787.0) rotate(-90)" font-size="8" fill="#999" text-anchor="middle">400</text>
<line x1="28.9" y1="1732.0" x2="36.9" y2="1732.0" stroke="#444" stroke-width="1"/>
<text transform="translate(24.9,1732.0) rotate(-90)" font-size="8" fill="#999" text-anchor="middle">600</text>
<line x1="28.9" y1="1677.0" x2="36.9" y2="1677.0" stroke="#444" stroke-width="1"/>
<text transform="translate(24.9,1677.0) rotate(-90)" font-size="8" fill="#999" text-anchor="middle">800</text>
<line x1="32.9" y1="1897.0" x2="36.9" y2="1897.0" stroke="#555" stroke-width="0.9"/>
<line x1="32.9" y1="1886.0" x2="36.9" y2="1886.0" stroke="#555" stroke-width="0.9"/>
<line x1="32.9" y1="1875.0" x2="36.9" y2="1875.0" stroke="#555" stroke-width="0.9"/>
<line x1="32.9" y1="1864.0" x2="36.9" y2="1864.0" stroke="#555" stroke-width="0.9"/>
<line x1="32.9" y1="1853.0" x2="36.9" y2="1853.0" stroke="#555" stroke-width="0.9"/>
<line x1="32.9" y1="1842.0" x2="36.9" y2="1842.0" stroke="#555" stroke-width="0.9"/>
<line x1="32.9" y1="1831.0" x2="36.9" y2="1831.0" stroke="#555" stroke-width="0.9"/>
<line x1="32.9" y1="1820.0" x2="36.9" y2="1820.0" stroke="#555" stroke-width="0.9"/>
<line x1="32.9" y1="1809.0" x2="36.9" y2="1809.0" stroke="#555" stroke-width="0.9"/>
<line x1="32.9" y1="1798.0" x2="36.9" y2="1798.0" stroke="#555" stroke-width="0.9"/>
<line x1="32.9" y1="1787.0" x2="36.9" y2="1787.0" stroke="#555" stroke-width="0.9"/>
<line x1="32.9" y1="1776.0" x2="36.9" y2="1776.0" stroke="#555" stroke-width="0.9"/>
<line x1="32.9" y1="1765.0" x2="36.9" y2="1765.0" stroke="#555" stroke-width="0.9"/>
<line x1="32.9" y1="1754.0" x2="36.9" y2="1754.0" stroke="#555" stroke-width="0.9"/>
<line x1="32.9" y1="1743.0" x2="36.9" y2="1743.0" stroke="#555" stroke-width="0.9"/>
<line x1="32.9" y1="1732.0" x2="36.9" y2="1732.0" stroke="#555" stroke-width="0.9"/>
<line x1="32.9" y1="1721.0" x2="36.9" y2="1721.0" stroke="#555" stroke-width="0.9"/>
<line x1="32.9" y1="1710.0" x2="36.9" y2="1710.0" stroke="#555" stroke-width="0.9"/>
<line x1="32.9" y1="1699.0" x2="36.9" y2="1699.0" stroke="#555" stroke-width="0.9"/>
<line x1="32.9" y1="1688.0" x2="36.9" y2="1688.0" stroke="#555" stroke-width="0.9"/>
<line x1="32.9" y1="1677.0" x2="36.9" y2="1677.0" stroke="#555" stroke-width="0.9"/>
<line x1="32.9" y1="1666.0" x2="36.9" y2="1666.0" stroke="#555" stroke-width="0.9"/>
<text transform="translate(14.9,1787.0) rotate(-90)" font-size="8.5" fill="#888" text-anchor="middle">Number</text>
<polygon points="115.9,1905.0 124.9,1905.0 120.4,1898.0" fill="#000"/>
<polygon points="188.5,1905.0 197.5,1905.0 193.0,1898.0" fill="#000"/>
<polygon points="423.8,1901.1 423.9,1901.1 424.9,1901.0 425.9,1900.7 426.9,1900.2 427.9,1899.6 428.9,1898.9 429.9,1898.2 430.9,1897.3 431.9,1896.5 432.9,1895.6 433.9,1894.7 434.9,1893.9 435.9,1893.1 436.9,1892.5 437.9,1891.9 438.9,1891.5 439.9,1891.2 440.9,1891.1 441.9,1891.1 442.9,1891.1 443.9,1891.1 444.9,1891.1 445.9,1891.1 446.9,1891.1 447.9,1891.1 448.9,1891.1 449.9,1891.1 450.9,1891.1 451.9,1891.1 452.9,1891.1 453.9,1891.1 454.9,1891.1 455.9,1891.1 456.9,1891.1 457.9,1891.1 458.9,1891.1 459.9,1891.1 460.9,1891.1 461.9,1891.1 462.9,1891.1 463.9,1891.1 464.9,1891.1 465.9,1891.1 466.9,1891.1 467.9,1891.1 468.9,1891.1 469.9,1891.1 470.9,1891.1 471.9,1891.1 472.9,1891.1 473.9,1891.1 474.9,1891.1 475.9,1891.1 476.9,1891.1 477.9,1891.1 478.9,1891.1 479.9,1891.1 480.9,1891.1 481.9,1891.1 482.9,1891.1 483.9,1891.1 484.9,1891.1 485.9,1891.1 486.9,1891.1 487.9,1891.1 488.9,1891.1 489.9,1891.1 490.9,1891.1 491.9,1891.1 492.9,1891.1 493.9,1891.1 494.9,1891.1 495.9,1891.1 496.9,1891.1 497.9,1891.1 498.9,1891.1 499.9,1891.1 500.9,1891.1 501.9,1891.1 502.9,1891.1 503.9,1891.1 504.9,1891.2 505.9,1891.3 506.9,1891.5 507.9,1891.7 508.9,1892.0 509.9,1892.4 510.9,1892.8 511.9,1893.2 512.9,1893.7 513.9,1894.2 514.9,1894.7 515.9,1895.2 516.9,1895.7 517.9,1896.3 518.9,1896.8 519.9,1897.3 520.9,1897.9 521.9,1898.4 522.9,1898.8 523.9,1899.3 524.9,1899.7 525.9,1900.1 526.9,1900.4 527.9,1900.6 528.9,1900.9 529.9,1901.0 530.9,1901.1 531.5,1901.1" fill="url(#shatch)"/>
<polyline points="346.9,1899.8 347.9,1899.9 348.9,1899.9 349.9,1899.9 350.9,1899.9 351.9,1899.9 352.9,1899.9 353.9,1900.0 354.9,1899.9 355.9,1900.0 356.9,1899.9 357.9,1900.1 358.9,1900.0 359.9,1900.1 360.9,1899.9 361.9,1899.8 362.9,1899.9 363.9,1900.0 364.9,1899.9 365.9,1899.9 366.9,1899.9 367.9,1900.0 368.9,1900.0 369.9,1900.0 370.9,1900.0 371.9,1900.0 372.9,1899.9 373.9,1899.8 374.9,1900.1 375.9,1899.9 376.9,1900.1 377.9,1900.0 378.9,1899.9 379.9,1899.9 380.9,1899.8 381.9,1900.0 382.9,1900.1 383.9,1900.0 384.9,1899.9 385.9,1899.8 386.9,1899.8 387.9,1900.0 388.9,1900.0 389.9,1900.1 390.9,1899.9 391.9,1900.0 392.9,1900.0 393.9,1900.1 394.9,1900.1 395.9,1899.9 396.9,1900.0 397.9,1899.8 398.9,1900.1 399.9,1899.9 400.9,1900.0 401.9,1900.1 402.9,1899.9 403.9,1900.0 404.9,1899.9 405.9,1900.0 406.9,1900.1 407.9,1899.9 408.9,1896.2 409.9,1892.2 410.9,1886.2 411.9,1878.7 412.9,1867.6 413.9,1855.3 414.9,1842.0 415.9,1826.4 416.9,1811.5 417.9,1794.2 418.9,1777.9 419.9,1762.4 420.9,1746.5 421.9,1730.6 422.9,1716.5 423.9,1705.0 424.9,1694.1 425.9,1684.7 426.9,1678.7 427.9,1667.5 428.9,1659.0 429.9,1663.4 430.9,1674.7 431.9,1679.4 432.9,1686.7 433.9,1695.7 434.9,1707.5 435.9,1719.3 436.9,1734.0 437.9,1748.8 438.9,1764.8 439.9,1781.4 440.9,1797.8 441.9,1813.3 442.9,1828.5 443.9,1842.9 444.9,1856.0 445.9,1867.6 446.9,1877.2 447.9,1883.2 448.9,1888.5 449.9,1890.9 450.9,1891.9 451.9,1891.6 452.9,1891.1 453.9,1891.3 454.9,1891.6 455.9,1892.0 456.9,1891.8 457.9,1891.2 458.9,1891.9 459.9,1891.5 460.9,1891.6 461.9,1891.2 462.9,1891.3 463.9,1892.0 464.9,1892.4 465.9,1892.0 466.9,1891.8 467.9,1891.6 468.9,1891.3 469.9,1891.2 470.9,1892.3 471.9,1891.3 472.9,1891.3 473.9,1891.2 474.9,1891.6 475.9,1892.0 476.9,1891.3 477.9,1891.3 478.9,1891.5 479.9,1891.2 480.9,1891.8 481.9,1891.9 482.9,1891.0 483.9,1890.3 484.9,1890.6 485.9,1889.3 486.9,1888.4 487.9,1888.6 488.9,1887.4 489.9,1886.5 490.9,1885.9 491.9,1885.4 492.9,1884.5 493.9,1882.9 494.9,1882.0 495.9,1881.5 496.9,1881.2 497.9,1879.4 498.9,1878.7 499.9,1878.6 500.9,1877.5 501.9,1876.5 502.9,1876.0 503.9,1876.1 504.9,1875.8 505.9,1875.5 506.9,1876.0 507.9,1876.1 508.9,1876.3 509.9,1876.0 510.9,1876.9 511.9,1877.3 512.9,1878.2 513.9,1878.9 514.9,1880.3 515.9,1881.5 516.9,1881.3 517.9,1883.3 518.9,1884.8 519.9,1885.4 520.9,1886.4 521.9,1888.5 522.9,1889.1 523.9,1890.6 524.9,1891.6 525.9,1893.3 526.9,1894.3 527.9,1894.0 528.9,1894.9 529.9,1896.1 530.9,1896.6 531.9,1897.4 532.9,1899.5 533.9,1899.8 534.9,1899.8 535.9,1899.9 536.9,1899.9 537.9,1899.8 538.9,1900.0 539.9,1900.1 540.9,1900.0 541.9,1900.0 542.9,1900.1 543.9,1900.1 544.9,1899.9 545.9,1899.9 546.9,1900.0 547.9,1899.8 548.9,1899.8 549.9,1900.1 550.9,1899.9 551.9,1900.0 552.9,1900.0 553.9,1899.8 554.9,1900.0 555.9,1899.9 556.9,1899.9 557.9,1899.8 558.9,1899.9 559.9,1900.0 560.9,1900.0 561.9,1900.0 562.9,1899.8 563.9,1899.8 564.9,1900.0 565.9,1900.1 566.9,1900.0 567.9,1900.0 568.9,1899.8 569.9,1899.8 570.9,1899.9 571.9,1900.1 572.9,1899.9 573.9,1899.9 574.9,1899.9 575.9,1899.8 576.9,1900.1 577.9,1900.0 578.9,1899.9 579.9,1899.8 580.9,1899.9 581.9,1900.0 582.9,1899.9 583.9,1899.9 584.9,1900.1 585.9,1900.0 586.9,1900.0 587.9,1900.0 588.9,1900.0 589.9,1900.0 590.9,1900.0 591.9,1900.0 592.9,1899.9 593.9,1900.1 594.9,1899.9 595.9,1900.0 596.9,1900.1 597.9,1899.8 598.9,1900.0 599.9,1899.8 600.9,1899.9 601.9,1899.8 602.9,1900.0 603.9,1900.0 604.9,1900.1 605.9,1899.8" fill="none" stroke="#111" stroke-width="1.1"/>
<polyline points="346.9,1900.1 347.9,1900.1 348.9,1900.1 349.9,1900.1 350.9,1900.1 351.9,1900.1 352.9,1900.1 353.9,1900.1 354.9,1900.1 355.9,1900.1 356.9,1900.1 357.9,1900.1 358.9,1900.1 359.9,1900.1 360.9,1900.1 361.9,1900.1 362.9,1900.1 363.9,1900.1 364.9,1900.1 365.9,1900.1 366.9,1900.1 367.9,1900.1 368.9,1900.1 369.9,1900.1 370.9,1900.1 371.9,1900.1 372.9,1900.1 373.9,1900.1 374.9,1900.1 375.9,1900.1 376.9,1900.1 377.9,1900.1 378.9,1900.1 379.9,1900.1 380.9,1900.1 381.9,1900.1 382.9,1900.1 383.9,1900.1 384.9,1900.1 385.9,1900.1 386.9,1900.1 387.9,1900.1 388.9,1900.1 389.9,1900.1 390.9,1900.1 391.9,1900.1 392.9,1900.1 393.9,1900.1 394.9,1900.1 395.9,1900.1 396.9,1900.1 397.9,1900.1 398.9,1900.1 399.9,1900.1 400.9,1900.1 401.9,1900.1 402.9,1900.1 403.9,1900.1 404.9,1900.1 405.9,1900.1 406.9,1900.1 407.9,1900.1 408.9,1898.7 409.9,1895.0 410.9,1889.0 411.9,1880.8 412.9,1870.6 413.9,1858.7 414.9,1845.3 415.9,1830.7 416.9,1815.1 417.9,1799.1 418.9,1782.8 419.9,1766.7 420.9,1751.1 421.9,1736.3 422.9,1722.7 423.9,1710.6 424.9,1700.1 425.9,1691.4 426.9,1684.8 427.9,1680.4 428.9,1678.4 429.9,1678.6 430.9,1681.2 431.9,1686.0 432.9,1693.1 433.9,1702.1 434.9,1713.0 435.9,1725.5 436.9,1739.3 437.9,1754.2 438.9,1769.8 439.9,1785.8 440.9,1801.9 441.9,1817.6 442.9,1832.6 443.9,1846.6 444.9,1859.2 445.9,1870.2 446.9,1879.3 447.9,1886.4 448.9,1891.2 449.9,1893.7 450.9,1894.1 451.9,1894.1 452.9,1894.1 453.9,1894.1 454.9,1894.1 455.9,1894.1 456.9,1894.1 457.9,1894.1 458.9,1894.1 459.9,1894.1 460.9,1894.1 461.9,1894.1 462.9,1894.1 463.9,1894.1 464.9,1894.1 465.9,1894.1 466.9,1894.1 467.9,1894.1 468.9,1894.1 469.9,1894.1 470.9,1894.1 471.9,1894.1 472.9,1894.1 473.9,1894.1 474.9,1894.1 475.9,1894.1 476.9,1894.1 477.9,1894.1 478.9,1894.1 479.9,1894.1 480.9,1894.0 481.9,1893.8 482.9,1893.5 483.9,1893.1 484.9,1892.6 485.9,1892.1 486.9,1891.4 487.9,1890.8 488.9,1890.0 489.9,1889.2 490.9,1888.4 491.9,1887.5 492.9,1886.7 493.9,1885.8 494.9,1884.9 495.9,1884.1 496.9,1883.2 497.9,1882.4 498.9,1881.7 499.9,1880.9 500.9,1880.3 501.9,1879.7 502.9,1879.2 503.9,1878.8 504.9,1878.5 505.9,1878.3 506.9,1878.3 507.9,1878.4 508.9,1878.6 509.9,1879.0 510.9,1879.4 511.9,1880.0 512.9,1880.8 513.9,1881.6 514.9,1882.5 515.9,1883.5 516.9,1884.6 517.9,1885.7 518.9,1886.9 519.9,1888.1 520.9,1889.3 521.9,1890.5 522.9,1891.7 523.9,1892.9 524.9,1894.0 525.9,1895.0 526.9,1896.0 527.9,1896.9 528.9,1897.7 529.9,1898.4 530.9,1899.0 531.9,1899.4 532.9,1899.7 533.9,1899.9 534.9,1900.1 535.9,1900.1 536.9,1900.1 537.9,1900.1 538.9,1900.1 539.9,1900.1 540.9,1900.1 541.9,1900.1 542.9,1900.1 543.9,1900.1 544.9,1900.1 545.9,1900.1 546.9,1900.1 547.9,1900.1 548.9,1900.1 549.9,1900.1 550.9,1900.1 551.9,1900.1 552.9,1900.1 553.9,1900.1 554.9,1900.1 555.9,1900.1 556.9,1900.1 557.9,1900.1 558.9,1900.1 559.9,1900.1 560.9,1900.1 561.9,1900.1 562.9,1900.1 563.9,1900.1 564.9,1900.1 565.9,1900.1 566.9,1900.1 567.9,1900.1 568.9,1900.1 569.9,1900.1 570.9,1900.1 571.9,1900.1 572.9,1900.1 573.9,1900.1 574.9,1900.1 575.9,1900.1 576.9,1900.1 577.9,1900.1 578.9,1900.1 579.9,1900.1 580.9,1900.1 581.9,1900.1 582.9,1900.1 583.9,1900.1 584.9,1900.1 585.9,1900.1 586.9,1900.1 587.9,1900.1 588.9,1900.1 589.9,1900.1 590.9,1900.1 591.9,1900.1 592.9,1900.1 593.9,1900.1 594.9,1900.1 595.9,1900.1 596.9,1900.1 597.9,1900.1 598.9,1900.1 599.9,1900.1 600.9,1900.1 601.9,1900.1 602.9,1900.1 603.9,1900.1 604.9,1900.1 605.9,1900.1" fill="none" stroke="#222" stroke-width="1.0"/>
<polygon points="407.8,1901.1 408.3,1900.8 408.8,1899.9 409.3,1898.4 409.8,1896.3 410.3,1893.7 410.8,1890.4 411.3,1886.7 411.8,1882.4 412.3,1877.6 412.8,1872.4 413.3,1866.7 413.8,1860.6 414.3,1854.1 414.8,1847.2 415.3,1840.1 415.8,1832.7 416.3,1825.0 416.8,1817.2 417.3,1809.2 417.8,1801.1 418.3,1793.0 418.8,1784.9 419.3,1776.8 419.8,1768.7 420.3,1760.8 420.8,1753.1 421.3,1745.5 421.8,1738.2 422.3,1731.2 422.8,1724.6 423.3,1718.2 423.8,1712.3 424.3,1706.8 424.8,1701.8 425.3,1697.2 425.8,1693.2 426.3,1689.7 426.8,1686.7 427.3,1684.3 427.8,1682.5 428.3,1681.3 428.8,1680.7 429.3,1680.7 429.8,1681.2 430.3,1682.4 430.8,1684.2 431.3,1686.5 431.8,1689.4 432.3,1692.8 432.8,1696.8 433.3,1701.3 433.8,1706.3 434.3,1711.7 434.8,1717.5 435.3,1723.8 435.8,1730.4 436.3,1737.3 436.8,1744.5 437.3,1752.0 437.8,1759.7 438.3,1767.6 438.8,1775.5 439.3,1783.6 439.8,1791.7 440.3,1799.8 440.8,1807.8 441.3,1815.8 441.8,1823.6 442.3,1831.3 442.8,1838.7 443.3,1845.9 443.8,1852.7 444.3,1859.3 444.8,1865.4 445.3,1871.2 445.8,1876.5 446.3,1881.4 446.8,1885.8 447.3,1889.6 447.8,1893.0 448.3,1895.7 448.8,1897.9 449.3,1899.6 449.8,1900.6 450.3,1901.1 450.3,1901.1 407.8,1901.1" fill="#f20000" stroke="#000" stroke-width="1.2" stroke-linejoin="round"/>
<polygon points="479.2,1901.1 480.2,1901.1 481.2,1900.9 482.2,1900.7 483.2,1900.3 484.2,1899.9 485.2,1899.4 486.2,1898.9 487.2,1898.2 488.2,1897.5 489.2,1896.8 490.2,1896.0 491.2,1895.1 492.2,1894.3 493.2,1893.4 494.2,1892.5 495.2,1891.6 496.2,1890.8 497.2,1890.0 498.2,1889.2 499.2,1888.4 500.2,1887.7 501.2,1887.1 502.2,1886.5 503.2,1886.1 504.2,1885.7 505.2,1885.4 506.2,1885.1 507.2,1885.0 508.2,1885.0 509.2,1885.1 510.2,1885.3 511.2,1885.5 512.2,1885.9 513.2,1886.4 514.2,1886.9 515.2,1887.6 516.2,1888.3 517.2,1889.0 518.2,1889.9 519.2,1890.7 520.2,1891.6 521.2,1892.5 522.2,1893.4 523.2,1894.3 524.2,1895.2 525.2,1896.1 526.2,1896.9 527.2,1897.7 528.2,1898.4 529.2,1899.1 530.2,1899.6 531.2,1900.1 532.2,1900.5 533.2,1900.8 534.2,1901.0 535.2,1901.1 535.2,1901.1 479.2,1901.1" fill="#f20000" stroke="#000" stroke-width="1.2" stroke-linejoin="round"/>
<polyline points="423.9,1901.1 424.9,1901.0 425.9,1900.7 426.9,1900.2 427.9,1899.6 428.9,1898.9 429.9,1898.2 430.9,1897.3 431.9,1896.5 432.9,1895.6 433.9,1894.7 434.9,1893.9 435.9,1893.1 436.9,1892.5 437.9,1891.9 438.9,1891.5 439.9,1891.2 440.9,1891.1 441.9,1891.1 442.9,1891.1 443.9,1891.1 444.9,1891.1 445.9,1891.1 446.9,1891.1 447.9,1891.1 448.9,1891.1 449.9,1891.1 450.9,1891.1 451.9,1891.1 452.9,1891.1 453.9,1891.1 454.9,1891.1 455.9,1891.1 456.9,1891.1 457.9,1891.1 458.9,1891.1 459.9,1891.1 460.9,1891.1 461.9,1891.1 462.9,1891.1 463.9,1891.1 464.9,1891.1 465.9,1891.1 466.9,1891.1 467.9,1891.1 468.9,1891.1 469.9,1891.1 470.9,1891.1 471.9,1891.1 472.9,1891.1 473.9,1891.1 474.9,1891.1 475.9,1891.1 476.9,1891.1 477.9,1891.1 478.9,1891.1 479.9,1891.1 480.9,1891.1 481.9,1891.1 482.9,1891.1 483.9,1891.1 484.9,1891.1 485.9,1891.1 486.9,1891.1 487.9,1891.1 488.9,1891.1 489.9,1891.1 490.9,1891.1 491.9,1891.1 492.9,1891.1 493.9,1891.1 494.9,1891.1 495.9,1891.1 496.9,1891.1 497.9,1891.1 498.9,1891.1 499.9,1891.1 500.9,1891.1 501.9,1891.1 502.9,1891.1 503.9,1891.1 504.9,1891.2 505.9,1891.3 506.9,1891.5 507.9,1891.7 508.9,1892.0 509.9,1892.4 510.9,1892.8 511.9,1893.2 512.9,1893.7 513.9,1894.2 514.9,1894.7 515.9,1895.2 516.9,1895.7 517.9,1896.3 518.9,1896.8 519.9,1897.3 520.9,1897.9 521.9,1898.4 522.9,1898.8 523.9,1899.3 524.9,1899.7 525.9,1900.1 526.9,1900.4 527.9,1900.6 528.9,1900.9 529.9,1901.0 530.9,1901.1" fill="none" stroke="#500" stroke-width="1.0" opacity="0.85"/>
<line x1="346.9" y1="1657.7" x2="346.9" y2="1901.1" stroke="#333" stroke-width="1.3"/>
<line x1="342.9" y1="1901.1" x2="606.3" y2="1901.1" stroke="#111" stroke-width="1.8"/>
<line x1="346.9" y1="1901.1" x2="346.9" y2="1908.1" stroke="#333" stroke-width="1.1"/>
<text x="346.9" y="1920.1" font-size="8.5" fill="#999" text-anchor="middle">0</text>
<line x1="359.9" y1="1901.1" x2="359.9" y2="1905.1" stroke="#444" stroke-width="1"/>
<line x1="372.8" y1="1901.1" x2="372.8" y2="1905.1" stroke="#444" stroke-width="1"/>
<line x1="385.8" y1="1901.1" x2="385.8" y2="1905.1" stroke="#444" stroke-width="1"/>
<line x1="398.8" y1="1901.1" x2="398.8" y2="1908.1" stroke="#333" stroke-width="1.1"/>
<text x="398.8" y="1920.1" font-size="8.5" fill="#999" text-anchor="middle">30</text>
<line x1="411.8" y1="1901.1" x2="411.8" y2="1905.1" stroke="#444" stroke-width="1"/>
<line x1="424.7" y1="1901.1" x2="424.7" y2="1905.1" stroke="#444" stroke-width="1"/>
<line x1="437.7" y1="1901.1" x2="437.7" y2="1905.1" stroke="#444" stroke-width="1"/>
<line x1="450.7" y1="1901.1" x2="450.7" y2="1908.1" stroke="#333" stroke-width="1.1"/>
<text x="450.7" y="1920.1" font-size="8.5" fill="#999" text-anchor="middle">60</text>
<line x1="463.6" y1="1901.1" x2="463.6" y2="1905.1" stroke="#444" stroke-width="1"/>
<line x1="476.6" y1="1901.1" x2="476.6" y2="1905.1" stroke="#444" stroke-width="1"/>
<line x1="489.6" y1="1901.1" x2="489.6" y2="1905.1" stroke="#444" stroke-width="1"/>
<line x1="502.5" y1="1901.1" x2="502.5" y2="1908.1" stroke="#333" stroke-width="1.1"/>
<text x="502.5" y="1920.1" font-size="8.5" fill="#999" text-anchor="middle">90</text>
<line x1="515.5" y1="1901.1" x2="515.5" y2="1905.1" stroke="#444" stroke-width="1"/>
<line x1="528.5" y1="1901.1" x2="528.5" y2="1905.1" stroke="#444" stroke-width="1"/>
<line x1="541.4" y1="1901.1" x2="541.4" y2="1905.1" stroke="#444" stroke-width="1"/>
<line x1="554.4" y1="1901.1" x2="554.4" y2="1908.1" stroke="#333" stroke-width="1.1"/>
<text x="554.4" y="1920.1" font-size="8.5" fill="#999" text-anchor="middle">120</text>
<line x1="567.4" y1="1901.1" x2="567.4" y2="1905.1" stroke="#444" stroke-width="1"/>
<line x1="580.4" y1="1901.1" x2="580.4" y2="1905.1" stroke="#444" stroke-width="1"/>
<line x1="593.3" y1="1901.1" x2="593.3" y2="1905.1" stroke="#444" stroke-width="1"/>
<line x1="606.3" y1="1901.1" x2="606.3" y2="1908.1" stroke="#333" stroke-width="1.1"/>
<text x="606.3" y="1920.1" font-size="8.5" fill="#999" text-anchor="middle">150</text>
<text x="476.6" y="1929.1" font-size="8.5" fill="#999" text-anchor="middle">Channels (FL2-A)</text>
<line x1="338.9" y1="1901.1" x2="346.9" y2="1901.1" stroke="#444" stroke-width="1"/>
<text transform="translate(334.9,1901.1) rotate(-90)" font-size="8" fill="#999" text-anchor="middle">0</text>
<line x1="338.9" y1="1838.4" x2="346.9" y2="1838.4" stroke="#444" stroke-width="1"/>
<text transform="translate(334.9,1838.4) rotate(-90)" font-size="8" fill="#999" text-anchor="middle">200</text>
<line x1="338.9" y1="1775.7" x2="346.9" y2="1775.7" stroke="#444" stroke-width="1"/>
<text transform="translate(334.9,1775.7) rotate(-90)" font-size="8" fill="#999" text-anchor="middle">400</text>
<line x1="338.9" y1="1713.0" x2="346.9" y2="1713.0" stroke="#444" stroke-width="1"/>
<text transform="translate(334.9,1713.0) rotate(-90)" font-size="8" fill="#999" text-anchor="middle">600</text>
<line x1="342.9" y1="1901.1" x2="346.9" y2="1901.1" stroke="#555" stroke-width="0.9"/>
<line x1="342.9" y1="1888.6" x2="346.9" y2="1888.6" stroke="#555" stroke-width="0.9"/>
<line x1="342.9" y1="1876.0" x2="346.9" y2="1876.0" stroke="#555" stroke-width="0.9"/>
<line x1="342.9" y1="1863.5" x2="346.9" y2="1863.5" stroke="#555" stroke-width="0.9"/>
<line x1="342.9" y1="1850.9" x2="346.9" y2="1850.9" stroke="#555" stroke-width="0.9"/>
<line x1="342.9" y1="1838.4" x2="346.9" y2="1838.4" stroke="#555" stroke-width="0.9"/>
<line x1="342.9" y1="1825.9" x2="346.9" y2="1825.9" stroke="#555" stroke-width="0.9"/>
<line x1="342.9" y1="1813.3" x2="346.9" y2="1813.3" stroke="#555" stroke-width="0.9"/>
<line x1="342.9" y1="1800.8" x2="346.9" y2="1800.8" stroke="#555" stroke-width="0.9"/>
<line x1="342.9" y1="1788.2" x2="346.9" y2="1788.2" stroke="#555" stroke-width="0.9"/>
<line x1="342.9" y1="1775.7" x2="346.9" y2="1775.7" stroke="#555" stroke-width="0.9"/>
<line x1="342.9" y1="1763.2" x2="346.9" y2="1763.2" stroke="#555" stroke-width="0.9"/>
<line x1="342.9" y1="1750.6" x2="346.9" y2="1750.6" stroke="#555" stroke-width="0.9"/>
<line x1="342.9" y1="1738.1" x2="346.9" y2="1738.1" stroke="#555" stroke-width="0.9"/>
<line x1="342.9" y1="1725.5" x2="346.9" y2="1725.5" stroke="#555" stroke-width="0.9"/>
<line x1="342.9" y1="1713.0" x2="346.9" y2="1713.0" stroke="#555" stroke-width="0.9"/>
<line x1="342.9" y1="1700.5" x2="346.9" y2="1700.5" stroke="#555" stroke-width="0.9"/>
<line x1="342.9" y1="1687.9" x2="346.9" y2="1687.9" stroke="#555" stroke-width="0.9"/>
<line x1="342.9" y1="1675.4" x2="346.9" y2="1675.4" stroke="#555" stroke-width="0.9"/>
<line x1="342.9" y1="1662.8" x2="346.9" y2="1662.8" stroke="#555" stroke-width="0.9"/>
<text transform="translate(324.9,1789.4) rotate(-90)" font-size="8.5" fill="#888" text-anchor="middle">Number</text>
<polygon points="423.5,1909.1 432.5,1909.1 428.0,1902.1" fill="#000"/>
<polygon points="501.5,1909.1 510.5,1909.1 506.0,1902.1" fill="#000"/>
<polygon points="748.6,1903.4 749.4,1903.3 750.4,1903.1 751.4,1902.6 752.4,1902.0 753.4,1901.2 754.4,1900.4 755.4,1899.5 756.4,1898.6 757.4,1897.7 758.4,1896.9 759.4,1896.1 760.4,1895.4 761.4,1894.9 762.4,1894.6 763.4,1894.4 764.4,1894.4 765.4,1894.4 766.4,1894.4 767.4,1894.4 768.4,1894.4 769.4,1894.4 770.4,1894.4 771.4,1894.4 772.4,1894.4 773.4,1894.4 774.4,1894.4 775.4,1894.4 776.4,1894.4 777.4,1894.4 778.4,1894.4 779.4,1894.4 780.4,1894.4 781.4,1894.4 782.4,1894.4 783.4,1894.4 784.4,1894.4 785.4,1894.4 786.4,1894.4 787.4,1894.4 788.4,1894.4 789.4,1894.4 790.4,1894.4 791.4,1894.4 792.4,1894.4 793.4,1894.4 794.4,1894.4 795.4,1894.4 796.4,1894.4 797.4,1894.4 798.4,1894.4 799.4,1894.4 800.4,1894.4 801.4,1894.4 802.4,1894.4 803.4,1894.4 804.4,1894.4 805.4,1894.4 806.4,1894.4 807.4,1894.4 808.4,1894.4 809.4,1894.4 810.4,1894.4 811.4,1894.4 812.4,1894.4 813.4,1894.4 814.4,1894.4 815.4,1894.4 816.4,1894.4 817.4,1894.4 818.4,1894.4 819.4,1894.4 820.4,1894.4 821.4,1894.4 822.4,1894.4 823.4,1894.4 824.4,1894.4 825.4,1894.4 826.4,1894.4 827.4,1894.4 828.4,1894.4 829.4,1894.4 830.4,1894.4 831.4,1894.4 832.4,1894.4 833.4,1894.4 834.4,1894.4 835.4,1894.5 836.4,1894.6 837.4,1894.8 838.4,1895.1 839.4,1895.3 840.4,1895.7 841.4,1896.0 842.4,1896.4 843.4,1896.9 844.4,1897.3 845.4,1897.8 846.4,1898.2 847.4,1898.7 848.4,1899.2 849.4,1899.7 850.4,1900.1 851.4,1900.6 852.4,1901.0 853.4,1901.5 854.4,1901.9 855.4,1902.2 856.4,1902.5 857.4,1902.8 858.4,1903.0 859.4,1903.2 860.4,1903.3 861.4,1903.4 861.8,1903.4" fill="url(#shatch)"/>
<polyline points="663.4,1902.2 664.4,1902.2 665.4,1902.3 666.4,1902.3 667.4,1902.2 668.4,1902.3 669.4,1902.2 670.4,1902.3 671.4,1902.3 672.4,1902.4 673.4,1902.2 674.4,1902.2 675.4,1902.3 676.4,1902.2 677.4,1902.3 678.4,1902.3 679.4,1902.3 680.4,1902.3 681.4,1902.2 682.4,1902.3 683.4,1902.3 684.4,1902.3 685.4,1902.3 686.4,1902.1 687.4,1902.4 688.4,1902.1 689.4,1902.4 690.4,1902.1 691.4,1902.2 692.4,1902.3 693.4,1902.3 694.4,1902.3 695.4,1902.3 696.4,1902.3 697.4,1902.3 698.4,1902.1 699.4,1902.1 700.4,1902.1 701.4,1902.4 702.4,1902.3 703.4,1902.1 704.4,1902.4 705.4,1902.2 706.4,1902.3 707.4,1902.1 708.4,1902.4 709.4,1902.2 710.4,1902.3 711.4,1902.3 712.4,1902.4 713.4,1902.2 714.4,1902.2 715.4,1902.3 716.4,1902.3 717.4,1902.1 718.4,1902.3 719.4,1902.2 720.4,1902.3 721.4,1902.3 722.4,1902.2 723.4,1902.2 724.4,1902.3 725.4,1902.4 726.4,1902.4 727.4,1902.2 728.4,1902.3 729.4,1902.3 730.4,1902.3 731.4,1902.2 732.4,1902.2 733.4,1902.2 734.4,1898.8 735.4,1895.5 736.4,1889.6 737.4,1880.3 738.4,1870.2 739.4,1857.4 740.4,1844.4 741.4,1828.4 742.4,1813.2 743.4,1796.2 744.4,1779.8 745.4,1764.2 746.4,1749.5 747.4,1734.0 748.4,1721.8 749.4,1710.1 750.4,1701.6 751.4,1694.5 752.4,1682.4 753.4,1672.3 754.4,1676.2 755.4,1690.4 756.4,1696.6 757.4,1706.7 758.4,1717.9 759.4,1732.2 760.4,1748.1 761.4,1766.0 762.4,1783.4 763.4,1801.7 764.4,1819.8 765.4,1837.6 766.4,1852.8 767.4,1866.9 768.4,1877.7 769.4,1887.2 770.4,1891.7 771.4,1893.9 772.4,1894.6 773.4,1894.6 774.4,1894.6 775.4,1894.6 776.4,1895.2 777.4,1894.0 778.4,1895.0 779.4,1895.0 780.4,1895.1 781.4,1894.9 782.4,1894.2 783.4,1895.2 784.4,1895.1 785.4,1894.4 786.4,1895.0 787.4,1895.2 788.4,1894.5 789.4,1894.5 790.4,1894.6 791.4,1894.4 792.4,1895.1 793.4,1894.1 794.4,1894.3 795.4,1895.2 796.4,1895.1 797.4,1894.6 798.4,1894.6 799.4,1894.9 800.4,1895.1 801.4,1894.7 802.4,1895.1 803.4,1894.5 804.4,1894.2 805.4,1895.1 806.4,1894.5 807.4,1894.3 808.4,1895.1 809.4,1894.1 810.4,1893.8 811.4,1894.2 812.4,1893.8 813.4,1892.8 814.4,1892.6 815.4,1892.1 816.4,1890.7 817.4,1890.1 818.4,1889.8 819.4,1889.0 820.4,1887.9 821.4,1886.8 822.4,1885.0 823.4,1884.2 824.4,1883.0 825.4,1882.1 826.4,1881.1 827.4,1881.2 828.4,1879.7 829.4,1878.2 830.4,1877.5 831.4,1877.6 832.4,1876.8 833.4,1875.9 834.4,1875.8 835.4,1875.3 836.4,1875.7 837.4,1875.2 838.4,1875.2 839.4,1876.1 840.4,1876.4 841.4,1875.8 842.4,1876.8 843.4,1877.4 844.4,1878.7 845.4,1879.5 846.4,1880.6 847.4,1881.8 848.4,1884.2 849.4,1884.8 850.4,1886.6 851.4,1887.5 852.4,1889.4 853.4,1890.4 854.4,1891.3 855.4,1893.0 856.4,1894.7 857.4,1895.5 858.4,1896.6 859.4,1896.8 860.4,1898.5 861.4,1899.1 862.4,1899.2 863.4,1901.9 864.4,1902.1 865.4,1902.1 866.4,1902.2 867.4,1902.3 868.4,1902.3 869.4,1902.2 870.4,1902.3 871.4,1902.3 872.4,1902.3 873.4,1902.3 874.4,1902.3 875.4,1902.3 876.4,1902.3 877.4,1902.4 878.4,1902.2 879.4,1902.2 880.4,1902.2 881.4,1902.2 882.4,1902.2 883.4,1902.3 884.4,1902.2 885.4,1902.3 886.4,1902.2 887.4,1902.2 888.4,1902.3 889.4,1902.3 890.4,1902.3 891.4,1902.3 892.4,1902.2 893.4,1902.3 894.4,1902.2 895.4,1902.4 896.4,1902.3 897.4,1902.2 898.4,1902.3 899.4,1902.2 900.4,1902.3 901.4,1902.3 902.4,1902.1 903.4,1902.3 904.4,1902.2 905.4,1902.3 906.4,1902.4 907.4,1902.2 908.4,1902.3 909.4,1902.4 910.4,1902.3 911.4,1902.3 912.4,1902.2 913.4,1902.4 914.4,1902.3 915.4,1902.1" fill="none" stroke="#111" stroke-width="1.1"/>
<polyline points="663.4,1902.4 664.4,1902.4 665.4,1902.4 666.4,1902.4 667.4,1902.4 668.4,1902.4 669.4,1902.4 670.4,1902.4 671.4,1902.4 672.4,1902.4 673.4,1902.4 674.4,1902.4 675.4,1902.4 676.4,1902.4 677.4,1902.4 678.4,1902.4 679.4,1902.4 680.4,1902.4 681.4,1902.4 682.4,1902.4 683.4,1902.4 684.4,1902.4 685.4,1902.4 686.4,1902.4 687.4,1902.4 688.4,1902.4 689.4,1902.4 690.4,1902.4 691.4,1902.4 692.4,1902.4 693.4,1902.4 694.4,1902.4 695.4,1902.4 696.4,1902.4 697.4,1902.4 698.4,1902.4 699.4,1902.4 700.4,1902.4 701.4,1902.4 702.4,1902.4 703.4,1902.4 704.4,1902.4 705.4,1902.4 706.4,1902.4 707.4,1902.4 708.4,1902.4 709.4,1902.4 710.4,1902.4 711.4,1902.4 712.4,1902.4 713.4,1902.4 714.4,1902.4 715.4,1902.4 716.4,1902.4 717.4,1902.4 718.4,1902.4 719.4,1902.4 720.4,1902.4 721.4,1902.4 722.4,1902.4 723.4,1902.4 724.4,1902.4 725.4,1902.4 726.4,1902.4 727.4,1902.4 728.4,1902.4 729.4,1902.4 730.4,1902.4 731.4,1902.4 732.4,1902.4 733.4,1902.4 734.4,1901.2 735.4,1897.5 736.4,1891.5 737.4,1883.2 738.4,1872.9 739.4,1860.8 740.4,1847.2 741.4,1832.5 742.4,1816.9 743.4,1800.9 744.4,1784.9 745.4,1769.1 746.4,1754.1 747.4,1740.1 748.4,1727.5 749.4,1716.6 750.4,1707.5 751.4,1700.4 752.4,1695.6 753.4,1693.2 754.4,1693.4 755.4,1696.7 756.4,1703.0 757.4,1712.1 758.4,1723.8 759.4,1737.7 760.4,1753.4 761.4,1770.4 762.4,1788.2 763.4,1806.3 764.4,1824.1 765.4,1840.9 766.4,1856.3 767.4,1869.7 768.4,1880.8 769.4,1889.1 770.4,1894.6 771.4,1896.9 772.4,1897.0 773.4,1897.0 774.4,1897.0 775.4,1897.0 776.4,1897.0 777.4,1897.0 778.4,1897.0 779.4,1897.0 780.4,1897.0 781.4,1897.0 782.4,1897.0 783.4,1897.0 784.4,1897.0 785.4,1897.0 786.4,1897.0 787.4,1897.0 788.4,1897.0 789.4,1897.0 790.4,1897.0 791.4,1897.0 792.4,1897.0 793.4,1897.0 794.4,1897.0 795.4,1897.0 796.4,1897.0 797.4,1897.0 798.4,1897.0 799.4,1897.0 800.4,1897.0 801.4,1897.0 802.4,1897.0 803.4,1897.0 804.4,1897.0 805.4,1897.0 806.4,1897.0 807.4,1897.0 808.4,1897.0 809.4,1896.9 810.4,1896.8 811.4,1896.5 812.4,1896.1 813.4,1895.6 814.4,1895.1 815.4,1894.4 816.4,1893.7 817.4,1892.9 818.4,1892.0 819.4,1891.1 820.4,1890.2 821.4,1889.2 822.4,1888.2 823.4,1887.2 824.4,1886.2 825.4,1885.2 826.4,1884.2 827.4,1883.3 828.4,1882.4 829.4,1881.5 830.4,1880.7 831.4,1880.0 832.4,1879.4 833.4,1878.8 834.4,1878.4 835.4,1878.1 836.4,1877.9 837.4,1877.9 838.4,1878.0 839.4,1878.2 840.4,1878.6 841.4,1879.2 842.4,1879.9 843.4,1880.7 844.4,1881.6 845.4,1882.6 846.4,1883.7 847.4,1884.9 848.4,1886.2 849.4,1887.5 850.4,1888.9 851.4,1890.2 852.4,1891.6 853.4,1893.0 854.4,1894.3 855.4,1895.5 856.4,1896.7 857.4,1897.8 858.4,1898.8 859.4,1899.7 860.4,1900.5 861.4,1901.1 862.4,1901.6 863.4,1902.0 864.4,1902.3 865.4,1902.4 866.4,1902.4 867.4,1902.4 868.4,1902.4 869.4,1902.4 870.4,1902.4 871.4,1902.4 872.4,1902.4 873.4,1902.4 874.4,1902.4 875.4,1902.4 876.4,1902.4 877.4,1902.4 878.4,1902.4 879.4,1902.4 880.4,1902.4 881.4,1902.4 882.4,1902.4 883.4,1902.4 884.4,1902.4 885.4,1902.4 886.4,1902.4 887.4,1902.4 888.4,1902.4 889.4,1902.4 890.4,1902.4 891.4,1902.4 892.4,1902.4 893.4,1902.4 894.4,1902.4 895.4,1902.4 896.4,1902.4 897.4,1902.4 898.4,1902.4 899.4,1902.4 900.4,1902.4 901.4,1902.4 902.4,1902.4 903.4,1902.4 904.4,1902.4 905.4,1902.4 906.4,1902.4 907.4,1902.4 908.4,1902.4 909.4,1902.4 910.4,1902.4 911.4,1902.4 912.4,1902.4 913.4,1902.4 914.4,1902.4 915.4,1902.4" fill="none" stroke="#222" stroke-width="1.0"/>
<polygon points="733.4,1903.4 733.9,1903.1 734.4,1902.2 734.9,1900.6 735.4,1898.5 735.9,1895.7 736.4,1892.4 736.9,1888.5 737.4,1884.1 737.9,1879.2 738.4,1873.7 738.9,1867.9 739.4,1861.6 739.9,1855.0 740.4,1848.0 740.9,1840.8 741.4,1833.3 741.9,1825.6 742.4,1817.7 742.9,1809.7 743.4,1801.7 743.9,1793.7 744.4,1785.6 744.9,1777.7 745.4,1769.9 745.9,1762.3 746.4,1754.9 746.9,1747.7 747.4,1740.9 747.9,1734.4 748.4,1728.3 748.9,1722.7 749.4,1717.5 749.9,1712.8 750.4,1708.6 750.9,1704.9 751.4,1701.8 751.9,1699.4 752.4,1697.5 752.9,1696.2 753.4,1695.5 753.9,1695.5 754.4,1696.2 754.9,1697.7 755.4,1700.1 755.9,1703.1 756.4,1706.9 756.9,1711.5 757.4,1716.6 757.9,1722.5 758.4,1728.9 758.9,1735.8 759.4,1743.3 759.9,1751.2 760.4,1759.4 760.9,1768.0 761.4,1776.8 761.9,1785.7 762.4,1794.8 762.9,1803.9 763.4,1813.0 763.9,1821.9 764.4,1830.7 764.9,1839.3 765.4,1847.5 765.9,1855.4 766.4,1862.9 766.9,1869.8 767.4,1876.3 767.9,1882.1 768.4,1887.3 768.9,1891.8 769.4,1895.6 769.9,1898.7 770.4,1901.0 770.9,1902.6 771.4,1903.3 771.4,1903.4 733.4,1903.4" fill="#f20000" stroke="#000" stroke-width="1.2" stroke-linejoin="round"/>
<polygon points="808.3,1903.4 809.3,1903.3 810.3,1903.2 811.3,1902.9 812.3,1902.6 813.3,1902.1 814.3,1901.6 815.3,1900.9 816.3,1900.2 817.3,1899.4 818.3,1898.6 819.3,1897.7 820.3,1896.7 821.3,1895.7 822.3,1894.7 823.3,1893.7 824.3,1892.7 825.3,1891.7 826.3,1890.7 827.3,1889.8 828.3,1888.9 829.3,1888.0 830.3,1887.2 831.3,1886.5 832.3,1885.9 833.3,1885.3 834.3,1884.8 835.3,1884.5 836.3,1884.2 837.3,1884.1 838.3,1884.0 839.3,1884.1 840.3,1884.2 841.3,1884.5 842.3,1885.0 843.3,1885.5 844.3,1886.2 845.3,1886.9 846.3,1887.7 847.3,1888.6 848.3,1889.6 849.3,1890.6 850.3,1891.7 851.3,1892.8 852.3,1893.9 853.3,1895.0 854.3,1896.1 855.3,1897.1 856.3,1898.1 857.3,1899.1 858.3,1900.0 859.3,1900.8 860.3,1901.5 861.3,1902.1 862.3,1902.6 863.3,1903.0 864.3,1903.2 865.3,1903.4 865.3,1903.4 808.3,1903.4" fill="#f20000" stroke="#000" stroke-width="1.2" stroke-linejoin="round"/>
<polyline points="749.4,1903.3 750.4,1903.1 751.4,1902.6 752.4,1902.0 753.4,1901.2 754.4,1900.4 755.4,1899.5 756.4,1898.6 757.4,1897.7 758.4,1896.9 759.4,1896.1 760.4,1895.4 761.4,1894.9 762.4,1894.6 763.4,1894.4 764.4,1894.4 765.4,1894.4 766.4,1894.4 767.4,1894.4 768.4,1894.4 769.4,1894.4 770.4,1894.4 771.4,1894.4 772.4,1894.4 773.4,1894.4 774.4,1894.4 775.4,1894.4 776.4,1894.4 777.4,1894.4 778.4,1894.4 779.4,1894.4 780.4,1894.4 781.4,1894.4 782.4,1894.4 783.4,1894.4 784.4,1894.4 785.4,1894.4 786.4,1894.4 787.4,1894.4 788.4,1894.4 789.4,1894.4 790.4,1894.4 791.4,1894.4 792.4,1894.4 793.4,1894.4 794.4,1894.4 795.4,1894.4 796.4,1894.4 797.4,1894.4 798.4,1894.4 799.4,1894.4 800.4,1894.4 801.4,1894.4 802.4,1894.4 803.4,1894.4 804.4,1894.4 805.4,1894.4 806.4,1894.4 807.4,1894.4 808.4,1894.4 809.4,1894.4 810.4,1894.4 811.4,1894.4 812.4,1894.4 813.4,1894.4 814.4,1894.4 815.4,1894.4 816.4,1894.4 817.4,1894.4 818.4,1894.4 819.4,1894.4 820.4,1894.4 821.4,1894.4 822.4,1894.4 823.4,1894.4 824.4,1894.4 825.4,1894.4 826.4,1894.4 827.4,1894.4 828.4,1894.4 829.4,1894.4 830.4,1894.4 831.4,1894.4 832.4,1894.4 833.4,1894.4 834.4,1894.4 835.4,1894.5 836.4,1894.6 837.4,1894.8 838.4,1895.1 839.4,1895.3 840.4,1895.7 841.4,1896.0 842.4,1896.4 843.4,1896.9 844.4,1897.3 845.4,1897.8 846.4,1898.2 847.4,1898.7 848.4,1899.2 849.4,1899.7 850.4,1900.1 851.4,1900.6 852.4,1901.0 853.4,1901.5 854.4,1901.9 855.4,1902.2 856.4,1902.5 857.4,1902.8 858.4,1903.0 859.4,1903.2 860.4,1903.3 861.4,1903.4" fill="none" stroke="#500" stroke-width="1.0" opacity="0.85"/>
<line x1="663.4" y1="1657.7" x2="663.4" y2="1903.4" stroke="#333" stroke-width="1.3"/>
<line x1="659.4" y1="1903.4" x2="916.0" y2="1903.4" stroke="#111" stroke-width="1.8"/>
<line x1="663.4" y1="1903.4" x2="663.4" y2="1910.4" stroke="#333" stroke-width="1.1"/>
<text x="663.4" y="1922.4" font-size="8.5" fill="#999" text-anchor="middle">0</text>
<line x1="676.9" y1="1903.4" x2="676.9" y2="1907.4" stroke="#444" stroke-width="1"/>
<line x1="690.5" y1="1903.4" x2="690.5" y2="1907.4" stroke="#444" stroke-width="1"/>
<line x1="704.0" y1="1903.4" x2="704.0" y2="1907.4" stroke="#444" stroke-width="1"/>
<line x1="717.5" y1="1903.4" x2="717.5" y2="1910.4" stroke="#333" stroke-width="1.1"/>
<text x="717.5" y="1922.4" font-size="8.5" fill="#999" text-anchor="middle">30</text>
<line x1="731.1" y1="1903.4" x2="731.1" y2="1907.4" stroke="#444" stroke-width="1"/>
<line x1="744.6" y1="1903.4" x2="744.6" y2="1907.4" stroke="#444" stroke-width="1"/>
<line x1="758.1" y1="1903.4" x2="758.1" y2="1907.4" stroke="#444" stroke-width="1"/>
<line x1="771.7" y1="1903.4" x2="771.7" y2="1910.4" stroke="#333" stroke-width="1.1"/>
<text x="771.7" y="1922.4" font-size="8.5" fill="#999" text-anchor="middle">60</text>
<line x1="785.2" y1="1903.4" x2="785.2" y2="1907.4" stroke="#444" stroke-width="1"/>
<line x1="798.7" y1="1903.4" x2="798.7" y2="1907.4" stroke="#444" stroke-width="1"/>
<line x1="812.3" y1="1903.4" x2="812.3" y2="1907.4" stroke="#444" stroke-width="1"/>
<line x1="825.8" y1="1903.4" x2="825.8" y2="1910.4" stroke="#333" stroke-width="1.1"/>
<text x="825.8" y="1922.4" font-size="8.5" fill="#999" text-anchor="middle">90</text>
<line x1="839.3" y1="1903.4" x2="839.3" y2="1907.4" stroke="#444" stroke-width="1"/>
<line x1="852.8" y1="1903.4" x2="852.8" y2="1907.4" stroke="#444" stroke-width="1"/>
<line x1="866.4" y1="1903.4" x2="866.4" y2="1907.4" stroke="#444" stroke-width="1"/>
<line x1="879.9" y1="1903.4" x2="879.9" y2="1910.4" stroke="#333" stroke-width="1.1"/>
<text x="879.9" y="1922.4" font-size="8.5" fill="#999" text-anchor="middle">120</text>
<text x="789.7" y="1931.4" font-size="8.5" fill="#999" text-anchor="middle">Channels (FL2-A)</text>
<line x1="655.4" y1="1903.4" x2="663.4" y2="1903.4" stroke="#444" stroke-width="1"/>
<text transform="translate(651.4,1903.4) rotate(-90)" font-size="8" fill="#999" text-anchor="middle">0</text>
<line x1="655.4" y1="1840.6" x2="663.4" y2="1840.6" stroke="#444" stroke-width="1"/>
<text transform="translate(651.4,1840.6) rotate(-90)" font-size="8" fill="#999" text-anchor="middle">200</text>
<line x1="655.4" y1="1777.8" x2="663.4" y2="1777.8" stroke="#444" stroke-width="1"/>
<text transform="translate(651.4,1777.8) rotate(-90)" font-size="8" fill="#999" text-anchor="middle">400</text>
<line x1="655.4" y1="1715.0" x2="663.4" y2="1715.0" stroke="#444" stroke-width="1"/>
<text transform="translate(651.4,1715.0) rotate(-90)" font-size="8" fill="#999" text-anchor="middle">600</text>
<line x1="659.4" y1="1903.4" x2="663.4" y2="1903.4" stroke="#555" stroke-width="0.9"/>
<line x1="659.4" y1="1890.8" x2="663.4" y2="1890.8" stroke="#555" stroke-width="0.9"/>
<line x1="659.4" y1="1878.3" x2="663.4" y2="1878.3" stroke="#555" stroke-width="0.9"/>
<line x1="659.4" y1="1865.7" x2="663.4" y2="1865.7" stroke="#555" stroke-width="0.9"/>
<line x1="659.4" y1="1853.2" x2="663.4" y2="1853.2" stroke="#555" stroke-width="0.9"/>
<line x1="659.4" y1="1840.6" x2="663.4" y2="1840.6" stroke="#555" stroke-width="0.9"/>
<line x1="659.4" y1="1828.0" x2="663.4" y2="1828.0" stroke="#555" stroke-width="0.9"/>
<line x1="659.4" y1="1815.5" x2="663.4" y2="1815.5" stroke="#555" stroke-width="0.9"/>
<line x1="659.4" y1="1802.9" x2="663.4" y2="1802.9" stroke="#555" stroke-width="0.9"/>
<line x1="659.4" y1="1790.4" x2="663.4" y2="1790.4" stroke="#555" stroke-width="0.9"/>
<line x1="659.4" y1="1777.8" x2="663.4" y2="1777.8" stroke="#555" stroke-width="0.9"/>
<line x1="659.4" y1="1765.2" x2="663.4" y2="1765.2" stroke="#555" stroke-width="0.9"/>
<line x1="659.4" y1="1752.7" x2="663.4" y2="1752.7" stroke="#555" stroke-width="0.9"/>
<line x1="659.4" y1="1740.1" x2="663.4" y2="1740.1" stroke="#555" stroke-width="0.9"/>
<line x1="659.4" y1="1727.6" x2="663.4" y2="1727.6" stroke="#555" stroke-width="0.9"/>
<line x1="659.4" y1="1715.0" x2="663.4" y2="1715.0" stroke="#555" stroke-width="0.9"/>
<line x1="659.4" y1="1702.4" x2="663.4" y2="1702.4" stroke="#555" stroke-width="0.9"/>
<line x1="659.4" y1="1689.9" x2="663.4" y2="1689.9" stroke="#555" stroke-width="0.9"/>
<line x1="659.4" y1="1677.3" x2="663.4" y2="1677.3" stroke="#555" stroke-width="0.9"/>
<line x1="659.4" y1="1664.8" x2="663.4" y2="1664.8" stroke="#555" stroke-width="0.9"/>
<text transform="translate(641.4,1790.6) rotate(-90)" font-size="8.5" fill="#888" text-anchor="middle">Number</text>
<polygon points="750.4,1911.4 759.4,1911.4 754.9,1904.4" fill="#000"/>
<polygon points="836.1,1911.4 845.1,1911.4 840.6,1904.4" fill="#000"/>
<polygon points="1074.4,1906.4 1074.4,1906.4 1075.4,1906.2 1076.4,1905.8 1077.4,1905.1 1078.4,1904.2 1079.4,1903.2 1080.4,1902.0 1081.4,1900.7 1082.4,1899.5 1083.4,1898.2 1084.4,1896.9 1085.4,1895.7 1086.4,1894.7 1087.4,1893.8 1088.4,1893.1 1089.4,1892.6 1090.4,1892.4 1091.4,1892.4 1092.4,1892.4 1093.4,1892.4 1094.4,1892.4 1095.4,1892.4 1096.4,1892.4 1097.4,1892.4 1098.4,1892.4 1099.4,1892.4 1100.4,1892.4 1101.4,1892.4 1102.4,1892.4 1103.4,1892.4 1104.4,1892.4 1105.4,1892.4 1106.4,1892.4 1107.4,1892.4 1108.4,1892.4 1109.4,1892.4 1110.4,1892.4 1111.4,1892.4 1112.4,1892.4 1113.4,1892.4 1114.4,1892.4 1115.4,1892.4 1116.4,1892.4 1117.4,1892.4 1118.4,1892.4 1119.4,1892.4 1120.4,1892.4 1121.4,1892.4 1122.4,1892.4 1123.4,1892.4 1124.4,1892.4 1125.4,1892.4 1126.4,1892.4 1127.4,1892.4 1128.4,1892.4 1129.4,1892.4 1130.4,1892.4 1131.4,1892.4 1132.4,1892.4 1133.4,1892.4 1134.4,1892.4 1135.4,1892.4 1136.4,1892.4 1137.4,1892.4 1138.4,1892.4 1139.4,1892.4 1140.4,1892.4 1141.4,1892.4 1142.4,1892.4 1143.4,1892.4 1144.4,1892.4 1145.4,1892.4 1146.4,1892.4 1147.4,1892.4 1148.4,1892.4 1149.4,1892.4 1150.4,1892.4 1151.4,1892.4 1152.4,1892.4 1153.4,1892.4 1154.4,1892.4 1155.4,1892.4 1156.4,1892.4 1157.4,1892.4 1158.4,1892.4 1159.4,1892.4 1160.4,1892.4 1161.4,1892.4 1162.4,1892.4 1163.4,1892.4 1164.4,1892.4 1165.4,1892.5 1166.4,1892.6 1167.4,1892.8 1168.4,1893.1 1169.4,1893.4 1170.4,1893.8 1171.4,1894.3 1172.4,1894.8 1173.4,1895.4 1174.4,1895.9 1175.4,1896.6 1176.4,1897.2 1177.4,1897.9 1178.4,1898.5 1179.4,1899.2 1180.4,1899.9 1181.4,1900.6 1182.4,1901.2 1183.4,1901.9 1184.4,1902.5 1185.4,1903.1 1186.4,1903.7 1187.4,1904.2 1188.4,1904.7 1189.4,1905.1 1190.4,1905.5 1191.4,1905.8 1192.4,1906.1 1193.4,1906.3 1194.4,1906.4 1195.1,1906.4" fill="url(#shatch)"/>
<polyline points="983.4,1905.2 984.4,1905.3 985.4,1905.3 986.4,1905.3 987.4,1905.2 988.4,1905.2 989.4,1905.2 990.4,1905.2 991.4,1905.2 992.4,1905.2 993.4,1905.2 994.4,1905.2 995.4,1905.3 996.4,1905.2 997.4,1905.2 998.4,1905.1 999.4,1905.3 1000.4,1905.2 1001.4,1905.4 1002.4,1905.2 1003.4,1905.2 1004.4,1905.3 1005.4,1905.1 1006.4,1905.2 1007.4,1905.3 1008.4,1905.2 1009.4,1905.2 1010.4,1905.2 1011.4,1905.3 1012.4,1905.3 1013.4,1905.3 1014.4,1905.2 1015.4,1905.3 1016.4,1905.3 1017.4,1905.2 1018.4,1905.3 1019.4,1905.3 1020.4,1905.2 1021.4,1905.2 1022.4,1905.3 1023.4,1905.3 1024.4,1905.3 1025.4,1905.3 1026.4,1905.3 1027.4,1905.2 1028.4,1905.2 1029.4,1905.4 1030.4,1905.1 1031.4,1905.3 1032.4,1905.2 1033.4,1905.2 1034.4,1905.1 1035.4,1905.3 1036.4,1905.3 1037.4,1905.1 1038.4,1905.4 1039.4,1905.4 1040.4,1905.2 1041.4,1905.3 1042.4,1905.1 1043.4,1905.2 1044.4,1905.2 1045.4,1905.1 1046.4,1905.2 1047.4,1905.2 1048.4,1905.2 1049.4,1905.3 1050.4,1905.3 1051.4,1905.2 1052.4,1905.3 1053.4,1905.1 1054.4,1905.2 1055.4,1905.2 1056.4,1905.4 1057.4,1905.3 1058.4,1905.3 1059.4,1905.2 1060.4,1901.6 1061.4,1897.3 1062.4,1890.9 1063.4,1883.1 1064.4,1872.8 1065.4,1860.4 1066.4,1846.4 1067.4,1832.6 1068.4,1817.0 1069.4,1800.8 1070.4,1785.9 1071.4,1770.4 1072.4,1754.9 1073.4,1741.7 1074.4,1730.1 1075.4,1720.3 1076.4,1710.8 1077.4,1696.2 1078.4,1675.7 1079.4,1668.5 1080.4,1675.6 1081.4,1696.2 1082.4,1707.8 1083.4,1715.0 1084.4,1724.0 1085.4,1735.2 1086.4,1748.3 1087.4,1762.2 1088.4,1776.5 1089.4,1791.9 1090.4,1807.8 1091.4,1822.3 1092.4,1837.4 1093.4,1851.8 1094.4,1863.5 1095.4,1873.4 1096.4,1882.6 1097.4,1888.5 1098.4,1893.5 1099.4,1894.8 1100.4,1894.1 1101.4,1894.4 1102.4,1894.3 1103.4,1895.0 1104.4,1894.6 1105.4,1894.5 1106.4,1894.9 1107.4,1894.4 1108.4,1894.5 1109.4,1893.9 1110.4,1894.5 1111.4,1894.7 1112.4,1895.1 1113.4,1895.0 1114.4,1894.2 1115.4,1895.1 1116.4,1895.1 1117.4,1895.0 1118.4,1894.5 1119.4,1894.1 1120.4,1894.4 1121.4,1894.2 1122.4,1895.1 1123.4,1895.2 1124.4,1894.2 1125.4,1894.8 1126.4,1894.3 1127.4,1894.8 1128.4,1895.0 1129.4,1894.9 1130.4,1895.1 1131.4,1894.0 1132.4,1894.5 1133.4,1894.8 1134.4,1894.6 1135.4,1894.7 1136.4,1895.1 1137.4,1894.1 1138.4,1894.5 1139.4,1894.0 1140.4,1894.6 1141.4,1894.2 1142.4,1894.3 1143.4,1894.1 1144.4,1892.3 1145.4,1891.7 1146.4,1891.6 1147.4,1889.8 1148.4,1888.9 1149.4,1888.4 1150.4,1886.8 1151.4,1885.0 1152.4,1884.3 1153.4,1882.3 1154.4,1881.9 1155.4,1880.4 1156.4,1878.6 1157.4,1877.9 1158.4,1876.6 1159.4,1874.6 1160.4,1874.0 1161.4,1872.6 1162.4,1872.4 1163.4,1871.7 1164.4,1870.8 1165.4,1870.6 1166.4,1869.2 1167.4,1870.0 1168.4,1869.7 1169.4,1870.5 1170.4,1870.4 1171.4,1871.2 1172.4,1871.9 1173.4,1873.2 1174.4,1874.1 1175.4,1874.3 1176.4,1876.2 1177.4,1877.7 1178.4,1879.2 1179.4,1880.6 1180.4,1882.2 1181.4,1884.1 1182.4,1884.9 1183.4,1887.0 1184.4,1888.9 1185.4,1889.8 1186.4,1892.2 1187.4,1893.5 1188.4,1894.2 1189.4,1896.6 1190.4,1897.4 1191.4,1898.1 1192.4,1899.2 1193.4,1901.0 1194.4,1901.5 1195.4,1901.6 1196.4,1902.6 1197.4,1904.8 1198.4,1905.2 1199.4,1905.1 1200.4,1905.2 1201.4,1905.3 1202.4,1905.3 1203.4,1905.3 1204.4,1905.2 1205.4,1905.3 1206.4,1905.1 1207.4,1905.2 1208.4,1905.3 1209.4,1905.3 1210.4,1905.2 1211.4,1905.3 1212.4,1905.2 1213.4,1905.3 1214.4,1905.2 1215.4,1905.2 1216.4,1905.3 1217.4,1905.2 1218.4,1905.3 1219.4,1905.2 1220.4,1905.2 1221.4,1905.3 1222.4,1905.3 1223.4,1905.4 1224.4,1905.3 1225.4,1905.2 1226.4,1905.3 1227.4,1905.2 1228.4,1905.4 1229.4,1905.2 1230.4,1905.3 1231.4,1905.2 1232.4,1905.3 1233.4,1905.4 1234.4,1905.3 1235.4,1905.3 1236.4,1905.3 1237.4,1905.2 1238.4,1905.3 1239.4,1905.3 1240.4,1905.1 1241.4,1905.2 1242.4,1905.2 1243.4,1905.2 1244.4,1905.3 1245.4,1905.3" fill="none" stroke="#111" stroke-width="1.1"/>
<polyline points="983.4,1905.4 984.4,1905.4 985.4,1905.4 986.4,1905.4 987.4,1905.4 988.4,1905.4 989.4,1905.4 990.4,1905.4 991.4,1905.4 992.4,1905.4 993.4,1905.4 994.4,1905.4 995.4,1905.4 996.4,1905.4 997.4,1905.4 998.4,1905.4 999.4,1905.4 1000.4,1905.4 1001.4,1905.4 1002.4,1905.4 1003.4,1905.4 1004.4,1905.4 1005.4,1905.4 1006.4,1905.4 1007.4,1905.4 1008.4,1905.4 1009.4,1905.4 1010.4,1905.4 1011.4,1905.4 1012.4,1905.4 1013.4,1905.4 1014.4,1905.4 1015.4,1905.4 1016.4,1905.4 1017.4,1905.4 1018.4,1905.4 1019.4,1905.4 1020.4,1905.4 1021.4,1905.4 1022.4,1905.4 1023.4,1905.4 1024.4,1905.4 1025.4,1905.4 1026.4,1905.4 1027.4,1905.4 1028.4,1905.4 1029.4,1905.4 1030.4,1905.4 1031.4,1905.4 1032.4,1905.4 1033.4,1905.4 1034.4,1905.4 1035.4,1905.4 1036.4,1905.4 1037.4,1905.4 1038.4,1905.4 1039.4,1905.4 1040.4,1905.4 1041.4,1905.4 1042.4,1905.4 1043.4,1905.4 1044.4,1905.4 1045.4,1905.4 1046.4,1905.4 1047.4,1905.4 1048.4,1905.4 1049.4,1905.4 1050.4,1905.4 1051.4,1905.4 1052.4,1905.4 1053.4,1905.4 1054.4,1905.4 1055.4,1905.4 1056.4,1905.4 1057.4,1905.4 1058.4,1905.4 1059.4,1905.4 1060.4,1904.0 1061.4,1900.1 1062.4,1894.0 1063.4,1885.8 1064.4,1875.6 1065.4,1863.7 1066.4,1850.4 1067.4,1836.1 1068.4,1821.0 1069.4,1805.5 1070.4,1790.1 1071.4,1775.0 1072.4,1760.7 1073.4,1747.6 1074.4,1735.8 1075.4,1725.7 1076.4,1717.4 1077.4,1711.0 1078.4,1706.9 1079.4,1705.1 1080.4,1705.6 1081.4,1708.4 1082.4,1713.4 1083.4,1720.7 1084.4,1729.8 1085.4,1740.8 1086.4,1753.2 1087.4,1766.9 1088.4,1781.4 1089.4,1796.5 1090.4,1811.7 1091.4,1826.8 1092.4,1841.1 1093.4,1854.5 1094.4,1866.4 1095.4,1876.7 1096.4,1885.0 1097.4,1891.3 1098.4,1895.3 1099.4,1897.0 1100.4,1897.0 1101.4,1897.0 1102.4,1897.0 1103.4,1897.0 1104.4,1897.0 1105.4,1897.0 1106.4,1897.0 1107.4,1897.0 1108.4,1897.0 1109.4,1897.0 1110.4,1897.0 1111.4,1897.0 1112.4,1897.0 1113.4,1897.0 1114.4,1897.0 1115.4,1897.0 1116.4,1897.0 1117.4,1897.0 1118.4,1897.0 1119.4,1897.0 1120.4,1897.0 1121.4,1897.0 1122.4,1897.0 1123.4,1897.0 1124.4,1897.0 1125.4,1897.0 1126.4,1897.0 1127.4,1897.0 1128.4,1897.0 1129.4,1897.0 1130.4,1897.0 1131.4,1897.0 1132.4,1897.0 1133.4,1897.0 1134.4,1897.0 1135.4,1897.0 1136.4,1897.0 1137.4,1897.0 1138.4,1897.0 1139.4,1897.0 1140.4,1897.0 1141.4,1896.8 1142.4,1896.4 1143.4,1896.0 1144.4,1895.4 1145.4,1894.7 1146.4,1893.8 1147.4,1892.9 1148.4,1891.8 1149.4,1890.7 1150.4,1889.5 1151.4,1888.2 1152.4,1886.9 1153.4,1885.6 1154.4,1884.3 1155.4,1882.9 1156.4,1881.6 1157.4,1880.3 1158.4,1879.1 1159.4,1877.9 1160.4,1876.9 1161.4,1875.9 1162.4,1875.0 1163.4,1874.2 1164.4,1873.6 1165.4,1873.1 1166.4,1872.8 1167.4,1872.6 1168.4,1872.7 1169.4,1873.0 1170.4,1873.4 1171.4,1873.9 1172.4,1874.6 1173.4,1875.5 1174.4,1876.5 1175.4,1877.6 1176.4,1878.8 1177.4,1880.1 1178.4,1881.5 1179.4,1883.0 1180.4,1884.5 1181.4,1886.1 1182.4,1887.7 1183.4,1889.4 1184.4,1891.0 1185.4,1892.6 1186.4,1894.1 1187.4,1895.7 1188.4,1897.1 1189.4,1898.5 1190.4,1899.8 1191.4,1900.9 1192.4,1902.0 1193.4,1902.9 1194.4,1903.6 1195.4,1904.2 1196.4,1904.7 1197.4,1905.0 1198.4,1905.3 1199.4,1905.4 1200.4,1905.4 1201.4,1905.4 1202.4,1905.4 1203.4,1905.4 1204.4,1905.4 1205.4,1905.4 1206.4,1905.4 1207.4,1905.4 1208.4,1905.4 1209.4,1905.4 1210.4,1905.4 1211.4,1905.4 1212.4,1905.4 1213.4,1905.4 1214.4,1905.4 1215.4,1905.4 1216.4,1905.4 1217.4,1905.4 1218.4,1905.4 1219.4,1905.4 1220.4,1905.4 1221.4,1905.4 1222.4,1905.4 1223.4,1905.4 1224.4,1905.4 1225.4,1905.4 1226.4,1905.4 1227.4,1905.4 1228.4,1905.4 1229.4,1905.4 1230.4,1905.4 1231.4,1905.4 1232.4,1905.4 1233.4,1905.4 1234.4,1905.4 1235.4,1905.4 1236.4,1905.4 1237.4,1905.4 1238.4,1905.4 1239.4,1905.4 1240.4,1905.4 1241.4,1905.4 1242.4,1905.4 1243.4,1905.4 1244.4,1905.4 1245.4,1905.4" fill="none" stroke="#222" stroke-width="1.0"/>
<polygon points="1059.3,1906.4 1059.8,1906.1 1060.3,1905.2 1060.8,1903.7 1061.3,1901.6 1061.8,1898.9 1062.3,1895.7 1062.8,1891.9 1063.3,1887.6 1063.8,1882.8 1064.3,1877.6 1064.8,1871.9 1065.3,1865.8 1065.8,1859.4 1066.3,1852.7 1066.8,1845.6 1067.3,1838.4 1067.8,1830.9 1068.3,1823.3 1068.8,1815.6 1069.3,1807.9 1069.8,1800.1 1070.3,1792.4 1070.8,1784.8 1071.3,1777.3 1071.8,1770.0 1072.3,1763.0 1072.8,1756.2 1073.3,1749.7 1073.8,1743.5 1074.3,1737.8 1074.8,1732.5 1075.3,1727.6 1075.8,1723.2 1076.3,1719.4 1076.8,1716.0 1077.3,1713.3 1077.8,1711.1 1078.3,1709.4 1078.8,1708.4 1079.3,1708.0 1079.8,1708.2 1080.3,1709.0 1080.8,1710.4 1081.3,1712.3 1081.8,1714.9 1082.3,1718.0 1082.8,1721.6 1083.3,1725.8 1083.8,1730.5 1084.3,1735.6 1084.8,1741.1 1085.3,1747.1 1085.8,1753.4 1086.3,1760.0 1086.8,1767.0 1087.3,1774.1 1087.8,1781.5 1088.3,1789.0 1088.8,1796.7 1089.3,1804.4 1089.8,1812.1 1090.3,1819.8 1090.8,1827.4 1091.3,1834.9 1091.8,1842.2 1092.3,1849.3 1092.8,1856.1 1093.3,1862.7 1093.8,1868.9 1094.3,1874.8 1094.8,1880.2 1095.3,1885.2 1095.8,1889.7 1096.3,1893.8 1096.8,1897.3 1097.3,1900.2 1097.8,1902.6 1098.3,1904.4 1098.8,1905.7 1099.3,1906.3 1099.3,1906.4 1059.3,1906.4" fill="#f20000" stroke="#000" stroke-width="1.2" stroke-linejoin="round"/>
<polygon points="1139.6,1906.4 1140.6,1906.3 1141.6,1906.1 1142.6,1905.8 1143.6,1905.3 1144.6,1904.6 1145.6,1903.9 1146.6,1903.0 1147.6,1902.0 1148.6,1901.0 1149.6,1899.8 1150.6,1898.6 1151.6,1897.3 1152.6,1896.0 1153.6,1894.7 1154.6,1893.4 1155.6,1892.0 1156.6,1890.7 1157.6,1889.5 1158.6,1888.2 1159.6,1887.1 1160.6,1886.0 1161.6,1885.1 1162.6,1884.2 1163.6,1883.5 1164.6,1882.8 1165.6,1882.3 1166.6,1882.0 1167.6,1881.8 1168.6,1881.7 1169.6,1881.8 1170.6,1882.0 1171.6,1882.3 1172.6,1882.7 1173.6,1883.2 1174.6,1883.9 1175.6,1884.7 1176.6,1885.5 1177.6,1886.5 1178.6,1887.5 1179.6,1888.6 1180.6,1889.7 1181.6,1890.9 1182.6,1892.1 1183.6,1893.3 1184.6,1894.6 1185.6,1895.8 1186.6,1897.0 1187.6,1898.2 1188.6,1899.4 1189.6,1900.5 1190.6,1901.5 1191.6,1902.5 1192.6,1903.3 1193.6,1904.1 1194.6,1904.8 1195.6,1905.3 1196.6,1905.8 1197.6,1906.1 1198.6,1906.3 1199.6,1906.4 1199.6,1906.4 1139.6,1906.4" fill="#f20000" stroke="#000" stroke-width="1.2" stroke-linejoin="round"/>
<polyline points="1074.4,1906.4 1075.4,1906.2 1076.4,1905.8 1077.4,1905.1 1078.4,1904.2 1079.4,1903.2 1080.4,1902.0 1081.4,1900.7 1082.4,1899.5 1083.4,1898.2 1084.4,1896.9 1085.4,1895.7 1086.4,1894.7 1087.4,1893.8 1088.4,1893.1 1089.4,1892.6 1090.4,1892.4 1091.4,1892.4 1092.4,1892.4 1093.4,1892.4 1094.4,1892.4 1095.4,1892.4 1096.4,1892.4 1097.4,1892.4 1098.4,1892.4 1099.4,1892.4 1100.4,1892.4 1101.4,1892.4 1102.4,1892.4 1103.4,1892.4 1104.4,1892.4 1105.4,1892.4 1106.4,1892.4 1107.4,1892.4 1108.4,1892.4 1109.4,1892.4 1110.4,1892.4 1111.4,1892.4 1112.4,1892.4 1113.4,1892.4 1114.4,1892.4 1115.4,1892.4 1116.4,1892.4 1117.4,1892.4 1118.4,1892.4 1119.4,1892.4 1120.4,1892.4 1121.4,1892.4 1122.4,1892.4 1123.4,1892.4 1124.4,1892.4 1125.4,1892.4 1126.4,1892.4 1127.4,1892.4 1128.4,1892.4 1129.4,1892.4 1130.4,1892.4 1131.4,1892.4 1132.4,1892.4 1133.4,1892.4 1134.4,1892.4 1135.4,1892.4 1136.4,1892.4 1137.4,1892.4 1138.4,1892.4 1139.4,1892.4 1140.4,1892.4 1141.4,1892.4 1142.4,1892.4 1143.4,1892.4 1144.4,1892.4 1145.4,1892.4 1146.4,1892.4 1147.4,1892.4 1148.4,1892.4 1149.4,1892.4 1150.4,1892.4 1151.4,1892.4 1152.4,1892.4 1153.4,1892.4 1154.4,1892.4 1155.4,1892.4 1156.4,1892.4 1157.4,1892.4 1158.4,1892.4 1159.4,1892.4 1160.4,1892.4 1161.4,1892.4 1162.4,1892.4 1163.4,1892.4 1164.4,1892.4 1165.4,1892.5 1166.4,1892.6 1167.4,1892.8 1168.4,1893.1 1169.4,1893.4 1170.4,1893.8 1171.4,1894.3 1172.4,1894.8 1173.4,1895.4 1174.4,1895.9 1175.4,1896.6 1176.4,1897.2 1177.4,1897.9 1178.4,1898.5 1179.4,1899.2 1180.4,1899.9 1181.4,1900.6 1182.4,1901.2 1183.4,1901.9 1184.4,1902.5 1185.4,1903.1 1186.4,1903.7 1187.4,1904.2 1188.4,1904.7 1189.4,1905.1 1190.4,1905.5 1191.4,1905.8 1192.4,1906.1 1193.4,1906.3 1194.4,1906.4" fill="none" stroke="#500" stroke-width="1.0" opacity="0.85"/>
<line x1="983.4" y1="1657.7" x2="983.4" y2="1906.4" stroke="#333" stroke-width="1.3"/>
<line x1="979.4" y1="1906.4" x2="1246.3" y2="1906.4" stroke="#111" stroke-width="1.8"/>
<line x1="983.4" y1="1906.4" x2="983.4" y2="1913.4" stroke="#333" stroke-width="1.1"/>
<text x="983.4" y="1925.4" font-size="8.5" fill="#999" text-anchor="middle">0</text>
<line x1="997.5" y1="1906.4" x2="997.5" y2="1910.4" stroke="#444" stroke-width="1"/>
<line x1="1011.6" y1="1906.4" x2="1011.6" y2="1910.4" stroke="#444" stroke-width="1"/>
<line x1="1025.7" y1="1906.4" x2="1025.7" y2="1910.4" stroke="#444" stroke-width="1"/>
<line x1="1039.7" y1="1906.4" x2="1039.7" y2="1913.4" stroke="#333" stroke-width="1.1"/>
<text x="1039.7" y="1925.4" font-size="8.5" fill="#999" text-anchor="middle">30</text>
<line x1="1053.8" y1="1906.4" x2="1053.8" y2="1910.4" stroke="#444" stroke-width="1"/>
<line x1="1067.9" y1="1906.4" x2="1067.9" y2="1910.4" stroke="#444" stroke-width="1"/>
<line x1="1082.0" y1="1906.4" x2="1082.0" y2="1910.4" stroke="#444" stroke-width="1"/>
<line x1="1096.1" y1="1906.4" x2="1096.1" y2="1913.4" stroke="#333" stroke-width="1.1"/>
<text x="1096.1" y="1925.4" font-size="8.5" fill="#999" text-anchor="middle">60</text>
<line x1="1110.2" y1="1906.4" x2="1110.2" y2="1910.4" stroke="#444" stroke-width="1"/>
<line x1="1124.2" y1="1906.4" x2="1124.2" y2="1910.4" stroke="#444" stroke-width="1"/>
<line x1="1138.3" y1="1906.4" x2="1138.3" y2="1910.4" stroke="#444" stroke-width="1"/>
<line x1="1152.4" y1="1906.4" x2="1152.4" y2="1913.4" stroke="#333" stroke-width="1.1"/>
<text x="1152.4" y="1925.4" font-size="8.5" fill="#999" text-anchor="middle">90</text>
<line x1="1166.5" y1="1906.4" x2="1166.5" y2="1910.4" stroke="#444" stroke-width="1"/>
<line x1="1180.6" y1="1906.4" x2="1180.6" y2="1910.4" stroke="#444" stroke-width="1"/>
<line x1="1194.7" y1="1906.4" x2="1194.7" y2="1910.4" stroke="#444" stroke-width="1"/>
<line x1="1208.7" y1="1906.4" x2="1208.7" y2="1913.4" stroke="#333" stroke-width="1.1"/>
<text x="1208.7" y="1925.4" font-size="8.5" fill="#999" text-anchor="middle">120</text>
<text x="1114.8" y="1934.4" font-size="8.5" fill="#999" text-anchor="middle">Channels (FL2-A)</text>
<line x1="975.4" y1="1906.4" x2="983.4" y2="1906.4" stroke="#444" stroke-width="1"/>
<text transform="translate(971.4,1906.4) rotate(-90)" font-size="8" fill="#999" text-anchor="middle">0</text>
<line x1="975.4" y1="1843.3" x2="983.4" y2="1843.3" stroke="#444" stroke-width="1"/>
<text transform="translate(971.4,1843.3) rotate(-90)" font-size="8" fill="#999" text-anchor="middle">200</text>
<line x1="975.4" y1="1780.1" x2="983.4" y2="1780.1" stroke="#444" stroke-width="1"/>
<text transform="translate(971.4,1780.1) rotate(-90)" font-size="8" fill="#999" text-anchor="middle">400</text>
<line x1="975.4" y1="1717.0" x2="983.4" y2="1717.0" stroke="#444" stroke-width="1"/>
<text transform="translate(971.4,1717.0) rotate(-90)" font-size="8" fill="#999" text-anchor="middle">600</text>
<line x1="979.4" y1="1906.4" x2="983.4" y2="1906.4" stroke="#555" stroke-width="0.9"/>
<line x1="979.4" y1="1893.8" x2="983.4" y2="1893.8" stroke="#555" stroke-width="0.9"/>
<line x1="979.4" y1="1881.1" x2="983.4" y2="1881.1" stroke="#555" stroke-width="0.9"/>
<line x1="979.4" y1="1868.5" x2="983.4" y2="1868.5" stroke="#555" stroke-width="0.9"/>
<line x1="979.4" y1="1855.9" x2="983.4" y2="1855.9" stroke="#555" stroke-width="0.9"/>
<line x1="979.4" y1="1843.3" x2="983.4" y2="1843.3" stroke="#555" stroke-width="0.9"/>
<line x1="979.4" y1="1830.6" x2="983.4" y2="1830.6" stroke="#555" stroke-width="0.9"/>
<line x1="979.4" y1="1818.0" x2="983.4" y2="1818.0" stroke="#555" stroke-width="0.9"/>
<line x1="979.4" y1="1805.4" x2="983.4" y2="1805.4" stroke="#555" stroke-width="0.9"/>
<line x1="979.4" y1="1792.8" x2="983.4" y2="1792.8" stroke="#555" stroke-width="0.9"/>
<line x1="979.4" y1="1780.1" x2="983.4" y2="1780.1" stroke="#555" stroke-width="0.9"/>
<line x1="979.4" y1="1767.5" x2="983.4" y2="1767.5" stroke="#555" stroke-width="0.9"/>
<line x1="979.4" y1="1754.9" x2="983.4" y2="1754.9" stroke="#555" stroke-width="0.9"/>
<line x1="979.4" y1="1742.3" x2="983.4" y2="1742.3" stroke="#555" stroke-width="0.9"/>
<line x1="979.4" y1="1729.6" x2="983.4" y2="1729.6" stroke="#555" stroke-width="0.9"/>
<line x1="979.4" y1="1717.0" x2="983.4" y2="1717.0" stroke="#555" stroke-width="0.9"/>
<line x1="979.4" y1="1704.4" x2="983.4" y2="1704.4" stroke="#555" stroke-width="0.9"/>
<line x1="979.4" y1="1691.7" x2="983.4" y2="1691.7" stroke="#555" stroke-width="0.9"/>
<line x1="979.4" y1="1679.1" x2="983.4" y2="1679.1" stroke="#555" stroke-width="0.9"/>
<line x1="979.4" y1="1666.5" x2="983.4" y2="1666.5" stroke="#555" stroke-width="0.9"/>
<text transform="translate(961.4,1792.1) rotate(-90)" font-size="8.5" fill="#888" text-anchor="middle">Number</text>
<polygon points="1073.8,1914.4 1082.8,1914.4 1078.3,1907.4" fill="#000"/>
<polygon points="1160.5,1914.4 1169.5,1914.4 1165.0,1907.4" fill="#000"/>
<polygon points="1369.2,1902.3 1369.6,1902.3 1370.6,1902.0 1371.6,1901.4 1372.6,1900.6 1373.6,1899.7 1374.6,1898.5 1375.6,1897.3 1376.6,1896.0 1377.6,1894.7 1378.6,1893.4 1379.6,1892.2 1380.6,1891.0 1381.6,1890.1 1382.6,1889.2 1383.6,1888.7 1384.6,1888.3 1385.6,1888.3 1386.6,1888.3 1387.6,1888.3 1388.6,1888.3 1389.6,1888.3 1390.6,1888.3 1391.6,1888.3 1392.6,1888.3 1393.6,1888.3 1394.6,1888.3 1395.6,1888.3 1396.6,1888.3 1397.6,1888.3 1398.6,1888.3 1399.6,1888.3 1400.6,1888.3 1401.6,1888.3 1402.6,1888.3 1403.6,1888.3 1404.6,1888.3 1405.6,1888.3 1406.6,1888.3 1407.6,1888.3 1408.6,1888.3 1409.6,1888.3 1410.6,1888.3 1411.6,1888.3 1412.6,1888.3 1413.6,1888.3 1414.6,1888.3 1415.6,1888.3 1416.6,1888.3 1417.6,1888.3 1418.6,1888.3 1419.6,1888.3 1420.6,1888.3 1421.6,1888.3 1422.6,1888.3 1423.6,1888.3 1424.6,1888.3 1425.6,1888.3 1426.6,1888.3 1427.6,1888.3 1428.6,1888.3 1429.6,1888.3 1430.6,1888.3 1431.6,1888.3 1432.6,1888.3 1433.6,1888.3 1434.6,1888.3 1435.6,1888.3 1436.6,1888.3 1437.6,1888.3 1438.6,1888.3 1439.6,1888.3 1440.6,1888.3 1441.6,1888.3 1442.6,1888.3 1443.6,1888.3 1444.6,1888.3 1445.6,1888.3 1446.6,1888.3 1447.6,1888.3 1448.6,1888.3 1449.6,1888.3 1450.6,1888.4 1451.6,1888.5 1452.6,1888.8 1453.6,1889.1 1454.6,1889.4 1455.6,1889.8 1456.6,1890.3 1457.6,1890.8 1458.6,1891.3 1459.6,1891.9 1460.6,1892.5 1461.6,1893.2 1462.6,1893.8 1463.6,1894.5 1464.6,1895.2 1465.6,1895.8 1466.6,1896.5 1467.6,1897.2 1468.6,1897.8 1469.6,1898.4 1470.6,1899.0 1471.6,1899.6 1472.6,1900.1 1473.6,1900.6 1474.6,1901.0 1475.6,1901.4 1476.6,1901.7 1477.6,1902.0 1478.6,1902.2 1479.6,1902.3 1480.4,1902.3" fill="url(#shatch)"/>
<polyline points="1288.6,1901.3 1289.6,1901.1 1290.6,1901.1 1291.6,1901.2 1292.6,1901.2 1293.6,1901.1 1294.6,1901.1 1295.6,1901.2 1296.6,1901.1 1297.6,1901.2 1298.6,1901.1 1299.6,1901.2 1300.6,1901.3 1301.6,1901.0 1302.6,1901.1 1303.6,1901.1 1304.6,1901.3 1305.6,1901.3 1306.6,1901.2 1307.6,1901.2 1308.6,1901.2 1309.6,1901.2 1310.6,1901.3 1311.6,1901.2 1312.6,1901.1 1313.6,1901.2 1314.6,1901.1 1315.6,1901.1 1316.6,1901.1 1317.6,1901.2 1318.6,1901.2 1319.6,1901.1 1320.6,1901.2 1321.6,1901.3 1322.6,1901.1 1323.6,1901.1 1324.6,1901.2 1325.6,1901.3 1326.6,1901.1 1327.6,1901.1 1328.6,1901.3 1329.6,1901.2 1330.6,1901.3 1331.6,1901.1 1332.6,1901.2 1333.6,1901.0 1334.6,1901.1 1335.6,1901.3 1336.6,1901.1 1337.6,1901.2 1338.6,1901.1 1339.6,1901.1 1340.6,1901.2 1341.6,1901.3 1342.6,1901.0 1343.6,1901.2 1344.6,1901.0 1345.6,1901.1 1346.6,1901.1 1347.6,1901.1 1348.6,1901.1 1349.6,1901.2 1350.6,1901.3 1351.6,1901.1 1352.6,1901.2 1353.6,1901.1 1354.6,1897.6 1355.6,1895.5 1356.6,1889.3 1357.6,1882.8 1358.6,1872.7 1359.6,1861.5 1360.6,1849.8 1361.6,1835.8 1362.6,1820.9 1363.6,1806.4 1364.6,1791.5 1365.6,1777.1 1366.6,1763.1 1367.6,1749.3 1368.6,1737.0 1369.6,1726.5 1370.6,1717.2 1371.6,1710.1 1372.6,1691.9 1373.6,1676.9 1374.6,1674.9 1375.6,1686.0 1376.6,1704.6 1377.6,1710.6 1378.6,1718.1 1379.6,1729.0 1380.6,1740.9 1381.6,1753.5 1382.6,1768.8 1383.6,1783.4 1384.6,1799.2 1385.6,1814.1 1386.6,1829.4 1387.6,1843.1 1388.6,1856.6 1389.6,1867.0 1390.6,1876.2 1391.6,1883.4 1392.6,1887.7 1393.6,1889.8 1394.6,1891.0 1395.6,1890.7 1396.6,1890.6 1397.6,1890.8 1398.6,1891.0 1399.6,1890.7 1400.6,1890.9 1401.6,1890.2 1402.6,1890.5 1403.6,1891.0 1404.6,1890.7 1405.6,1890.5 1406.6,1890.6 1407.6,1890.9 1408.6,1891.0 1409.6,1891.1 1410.6,1889.8 1411.6,1890.1 1412.6,1891.0 1413.6,1890.2 1414.6,1889.8 1415.6,1890.4 1416.6,1891.0 1417.6,1890.5 1418.6,1890.5 1419.6,1890.9 1420.6,1890.4 1421.6,1891.1 1422.6,1889.9 1423.6,1890.2 1424.6,1890.0 1425.6,1889.2 1426.6,1889.1 1427.6,1889.0 1428.6,1888.3 1429.6,1887.6 1430.6,1886.7 1431.6,1884.7 1432.6,1883.5 1433.6,1883.0 1434.6,1881.8 1435.6,1879.9 1436.6,1878.3 1437.6,1876.8 1438.6,1876.4 1439.6,1874.2 1440.6,1872.7 1441.6,1871.5 1442.6,1870.8 1443.6,1869.7 1444.6,1867.7 1445.6,1867.3 1446.6,1866.3 1447.6,1865.1 1448.6,1864.6 1449.6,1863.4 1450.6,1863.7 1451.6,1863.6 1452.6,1862.8 1453.6,1862.8 1454.6,1862.8 1455.6,1863.4 1456.6,1863.7 1457.6,1864.4 1458.6,1865.9 1459.6,1867.0 1460.6,1868.6 1461.6,1869.8 1462.6,1870.8 1463.6,1873.0 1464.6,1873.8 1465.6,1876.2 1466.6,1877.6 1467.6,1878.7 1468.6,1881.6 1469.6,1883.4 1470.6,1884.7 1471.6,1886.7 1472.6,1887.7 1473.6,1890.3 1474.6,1890.7 1475.6,1892.1 1476.6,1893.5 1477.6,1895.1 1478.6,1896.4 1479.6,1896.7 1480.6,1897.6 1481.6,1898.3 1482.6,1900.8 1483.6,1901.0 1484.6,1901.1 1485.6,1901.1 1486.6,1901.0 1487.6,1901.2 1488.6,1901.2 1489.6,1901.2 1490.6,1901.1 1491.6,1901.2 1492.6,1901.2 1493.6,1901.3 1494.6,1901.2 1495.6,1901.2 1496.6,1901.0 1497.6,1901.0 1498.6,1901.1 1499.6,1901.0 1500.6,1901.0 1501.6,1901.1 1502.6,1901.1 1503.6,1901.3 1504.6,1901.1 1505.6,1901.1 1506.6,1901.2 1507.6,1901.1 1508.6,1901.0 1509.6,1901.2 1510.6,1901.1 1511.6,1901.2 1512.6,1901.2 1513.6,1901.0 1514.6,1901.3 1515.6,1901.2 1516.6,1901.1 1517.6,1901.2 1518.6,1901.3 1519.6,1901.1 1520.6,1901.2 1521.6,1901.1 1522.6,1901.2 1523.6,1901.1 1524.6,1901.1 1525.6,1901.2 1526.6,1901.3 1527.6,1901.2 1528.6,1901.0 1529.6,1901.1 1530.6,1901.3 1531.6,1901.1 1532.6,1901.2 1533.6,1901.3 1534.6,1901.1 1535.6,1901.2 1536.6,1901.2 1537.6,1901.1 1538.6,1901.2 1539.6,1901.1 1540.6,1901.3" fill="none" stroke="#111" stroke-width="1.1"/>
<polyline points="1288.6,1901.3 1289.6,1901.3 1290.6,1901.3 1291.6,1901.3 1292.6,1901.3 1293.6,1901.3 1294.6,1901.3 1295.6,1901.3 1296.6,1901.3 1297.6,1901.3 1298.6,1901.3 1299.6,1901.3 1300.6,1901.3 1301.6,1901.3 1302.6,1901.3 1303.6,1901.3 1304.6,1901.3 1305.6,1901.3 1306.6,1901.3 1307.6,1901.3 1308.6,1901.3 1309.6,1901.3 1310.6,1901.3 1311.6,1901.3 1312.6,1901.3 1313.6,1901.3 1314.6,1901.3 1315.6,1901.3 1316.6,1901.3 1317.6,1901.3 1318.6,1901.3 1319.6,1901.3 1320.6,1901.3 1321.6,1901.3 1322.6,1901.3 1323.6,1901.3 1324.6,1901.3 1325.6,1901.3 1326.6,1901.3 1327.6,1901.3 1328.6,1901.3 1329.6,1901.3 1330.6,1901.3 1331.6,1901.3 1332.6,1901.3 1333.6,1901.3 1334.6,1901.3 1335.6,1901.3 1336.6,1901.3 1337.6,1901.3 1338.6,1901.3 1339.6,1901.3 1340.6,1901.3 1341.6,1901.3 1342.6,1901.3 1343.6,1901.3 1344.6,1901.3 1345.6,1901.3 1346.6,1901.3 1347.6,1901.3 1348.6,1901.3 1349.6,1901.3 1350.6,1901.3 1351.6,1901.3 1352.6,1901.3 1353.6,1901.3 1354.6,1900.4 1355.6,1897.3 1356.6,1892.1 1357.6,1884.8 1358.6,1875.7 1359.6,1864.9 1360.6,1852.7 1361.6,1839.4 1362.6,1825.3 1363.6,1810.7 1364.6,1796.0 1365.6,1781.4 1366.6,1767.4 1367.6,1754.3 1368.6,1742.3 1369.6,1731.8 1370.6,1722.8 1371.6,1715.6 1372.6,1710.2 1373.6,1707.0 1374.6,1705.8 1375.6,1707.1 1376.6,1710.7 1377.6,1716.5 1378.6,1724.5 1379.6,1734.4 1380.6,1746.1 1381.6,1759.1 1382.6,1773.2 1383.6,1788.0 1384.6,1803.2 1385.6,1818.4 1386.6,1833.1 1387.6,1846.8 1388.6,1859.2 1389.6,1870.1 1390.6,1879.1 1391.6,1885.9 1392.6,1890.5 1393.6,1892.7 1394.6,1892.9 1395.6,1892.9 1396.6,1892.9 1397.6,1892.9 1398.6,1892.9 1399.6,1892.9 1400.6,1892.9 1401.6,1892.9 1402.6,1892.9 1403.6,1892.9 1404.6,1892.9 1405.6,1892.9 1406.6,1892.9 1407.6,1892.9 1408.6,1892.9 1409.6,1892.9 1410.6,1892.9 1411.6,1892.9 1412.6,1892.9 1413.6,1892.9 1414.6,1892.9 1415.6,1892.9 1416.6,1892.9 1417.6,1892.9 1418.6,1892.9 1419.6,1892.9 1420.6,1892.9 1421.6,1892.9 1422.6,1892.9 1423.6,1892.8 1424.6,1892.6 1425.6,1892.2 1426.6,1891.8 1427.6,1891.2 1428.6,1890.4 1429.6,1889.6 1430.6,1888.6 1431.6,1887.6 1432.6,1886.5 1433.6,1885.3 1434.6,1884.0 1435.6,1882.7 1436.6,1881.4 1437.6,1880.0 1438.6,1878.7 1439.6,1877.3 1440.6,1875.9 1441.6,1874.6 1442.6,1873.4 1443.6,1872.2 1444.6,1871.0 1445.6,1870.0 1446.6,1869.0 1447.6,1868.1 1448.6,1867.4 1449.6,1866.8 1450.6,1866.3 1451.6,1866.0 1452.6,1865.9 1453.6,1866.0 1454.6,1866.2 1455.6,1866.6 1456.6,1867.2 1457.6,1867.9 1458.6,1868.8 1459.6,1869.9 1460.6,1871.1 1461.6,1872.3 1462.6,1873.8 1463.6,1875.3 1464.6,1876.8 1465.6,1878.5 1466.6,1880.2 1467.6,1881.9 1468.6,1883.7 1469.6,1885.4 1470.6,1887.2 1471.6,1888.9 1472.6,1890.5 1473.6,1892.1 1474.6,1893.6 1475.6,1895.0 1476.6,1896.2 1477.6,1897.4 1478.6,1898.4 1479.6,1899.2 1480.6,1899.9 1481.6,1900.5 1482.6,1900.9 1483.6,1901.1 1484.6,1901.3 1485.6,1901.3 1486.6,1901.3 1487.6,1901.3 1488.6,1901.3 1489.6,1901.3 1490.6,1901.3 1491.6,1901.3 1492.6,1901.3 1493.6,1901.3 1494.6,1901.3 1495.6,1901.3 1496.6,1901.3 1497.6,1901.3 1498.6,1901.3 1499.6,1901.3 1500.6,1901.3 1501.6,1901.3 1502.6,1901.3 1503.6,1901.3 1504.6,1901.3 1505.6,1901.3 1506.6,1901.3 1507.6,1901.3 1508.6,1901.3 1509.6,1901.3 1510.6,1901.3 1511.6,1901.3 1512.6,1901.3 1513.6,1901.3 1514.6,1901.3 1515.6,1901.3 1516.6,1901.3 1517.6,1901.3 1518.6,1901.3 1519.6,1901.3 1520.6,1901.3 1521.6,1901.3 1522.6,1901.3 1523.6,1901.3 1524.6,1901.3 1525.6,1901.3 1526.6,1901.3 1527.6,1901.3 1528.6,1901.3 1529.6,1901.3 1530.6,1901.3 1531.6,1901.3 1532.6,1901.3 1533.6,1901.3 1534.6,1901.3 1535.6,1901.3 1536.6,1901.3 1537.6,1901.3 1538.6,1901.3 1539.6,1901.3 1540.6,1901.3" fill="none" stroke="#222" stroke-width="1.0"/>
<polygon points="1353.7,1902.3 1354.2,1902.0 1354.7,1901.2 1355.2,1899.8 1355.7,1897.8 1356.2,1895.3 1356.7,1892.3 1357.2,1888.8 1357.7,1884.8 1358.2,1880.4 1358.7,1875.5 1359.2,1870.2 1359.7,1864.5 1360.2,1858.5 1360.7,1852.2 1361.2,1845.6 1361.7,1838.8 1362.2,1831.7 1362.7,1824.6 1363.2,1817.3 1363.7,1809.9 1364.2,1802.6 1364.7,1795.2 1365.2,1787.9 1365.7,1780.7 1366.2,1773.7 1366.7,1766.8 1367.2,1760.2 1367.7,1753.8 1368.2,1747.7 1368.7,1742.0 1369.2,1736.6 1369.7,1731.7 1370.2,1727.1 1370.7,1723.1 1371.2,1719.5 1371.7,1716.4 1372.2,1713.8 1372.7,1711.8 1373.2,1710.3 1373.7,1709.4 1374.2,1709.0 1374.7,1709.2 1375.2,1710.0 1375.7,1711.5 1376.2,1713.5 1376.7,1716.1 1377.2,1719.3 1377.7,1723.0 1378.2,1727.3 1378.7,1732.0 1379.2,1737.3 1379.7,1742.9 1380.2,1749.0 1380.7,1755.4 1381.2,1762.1 1381.7,1769.1 1382.2,1776.4 1382.7,1783.8 1383.2,1791.4 1383.7,1799.0 1384.2,1806.7 1384.7,1814.4 1385.2,1822.1 1385.7,1829.6 1386.2,1837.0 1386.7,1844.2 1387.2,1851.1 1387.7,1857.8 1388.2,1864.1 1388.7,1870.0 1389.2,1875.6 1389.7,1880.7 1390.2,1885.3 1390.7,1889.4 1391.2,1893.0 1391.7,1896.0 1392.2,1898.4 1392.7,1900.3 1393.2,1901.6 1393.7,1902.2 1393.7,1902.3 1353.7,1902.3" fill="#f20000" stroke="#000" stroke-width="1.2" stroke-linejoin="round"/>
<polygon points="1422.5,1902.3 1423.5,1902.2 1424.5,1902.0 1425.5,1901.7 1426.5,1901.2 1427.5,1900.6 1428.5,1899.9 1429.5,1899.1 1430.5,1898.1 1431.5,1897.1 1432.5,1896.0 1433.5,1894.8 1434.5,1893.6 1435.5,1892.3 1436.5,1890.9 1437.5,1889.6 1438.5,1888.2 1439.5,1886.8 1440.5,1885.5 1441.5,1884.2 1442.5,1882.9 1443.5,1881.7 1444.5,1880.5 1445.5,1879.5 1446.5,1878.5 1447.5,1877.6 1448.5,1876.8 1449.5,1876.2 1450.5,1875.7 1451.5,1875.3 1452.5,1875.0 1453.5,1874.9 1454.5,1874.9 1455.5,1875.1 1456.5,1875.4 1457.5,1875.8 1458.5,1876.3 1459.5,1877.0 1460.5,1877.8 1461.5,1878.7 1462.5,1879.7 1463.5,1880.8 1464.5,1882.0 1465.5,1883.2 1466.5,1884.5 1467.5,1885.9 1468.5,1887.2 1469.5,1888.6 1470.5,1890.0 1471.5,1891.4 1472.5,1892.7 1473.5,1894.0 1474.5,1895.2 1475.5,1896.4 1476.5,1897.5 1477.5,1898.5 1478.5,1899.4 1479.5,1900.2 1480.5,1900.9 1481.5,1901.4 1482.5,1901.8 1483.5,1902.1 1484.5,1902.3 1484.5,1902.3 1422.5,1902.3" fill="#f20000" stroke="#000" stroke-width="1.2" stroke-linejoin="round"/>
<polyline points="1369.6,1902.3 1370.6,1902.0 1371.6,1901.4 1372.6,1900.6 1373.6,1899.7 1374.6,1898.5 1375.6,1897.3 1376.6,1896.0 1377.6,1894.7 1378.6,1893.4 1379.6,1892.2 1380.6,1891.0 1381.6,1890.1 1382.6,1889.2 1383.6,1888.7 1384.6,1888.3 1385.6,1888.3 1386.6,1888.3 1387.6,1888.3 1388.6,1888.3 1389.6,1888.3 1390.6,1888.3 1391.6,1888.3 1392.6,1888.3 1393.6,1888.3 1394.6,1888.3 1395.6,1888.3 1396.6,1888.3 1397.6,1888.3 1398.6,1888.3 1399.6,1888.3 1400.6,1888.3 1401.6,1888.3 1402.6,1888.3 1403.6,1888.3 1404.6,1888.3 1405.6,1888.3 1406.6,1888.3 1407.6,1888.3 1408.6,1888.3 1409.6,1888.3 1410.6,1888.3 1411.6,1888.3 1412.6,1888.3 1413.6,1888.3 1414.6,1888.3 1415.6,1888.3 1416.6,1888.3 1417.6,1888.3 1418.6,1888.3 1419.6,1888.3 1420.6,1888.3 1421.6,1888.3 1422.6,1888.3 1423.6,1888.3 1424.6,1888.3 1425.6,1888.3 1426.6,1888.3 1427.6,1888.3 1428.6,1888.3 1429.6,1888.3 1430.6,1888.3 1431.6,1888.3 1432.6,1888.3 1433.6,1888.3 1434.6,1888.3 1435.6,1888.3 1436.6,1888.3 1437.6,1888.3 1438.6,1888.3 1439.6,1888.3 1440.6,1888.3 1441.6,1888.3 1442.6,1888.3 1443.6,1888.3 1444.6,1888.3 1445.6,1888.3 1446.6,1888.3 1447.6,1888.3 1448.6,1888.3 1449.6,1888.3 1450.6,1888.4 1451.6,1888.5 1452.6,1888.8 1453.6,1889.1 1454.6,1889.4 1455.6,1889.8 1456.6,1890.3 1457.6,1890.8 1458.6,1891.3 1459.6,1891.9 1460.6,1892.5 1461.6,1893.2 1462.6,1893.8 1463.6,1894.5 1464.6,1895.2 1465.6,1895.8 1466.6,1896.5 1467.6,1897.2 1468.6,1897.8 1469.6,1898.4 1470.6,1899.0 1471.6,1899.6 1472.6,1900.1 1473.6,1900.6 1474.6,1901.0 1475.6,1901.4 1476.6,1901.7 1477.6,1902.0 1478.6,1902.2 1479.6,1902.3" fill="none" stroke="#500" stroke-width="1.0" opacity="0.85"/>
<line x1="1288.6" y1="1657.7" x2="1288.6" y2="1902.3" stroke="#333" stroke-width="1.3"/>
<line x1="1284.6" y1="1902.3" x2="1540.7" y2="1902.3" stroke="#111" stroke-width="1.8"/>
<line x1="1288.6" y1="1902.3" x2="1288.6" y2="1909.3" stroke="#333" stroke-width="1.1"/>
<text x="1288.6" y="1921.3" font-size="8.5" fill="#999" text-anchor="middle">0</text>
<line x1="1301.2" y1="1902.3" x2="1301.2" y2="1906.3" stroke="#444" stroke-width="1"/>
<line x1="1313.8" y1="1902.3" x2="1313.8" y2="1906.3" stroke="#444" stroke-width="1"/>
<line x1="1326.4" y1="1902.3" x2="1326.4" y2="1906.3" stroke="#444" stroke-width="1"/>
<line x1="1339.0" y1="1902.3" x2="1339.0" y2="1909.3" stroke="#333" stroke-width="1.1"/>
<text x="1339.0" y="1921.3" font-size="8.5" fill="#999" text-anchor="middle">30</text>
<line x1="1351.6" y1="1902.3" x2="1351.6" y2="1906.3" stroke="#444" stroke-width="1"/>
<line x1="1364.2" y1="1902.3" x2="1364.2" y2="1906.3" stroke="#444" stroke-width="1"/>
<line x1="1376.8" y1="1902.3" x2="1376.8" y2="1906.3" stroke="#444" stroke-width="1"/>
<line x1="1389.4" y1="1902.3" x2="1389.4" y2="1909.3" stroke="#333" stroke-width="1.1"/>
<text x="1389.4" y="1921.3" font-size="8.5" fill="#999" text-anchor="middle">60</text>
<line x1="1402.0" y1="1902.3" x2="1402.0" y2="1906.3" stroke="#444" stroke-width="1"/>
<line x1="1414.7" y1="1902.3" x2="1414.7" y2="1906.3" stroke="#444" stroke-width="1"/>
<line x1="1427.3" y1="1902.3" x2="1427.3" y2="1906.3" stroke="#444" stroke-width="1"/>
<line x1="1439.9" y1="1902.3" x2="1439.9" y2="1909.3" stroke="#333" stroke-width="1.1"/>
<text x="1439.9" y="1921.3" font-size="8.5" fill="#999" text-anchor="middle">90</text>
<line x1="1452.5" y1="1902.3" x2="1452.5" y2="1906.3" stroke="#444" stroke-width="1"/>
<line x1="1465.1" y1="1902.3" x2="1465.1" y2="1906.3" stroke="#444" stroke-width="1"/>
<line x1="1477.7" y1="1902.3" x2="1477.7" y2="1906.3" stroke="#444" stroke-width="1"/>
<line x1="1490.3" y1="1902.3" x2="1490.3" y2="1909.3" stroke="#333" stroke-width="1.1"/>
<text x="1490.3" y="1921.3" font-size="8.5" fill="#999" text-anchor="middle">120</text>
<line x1="1502.9" y1="1902.3" x2="1502.9" y2="1906.3" stroke="#444" stroke-width="1"/>
<line x1="1515.5" y1="1902.3" x2="1515.5" y2="1906.3" stroke="#444" stroke-width="1"/>
<line x1="1528.1" y1="1902.3" x2="1528.1" y2="1906.3" stroke="#444" stroke-width="1"/>
<line x1="1540.7" y1="1902.3" x2="1540.7" y2="1909.3" stroke="#333" stroke-width="1.1"/>
<text x="1540.7" y="1921.3" font-size="8.5" fill="#999" text-anchor="middle">150</text>
<text x="1414.7" y="1930.3" font-size="8.5" fill="#999" text-anchor="middle">Channels (FL2-A)</text>
<line x1="1280.6" y1="1902.3" x2="1288.6" y2="1902.3" stroke="#444" stroke-width="1"/>
<text transform="translate(1276.6,1902.3) rotate(-90)" font-size="8" fill="#999" text-anchor="middle">0</text>
<line x1="1280.6" y1="1839.5" x2="1288.6" y2="1839.5" stroke="#444" stroke-width="1"/>
<text transform="translate(1276.6,1839.5) rotate(-90)" font-size="8" fill="#999" text-anchor="middle">200</text>
<line x1="1280.6" y1="1776.8" x2="1288.6" y2="1776.8" stroke="#444" stroke-width="1"/>
<text transform="translate(1276.6,1776.8) rotate(-90)" font-size="8" fill="#999" text-anchor="middle">400</text>
<line x1="1280.6" y1="1714.0" x2="1288.6" y2="1714.0" stroke="#444" stroke-width="1"/>
<text transform="translate(1276.6,1714.0) rotate(-90)" font-size="8" fill="#999" text-anchor="middle">600</text>
<line x1="1284.6" y1="1902.3" x2="1288.6" y2="1902.3" stroke="#555" stroke-width="0.9"/>
<line x1="1284.6" y1="1889.7" x2="1288.6" y2="1889.7" stroke="#555" stroke-width="0.9"/>
<line x1="1284.6" y1="1877.2" x2="1288.6" y2="1877.2" stroke="#555" stroke-width="0.9"/>
<line x1="1284.6" y1="1864.6" x2="1288.6" y2="1864.6" stroke="#555" stroke-width="0.9"/>
<line x1="1284.6" y1="1852.1" x2="1288.6" y2="1852.1" stroke="#555" stroke-width="0.9"/>
<line x1="1284.6" y1="1839.5" x2="1288.6" y2="1839.5" stroke="#555" stroke-width="0.9"/>
<line x1="1284.6" y1="1827.0" x2="1288.6" y2="1827.0" stroke="#555" stroke-width="0.9"/>
<line x1="1284.6" y1="1814.4" x2="1288.6" y2="1814.4" stroke="#555" stroke-width="0.9"/>
<line x1="1284.6" y1="1801.9" x2="1288.6" y2="1801.9" stroke="#555" stroke-width="0.9"/>
<line x1="1284.6" y1="1789.3" x2="1288.6" y2="1789.3" stroke="#555" stroke-width="0.9"/>
<line x1="1284.6" y1="1776.8" x2="1288.6" y2="1776.8" stroke="#555" stroke-width="0.9"/>
<line x1="1284.6" y1="1764.2" x2="1288.6" y2="1764.2" stroke="#555" stroke-width="0.9"/>
<line x1="1284.6" y1="1751.7" x2="1288.6" y2="1751.7" stroke="#555" stroke-width="0.9"/>
<line x1="1284.6" y1="1739.1" x2="1288.6" y2="1739.1" stroke="#555" stroke-width="0.9"/>
<line x1="1284.6" y1="1726.6" x2="1288.6" y2="1726.6" stroke="#555" stroke-width="0.9"/>
<line x1="1284.6" y1="1714.0" x2="1288.6" y2="1714.0" stroke="#555" stroke-width="0.9"/>
<line x1="1284.6" y1="1701.4" x2="1288.6" y2="1701.4" stroke="#555" stroke-width="0.9"/>
<line x1="1284.6" y1="1688.9" x2="1288.6" y2="1688.9" stroke="#555" stroke-width="0.9"/>
<line x1="1284.6" y1="1676.3" x2="1288.6" y2="1676.3" stroke="#555" stroke-width="0.9"/>
<line x1="1284.6" y1="1663.8" x2="1288.6" y2="1663.8" stroke="#555" stroke-width="0.9"/>
<text transform="translate(1266.6,1790.0) rotate(-90)" font-size="8.5" fill="#888" text-anchor="middle">Number</text>
<polygon points="1369.8,1910.3 1378.8,1910.3 1374.3,1903.3" fill="#000"/>
<text x="162.5" y="1135.5" font-size="36.7">G1:57%</text>
<text x="162.6" y="1182.5" font-size="36.7">S:22%</text>
<text x="162.5" y="1229.5" font-size="36.7">G2/M:21%</text>
<text x="144.6" y="1450.3" font-size="36.7">NC</text>
<text x="465.1" y="1135.5" font-size="36.7">G1:71%</text>
<text x="465.2" y="1182.5" font-size="36.7">S:11%</text>
<text x="465.1" y="1229.5" font-size="36.7">G2/M:18%</text>
<text x="412.9" y="1450.3" font-size="36.7">si-P1+NC</text>
<text x="809.6" y="1135.5" font-size="36.7">G1:67%</text>
<text x="809.7" y="1182.5" font-size="36.7">S:13%</text>
<text x="809.6" y="1229.5" font-size="36.7">G2/M:20%</text>
<text x="753.2" y="1450.3" font-size="36.7">si-P2+NC</text>
<text x="1105.6" y="1135.5" font-size="36.7">G1:62%</text>
<text x="1105.7" y="1182.5" font-size="36.7">S:18%</text>
<text x="1105.6" y="1229.5" font-size="36.7">G2/M:20%</text>
<text x="1039.9" y="1450.3" font-size="36.7">si-P1+si-p16</text>
<text x="1400.6" y="1135.5" font-size="36.7">G1:60%</text>
<text x="1400.7" y="1182.5" font-size="36.7">S:19%</text>
<text x="1400.6" y="1229.5" font-size="36.7">G2/M:21%</text>
<text x="1340.8" y="1450.3" font-size="36.7">si-P2+si-p16</text>
<text x="140.9" y="1640.0" font-size="36.7">G1:56%</text>
<text x="141.0" y="1686.8" font-size="36.7">S:30%</text>
<text x="140.9" y="1733.6" font-size="36.7">G2/M:14%</text>
<text x="125.5" y="1957.3" font-size="36.7">NC</text>
<text x="457.1" y="1640.0" font-size="36.7">G1:75%</text>
<text x="457.2" y="1686.8" font-size="36.7">S:13%</text>
<text x="457.1" y="1733.6" font-size="36.7">G2/M:12%</text>
<text x="393.8" y="1957.3" font-size="36.7">si-P1+NC</text>
<text x="771.2" y="1640.0" font-size="36.7">G1:73%</text>
<text x="771.3" y="1686.8" font-size="36.7">S:13%</text>
<text x="771.2" y="1733.6" font-size="36.7">G2/M:14%</text>
<text x="734.3" y="1957.3" font-size="36.7">si-P2+NC</text>
<text x="1100.5" y="1640.0" font-size="36.7">G1:62%</text>
<text x="1100.6" y="1686.8" font-size="36.7">S:21%</text>
<text x="1100.5" y="1733.6" font-size="36.7">G2/M:15%</text>
<text x="1021.2" y="1957.3" font-size="36.7">si-P1+si-p16</text>
<text x="1389.2" y="1640.0" font-size="36.7">G1:61%</text>
<text x="1389.3" y="1686.8" font-size="36.7">S:22%</text>
<text x="1389.2" y="1733.6" font-size="36.7">G2/M:17%</text>
<text x="1321.3" y="1957.3" font-size="36.7">si-P2+si-p16</text>
</svg>
</body></html>
